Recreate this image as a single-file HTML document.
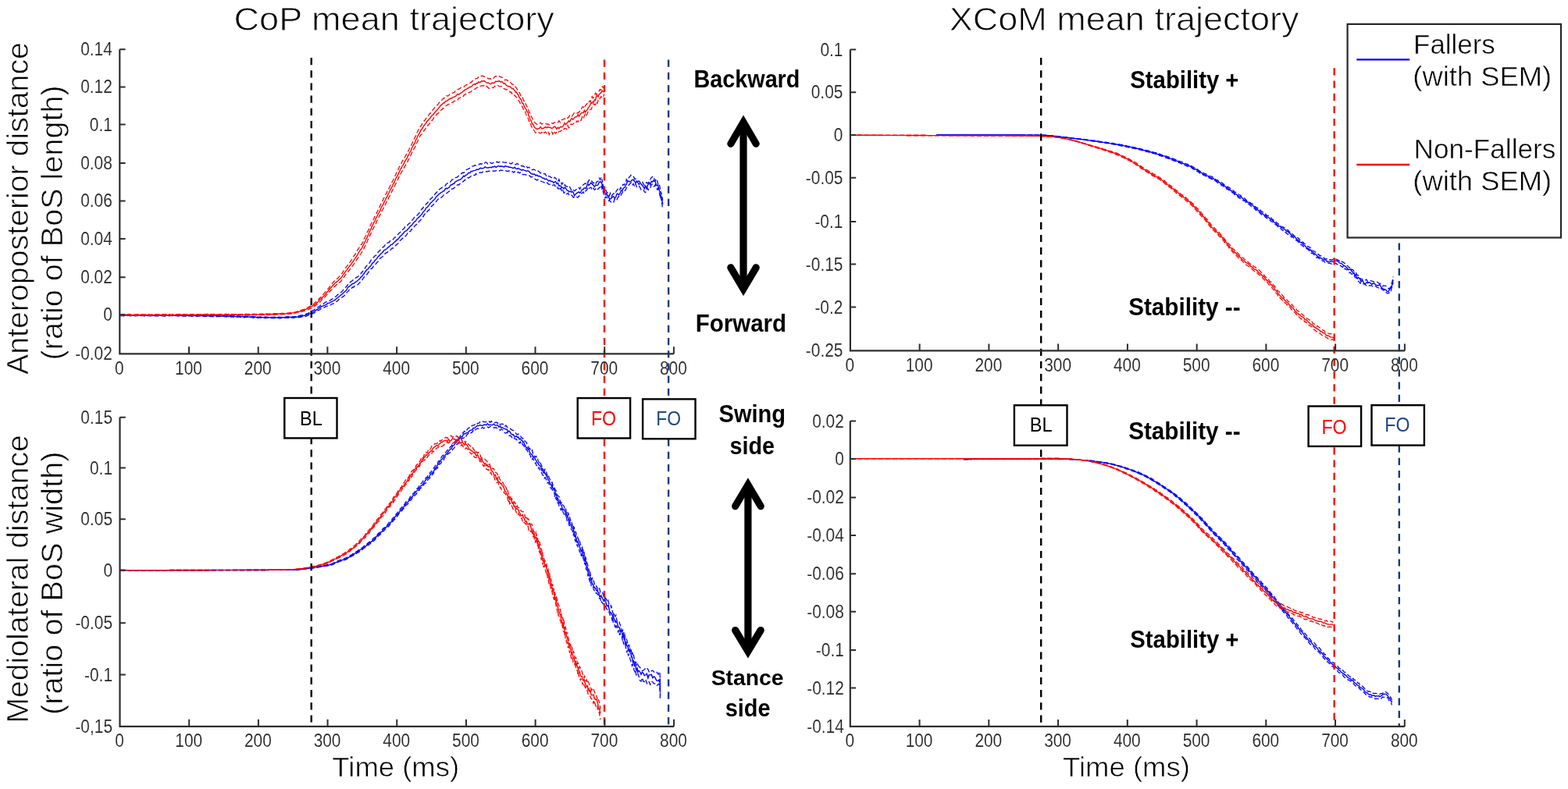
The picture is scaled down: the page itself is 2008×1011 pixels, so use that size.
<!DOCTYPE html>
<html><head><meta charset="utf-8"><title>CoP and XCoM mean trajectory</title>
<style>html,body{margin:0;padding:0;background:#fff;overflow:hidden}svg{display:block}</style>
</head><body>
<svg width="2008" height="1011" viewBox="0 0 2008 1011" font-family="'Liberation Sans', Arial, Helvetica, sans-serif">
<rect width="2008" height="1011" fill="#fff"/>
<path d="M154.0,403.7 L154.8,403.4 L155.6,403.6 L156.5,403.7 L157.4,403.0 L158.4,403.2 L159.5,403.1 L160.6,403.8 L161.7,403.4 L162.9,403.4 L164.1,403.2 L165.4,403.3 L166.7,403.5 L168.1,403.9 L169.5,403.3 L170.9,403.8 L172.3,403.6 L173.8,403.8 L175.3,403.6 L176.9,403.7 L178.5,403.5 L180.1,403.4 L181.7,403.7 L183.3,403.5 L185.0,403.7 L186.7,403.5 L188.4,403.9 L190.1,403.8 L191.8,403.9 L193.6,403.4 L195.3,403.2 L197.1,403.9 L198.9,403.6 L200.7,403.2 L202.4,403.4 L204.2,403.5 L206.0,403.7 L207.8,403.3 L209.6,403.7 L211.4,403.9 L213.2,403.9 L214.9,403.3 L216.7,403.5 L218.4,403.6 L220.2,403.7 L221.9,403.9 L223.6,403.7 L225.3,403.7 L227.0,404.0 L228.6,403.8 L230.3,403.4 L231.9,403.5 L233.5,403.8 L235.0,404.0 L236.6,403.9 L238.1,403.7 L239.5,403.6 L241.0,403.7 L242.4,404.2 L243.8,403.6 L245.1,403.5 L246.4,403.9 L247.6,404.3 L248.8,403.8 L250.0,404.0 L252.2,403.6 L254.3,403.9 L256.3,404.3 L258.3,403.9 L260.3,403.9 L262.2,404.3 L264.0,404.4 L265.8,404.5 L267.5,403.8 L269.2,403.9 L270.8,404.5 L272.4,404.1 L274.0,404.6 L275.5,404.3 L277.0,404.0 L278.4,404.6 L279.8,404.6 L281.2,404.2 L282.6,404.8 L283.9,404.4 L285.2,404.8 L286.5,404.2 L287.8,404.2 L289.1,404.6 L290.3,404.4 L291.5,405.0 L292.7,405.0 L294.0,404.7 L295.2,404.4 L296.4,404.6 L297.6,404.7 L298.8,405.2 L300.0,404.7 L302.0,405.0 L303.9,404.8 L305.7,404.9 L307.4,405.5 L309.1,405.3 L310.8,405.1 L312.4,405.5 L313.9,405.2 L315.4,405.5 L316.9,405.2 L318.3,405.1 L319.7,405.4 L321.0,405.9 L322.4,405.9 L323.7,405.4 L325.0,406.0 L326.2,405.8 L327.5,406.1 L328.7,405.5 L330.0,406.1 L331.8,406.2 L333.5,406.0 L335.0,406.2 L336.4,406.5 L337.8,406.2 L339.1,406.2 L340.4,405.9 L341.8,406.4 L343.2,406.1 L344.7,406.7 L346.3,406.5 L348.0,406.4 L350.0,406.4 L351.3,406.2 L352.6,406.1 L354.0,406.7 L355.5,406.4 L357.1,406.3 L358.7,406.5 L360.3,406.4 L362.0,406.3 L363.7,406.4 L365.4,406.2 L367.1,405.8 L368.8,405.6 L370.5,405.8 L372.1,406.0 L373.8,406.0 L375.4,406.0 L376.9,405.8 L378.4,405.7 L379.8,405.8 L381.2,405.1 L382.4,404.7 L383.6,404.5 L385.9,404.0 L387.9,404.0 L389.7,403.2 L391.2,402.8 L392.6,401.9 L394.0,401.6 L395.2,401.1 L396.5,400.2 L397.8,399.7 L399.2,398.6 L400.7,397.6 L402.1,397.5 L403.5,395.9 L404.8,395.1 L406.2,394.3 L407.6,393.3 L408.9,392.6 L410.3,391.5 L411.6,390.0 L413.0,390.0 L414.4,389.3 L415.8,388.0 L417.2,387.1 L418.6,386.6 L420.0,385.8 L421.4,385.6 L422.8,384.9 L424.2,383.9 L425.6,383.0 L427.0,382.1 L428.3,381.4 L429.6,380.2 L431.0,379.3 L432.3,377.6 L433.7,376.8 L435.0,376.0 L436.3,374.8 L437.5,374.0 L438.7,372.7 L439.8,371.2 L440.8,370.1 L442.1,369.0 L443.2,367.5 L444.0,367.1 L444.8,365.2 L445.6,364.7 L446.6,362.9 L447.8,362.4 L448.9,361.2 L450.2,360.4 L451.5,359.3 L452.9,358.2 L454.3,357.4 L455.8,355.9 L457.2,355.2 L458.5,354.6 L459.7,352.7 L460.8,351.6 L461.9,351.0 L462.9,349.1 L463.8,348.9 L464.8,347.5 L465.7,345.3 L466.6,344.3 L467.6,343.6 L468.6,341.5 L469.6,340.7 L470.6,338.8 L471.7,337.9 L472.7,337.5 L473.8,336.0 L474.8,333.9 L475.9,332.6 L477.1,331.8 L478.3,329.9 L479.2,328.8 L480.2,327.7 L481.2,327.4 L482.2,326.1 L483.2,325.3 L484.3,322.9 L485.4,322.0 L486.4,321.1 L487.5,319.7 L488.6,318.6 L489.7,317.9 L490.8,316.1 L492.0,315.9 L493.2,313.7 L494.5,313.2 L495.7,311.6 L497.0,310.8 L498.2,310.9 L499.5,308.8 L500.8,307.7 L502.1,307.1 L503.3,306.8 L504.6,305.1 L505.7,304.0 L506.7,303.9 L507.8,302.4 L508.9,301.5 L509.9,300.1 L511.0,298.7 L512.1,298.0 L513.2,296.9 L514.2,296.0 L515.3,294.4 L516.4,293.5 L517.4,293.1 L518.5,290.7 L519.6,290.9 L520.6,289.8 L521.7,288.7 L522.8,287.3 L523.8,286.5 L524.9,285.8 L525.9,284.0 L527.0,282.5 L528.0,282.0 L529.1,280.7 L530.2,279.1 L531.2,278.0 L532.3,277.5 L533.3,276.9 L534.3,275.8 L535.3,274.6 L536.3,273.5 L537.3,272.3 L538.3,270.5 L539.2,269.6 L540.2,267.6 L541.2,267.2 L542.2,265.4 L543.2,264.5 L544.2,263.1 L545.2,262.3 L546.2,260.5 L547.3,260.4 L548.3,258.4 L549.4,257.6 L550.5,256.1 L551.5,254.6 L552.6,254.2 L553.6,253.0 L554.7,250.8 L555.7,250.5 L556.8,249.4 L557.9,247.5 L558.9,246.9 L560.0,245.4 L561.3,244.2 L562.5,242.8 L563.8,241.8 L565.1,241.1 L566.3,240.0 L567.6,239.5 L568.8,238.6 L570.1,238.1 L571.4,235.9 L572.6,235.2 L573.9,233.7 L575.2,233.6 L576.4,233.4 L577.7,231.8 L579.0,230.1 L580.3,229.8 L581.5,229.5 L582.8,227.9 L584.0,227.3 L585.3,227.1 L586.5,226.3 L587.7,224.6 L589.2,223.3 L590.6,222.7 L592.1,221.3 L593.5,221.5 L594.9,220.5 L596.3,218.5 L597.6,217.2 L598.8,216.8 L600.0,216.3 L601.8,215.2 L603.3,214.2 L604.7,213.2 L606.2,213.0 L608.0,211.8 L609.3,212.1 L610.7,212.0 L612.2,211.9 L613.7,210.4 L615.3,209.8 L616.8,210.3 L618.4,209.1 L619.9,210.1 L621.4,208.2 L623.0,208.2 L624.6,210.0 L626.1,209.0 L627.7,208.2 L629.2,209.3 L630.6,209.3 L631.9,208.3 L633.7,207.7 L635.2,208.3 L636.5,207.2 L638.0,208.3 L639.8,207.5 L641.1,208.1 L642.5,207.7 L644.0,207.7 L645.5,208.1 L647.1,208.2 L648.7,208.3 L650.3,208.2 L651.8,208.7 L653.3,209.4 L654.8,210.0 L656.3,208.4 L657.8,208.9 L659.2,210.6 L660.7,210.8 L662.2,209.5 L663.7,210.5 L665.2,210.5 L666.7,211.7 L668.2,212.8 L669.7,212.5 L671.2,213.6 L672.7,214.5 L674.2,213.0 L675.7,215.1 L677.2,214.3 L678.7,215.4 L680.2,217.3 L681.7,217.7 L683.1,217.0 L684.6,217.5 L686.1,218.4 L687.6,219.9 L689.1,219.1 L690.6,220.2 L692.1,221.8 L693.6,220.9 L695.1,221.8 L696.6,222.8 L698.1,222.6 L699.6,225.2 L701.1,224.0 L702.7,226.0 L704.3,226.2 L705.9,227.5 L707.4,227.6 L708.9,229.2 L710.3,227.3 L711.6,228.2 L713.2,231.2 L714.5,232.7 L715.8,229.8 L717.0,233.5 L718.2,232.9 L719.5,236.3 L720.8,234.3 L722.2,237.7 L723.5,236.9 L724.8,238.6 L726.2,239.0 L727.5,239.1 L728.9,238.1 L730.3,241.0 L731.7,243.8 L733.1,244.6 L734.4,243.0 L735.5,244.7 L737.2,243.7 L738.5,241.9 L740.0,241.1 L741.2,240.3 L742.5,242.3 L743.9,239.6 L745.4,238.7 L746.9,236.7 L748.0,236.0 L749.2,234.9 L750.4,235.4 L751.6,232.5 L752.8,234.0 L754.0,231.4 L755.2,229.8 L756.8,230.4 L758.4,233.0 L759.9,234.8 L761.4,233.5 L762.9,235.7 L764.4,232.5 L765.9,232.4 L767.3,228.2 L768.7,230.3 L769.8,227.0 L770.4,228.3 L770.9,229.0 L771.2,233.8 L771.6,232.7 L772.0,234.1 L772.5,239.3 L773.2,240.3 L774.0,241.9 L775.0,244.2 L776.0,243.8 L777.1,247.1 L778.2,246.7 L779.4,249.5 L780.5,250.8 L781.6,247.5 L783.0,251.7 L784.4,249.3 L785.8,247.9 L787.2,248.7 L788.6,246.2 L789.9,243.8 L791.1,242.4 L792.4,244.8 L793.5,243.4 L794.7,240.4 L795.7,241.5 L796.8,238.3 L798.0,236.2 L799.2,237.1 L800.3,235.4 L801.3,234.9 L802.3,229.8 L803.4,231.8 L804.4,228.8 L805.3,227.4 L806.5,226.5 L807.9,224.3 L809.4,225.5 L811.1,225.6 L812.7,229.4 L814.0,229.1 L815.4,230.1 L816.8,232.5 L818.2,231.9 L819.6,234.1 L821.0,232.1 L822.5,232.7 L824.0,235.9 L825.3,237.6 L826.6,234.9 L827.9,233.6 L829.1,235.1 L830.2,233.8 L831.4,231.9 L832.7,230.0 L834.2,227.4 L835.6,226.5 L837.0,226.0 L838.1,230.6 L839.3,231.6 L840.4,229.0 L841.5,230.5 L842.5,235.7 L843.2,234.4 L843.8,236.6 L844.4,237.4 L845.0,239.5 L845.5,242.1 L846.0,242.3 L846.4,247.5 L846.8,246.5 L847.2,249.9 L847.6,252.3 L847.9,252.6 L848.2,254.5 L848.5,255.4 L848.7,256.6" fill="none" stroke="#0000ff" stroke-width="1.3" stroke-dasharray="6 3"/>
<path d="M154.0,404.8 L154.8,404.6 L155.6,404.3 L156.5,404.6 L157.4,404.6 L158.4,405.0 L159.5,404.2 L160.6,404.5 L161.7,404.3 L162.9,404.6 L164.1,404.4 L165.4,404.3 L166.7,404.8 L168.1,404.9 L169.5,404.8 L170.9,404.6 L172.3,404.5 L173.8,405.0 L175.3,404.3 L176.9,404.6 L178.5,404.9 L180.1,404.7 L181.7,404.7 L183.3,404.3 L185.0,405.1 L186.7,404.5 L188.4,405.0 L190.1,404.5 L191.8,404.8 L193.6,404.8 L195.3,405.0 L197.1,405.0 L198.9,404.8 L200.7,405.1 L202.4,404.8 L204.2,404.7 L206.0,404.9 L207.8,404.6 L209.6,405.1 L211.4,405.1 L213.2,405.0 L214.9,404.5 L216.7,404.6 L218.4,404.5 L220.2,404.6 L221.9,404.9 L223.6,404.5 L225.3,404.7 L227.0,404.9 L228.6,405.2 L230.3,404.7 L231.9,405.1 L233.5,404.7 L235.0,405.0 L236.6,404.9 L238.1,405.1 L239.5,405.4 L241.0,405.3 L242.4,405.2 L243.8,404.6 L245.1,405.3 L246.4,404.8 L247.6,405.2 L248.8,405.0 L250.0,405.0 L252.2,405.3 L254.3,405.0 L256.3,404.8 L258.3,405.6 L260.3,405.0 L262.2,405.6 L264.0,405.4 L265.8,405.1 L267.5,405.1 L269.2,405.6 L270.8,405.3 L272.4,405.7 L274.0,405.8 L275.5,405.2 L277.0,405.8 L278.4,405.4 L279.8,405.5 L281.2,405.3 L282.6,405.7 L283.9,405.5 L285.2,405.3 L286.5,405.4 L287.8,405.6 L289.1,405.5 L290.3,406.0 L291.5,405.8 L292.7,405.7 L294.0,405.6 L295.2,405.6 L296.4,406.1 L297.6,405.7 L298.8,406.4 L300.0,406.2 L302.0,406.3 L303.9,406.2 L305.7,405.9 L307.4,406.3 L309.1,406.7 L310.8,406.3 L312.4,406.8 L313.9,406.6 L315.4,406.4 L316.9,406.3 L318.3,406.3 L319.7,407.0 L321.0,406.5 L322.4,406.5 L323.7,407.1 L325.0,406.8 L326.2,407.3 L327.5,406.7 L328.7,406.9 L330.0,407.4 L331.8,407.3 L333.5,406.9 L335.0,407.1 L336.4,407.6 L337.8,407.7 L339.1,407.3 L340.4,407.6 L341.8,407.2 L343.2,407.3 L344.7,407.5 L346.3,407.4 L348.0,407.6 L350.0,407.7 L351.3,407.6 L352.6,407.5 L354.0,407.9 L355.5,407.1 L357.1,407.8 L358.7,407.8 L360.3,407.7 L362.0,407.6 L363.7,407.7 L365.4,407.0 L367.1,407.3 L368.8,407.3 L370.5,407.1 L372.1,406.7 L373.8,407.1 L375.4,407.3 L376.9,407.1 L378.4,406.7 L379.8,406.5 L381.2,406.3 L382.4,406.8 L383.6,406.5 L385.9,406.0 L387.9,405.5 L389.7,405.2 L391.2,405.5 L392.6,404.9 L394.0,404.2 L395.2,404.2 L396.5,403.4 L397.8,402.9 L399.2,401.9 L400.7,401.9 L402.1,401.2 L403.5,400.2 L404.8,399.4 L406.2,398.2 L407.6,397.6 L408.9,397.2 L410.3,396.1 L411.6,395.3 L413.0,395.1 L414.4,394.1 L415.8,393.8 L417.2,392.7 L418.6,392.3 L420.0,391.8 L421.4,391.4 L422.8,391.0 L424.2,390.3 L425.6,389.3 L427.0,389.1 L428.3,388.2 L429.6,386.9 L431.0,386.5 L432.3,385.6 L433.7,383.8 L435.0,383.2 L436.3,381.8 L437.5,381.5 L438.7,380.5 L439.8,379.9 L440.8,379.0 L442.1,377.4 L443.2,376.4 L444.0,374.9 L444.8,374.1 L445.6,373.4 L446.6,372.4 L447.8,370.3 L448.9,369.7 L450.2,369.5 L451.5,368.0 L452.9,368.0 L454.3,366.5 L455.8,365.5 L457.2,365.4 L458.5,364.4 L459.7,363.1 L460.8,361.8 L461.9,361.5 L462.9,360.2 L463.8,358.9 L464.8,357.1 L465.7,356.2 L466.6,354.7 L467.6,353.9 L468.6,353.0 L469.6,352.1 L470.6,350.7 L471.7,349.0 L472.7,347.8 L473.8,346.3 L474.8,345.0 L475.9,344.1 L477.1,343.3 L478.3,341.0 L479.2,340.1 L480.2,338.7 L481.2,338.4 L482.2,336.8 L483.2,335.9 L484.3,335.1 L485.4,333.4 L486.4,331.5 L487.5,330.5 L488.6,330.0 L489.7,328.9 L490.8,328.2 L492.0,326.9 L493.2,324.8 L494.5,324.2 L495.7,323.4 L497.0,322.3 L498.2,320.8 L499.5,320.9 L500.8,319.4 L502.1,318.0 L503.3,318.0 L504.6,316.0 L505.7,315.2 L506.7,314.5 L507.8,313.3 L508.9,312.8 L509.9,311.9 L511.0,309.7 L512.1,308.5 L513.2,307.4 L514.2,306.7 L515.3,305.6 L516.4,304.8 L517.4,303.4 L518.5,303.3 L519.6,302.2 L520.6,301.2 L521.7,298.9 L522.8,299.2 L523.8,297.8 L524.9,296.6 L525.9,296.1 L527.0,293.7 L528.0,293.8 L529.1,292.5 L530.2,291.1 L531.2,289.5 L532.3,288.1 L533.3,287.9 L534.3,285.8 L535.3,285.7 L536.3,284.3 L537.3,282.9 L538.3,282.5 L539.2,281.0 L540.2,278.8 L541.2,278.1 L542.2,277.5 L543.2,274.9 L544.2,274.0 L545.2,272.5 L546.2,272.8 L547.3,271.0 L548.3,269.8 L549.4,269.2 L550.5,266.9 L551.5,266.2 L552.6,264.2 L553.6,264.0 L554.7,262.2 L555.7,261.5 L556.8,260.7 L557.9,259.5 L558.9,257.9 L560.0,256.3 L561.3,254.9 L562.5,255.2 L563.8,254.4 L565.1,253.0 L566.3,252.0 L567.6,250.6 L568.8,248.9 L570.1,248.2 L571.4,247.8 L572.6,247.3 L573.9,246.1 L575.2,245.1 L576.4,244.9 L577.7,243.0 L579.0,241.9 L580.3,241.9 L581.5,240.8 L582.8,240.0 L584.0,239.5 L585.3,237.2 L586.5,236.6 L587.7,237.0 L589.2,235.2 L590.6,233.7 L592.1,233.2 L593.5,232.5 L594.9,230.7 L596.3,230.7 L597.6,228.9 L598.8,227.8 L600.0,228.0 L601.8,226.9 L603.3,225.5 L604.7,224.7 L606.2,224.3 L608.0,224.7 L609.3,222.6 L610.7,223.3 L612.2,222.2 L613.7,221.4 L615.3,220.9 L616.8,221.4 L618.4,220.3 L619.9,220.5 L621.4,220.0 L623.0,219.7 L624.6,219.9 L626.1,219.2 L627.7,219.6 L629.2,219.1 L630.6,219.2 L631.9,218.9 L633.7,219.3 L635.2,218.6 L636.5,218.7 L638.0,218.0 L639.8,218.9 L641.1,218.0 L642.5,218.4 L644.0,218.3 L645.5,218.8 L647.1,218.3 L648.7,219.3 L650.3,219.5 L651.8,218.8 L653.3,220.0 L654.8,220.5 L656.3,219.7 L657.8,221.2 L659.2,219.8 L660.7,220.3 L662.2,221.7 L663.7,220.3 L665.2,221.9 L666.7,220.9 L668.2,222.7 L669.7,223.8 L671.2,223.6 L672.7,223.7 L674.2,224.4 L675.7,223.9 L677.2,224.7 L678.7,225.6 L680.2,227.0 L681.7,226.7 L683.1,228.0 L684.6,229.1 L686.1,230.0 L687.6,230.9 L689.1,230.1 L690.6,231.6 L692.1,231.8 L693.6,232.5 L695.1,233.0 L696.6,233.7 L698.1,234.8 L699.6,233.6 L701.1,234.6 L702.7,236.3 L704.3,236.1 L705.9,235.8 L707.4,237.6 L708.9,236.8 L710.3,236.9 L711.6,240.1 L713.2,239.1 L714.5,241.9 L715.8,241.1 L717.0,244.0 L718.2,241.0 L719.5,245.6 L720.8,243.5 L722.2,247.4 L723.5,246.2 L724.8,248.8 L726.2,248.5 L727.5,247.4 L728.9,250.0 L730.3,250.9 L731.7,250.1 L733.1,251.3 L734.4,253.2 L735.5,252.4 L737.2,253.3 L738.5,252.2 L740.0,253.2 L741.2,251.4 L742.5,250.9 L743.9,248.0 L745.4,247.6 L746.9,245.9 L748.0,247.9 L749.2,245.1 L750.4,244.4 L751.6,243.5 L752.8,240.0 L754.0,241.9 L755.2,240.7 L756.8,240.1 L758.4,243.5 L759.9,241.1 L761.4,243.3 L762.9,242.0 L764.4,243.8 L765.9,242.0 L767.3,240.6 L768.7,239.9 L769.8,239.3 L770.4,237.1 L770.9,241.5 L771.2,240.9 L771.6,244.2 L772.0,243.6 L772.5,246.6 L773.2,247.8 L774.0,252.0 L775.0,253.7 L776.0,252.1 L777.1,253.0 L778.2,253.9 L779.4,257.2 L780.5,256.2 L781.6,258.2 L783.0,259.1 L784.4,258.4 L785.8,259.2 L787.2,254.6 L788.6,256.9 L789.9,256.2 L791.1,253.4 L792.4,251.8 L793.5,252.6 L794.7,251.6 L795.7,248.8 L796.8,247.1 L798.0,244.4 L799.2,243.6 L800.3,244.3 L801.3,243.0 L802.3,240.8 L803.4,238.3 L804.4,238.2 L805.3,237.0 L806.5,235.7 L807.9,234.0 L809.4,237.5 L811.1,235.5 L812.7,239.2 L814.0,235.6 L815.4,239.9 L816.8,239.7 L818.2,238.5 L819.6,240.2 L821.0,243.1 L822.5,242.0 L824.0,243.0 L825.3,245.9 L826.6,246.6 L827.9,243.9 L829.1,241.0 L830.2,243.4 L831.4,241.2 L832.7,241.4 L834.2,236.5 L835.6,236.1 L837.0,239.0 L838.1,238.6 L839.3,236.5 L840.4,239.0 L841.5,242.8 L842.5,241.3 L843.2,243.8 L843.8,245.7 L844.4,246.4 L845.0,251.3 L845.5,249.1 L846.0,253.6 L846.4,254.2 L846.8,254.3 L847.2,259.4 L847.6,260.1 L847.9,261.5 L848.2,264.8 L848.5,266.0 L848.7,265.8" fill="none" stroke="#0000ff" stroke-width="1.3" stroke-dasharray="6 3"/>
<path d="M154.0,403.7 L154.8,403.8 L155.6,404.1 L156.5,403.6 L157.4,404.2 L158.4,404.2 L159.5,404.3 L160.6,404.1 L161.7,403.8 L162.9,403.8 L164.1,403.8 L165.4,404.0 L166.7,404.3 L168.1,403.8 L169.5,403.8 L170.9,404.2 L172.3,404.3 L173.8,404.2 L175.3,404.1 L176.9,403.9 L178.5,403.8 L180.1,404.2 L181.7,404.1 L183.3,404.0 L185.0,403.8 L186.7,404.2 L188.4,404.1 L190.1,404.2 L191.8,404.2 L193.6,404.1 L195.3,404.5 L197.1,404.4 L198.9,404.4 L200.7,404.1 L202.4,404.3 L204.2,404.2 L206.0,404.3 L207.8,404.2 L209.6,404.0 L211.4,404.5 L213.2,404.1 L214.9,403.9 L216.7,404.5 L218.4,404.4 L220.2,404.0 L221.9,404.1 L223.6,404.2 L225.3,404.2 L227.0,404.0 L228.6,404.1 L230.3,404.0 L231.9,404.5 L233.5,404.5 L235.0,404.8 L236.6,404.2 L238.1,404.5 L239.5,404.1 L241.0,404.7 L242.4,404.3 L243.8,404.4 L245.1,404.8 L246.4,404.8 L247.6,404.8 L248.8,404.5 L250.0,404.3 L252.2,404.3 L254.3,404.4 L256.3,404.9 L258.3,404.4 L260.3,404.9 L262.2,404.8 L264.0,404.6 L265.8,404.7 L267.5,404.9 L269.2,405.1 L270.8,404.9 L272.4,404.7 L274.0,404.9 L275.5,404.6 L277.0,404.6 L278.4,405.2 L279.8,405.1 L281.2,405.1 L282.6,404.9 L283.9,405.4 L285.2,405.3 L286.5,405.3 L287.8,405.5 L289.1,405.6 L290.3,405.0 L291.5,405.0 L292.7,405.7 L294.0,405.1 L295.2,405.5 L296.4,405.8 L297.6,405.4 L298.8,405.8 L300.0,405.2 L302.0,405.9 L303.9,405.7 L305.7,405.5 L307.4,405.5 L309.1,405.9 L310.8,405.7 L312.4,405.7 L313.9,405.8 L315.4,406.0 L316.9,405.6 L318.3,406.1 L319.7,406.2 L321.0,406.2 L322.4,406.2 L323.7,406.6 L325.0,406.7 L326.2,406.1 L327.5,406.3 L328.7,406.8 L330.0,406.8 L331.8,406.8 L333.5,406.4 L335.0,406.9 L336.4,406.4 L337.8,406.9 L339.1,406.8 L340.4,406.7 L341.8,406.9 L343.2,406.9 L344.7,406.8 L346.3,407.0 L348.0,406.6 L350.0,407.1 L351.3,407.2 L352.6,406.9 L354.0,407.0 L355.5,406.7 L357.1,406.5 L358.7,406.6 L360.3,406.7 L362.0,406.7 L363.7,406.8 L365.4,407.1 L367.1,406.5 L368.8,406.8 L370.5,406.7 L372.1,406.2 L373.8,406.8 L375.4,406.1 L376.9,405.9 L378.4,406.2 L379.8,406.3 L381.2,406.1 L382.4,405.6 L383.6,406.0 L385.9,405.2 L387.9,404.7 L389.7,404.2 L391.2,404.1 L392.6,403.2 L394.0,402.8 L395.2,402.5 L396.5,402.2 L397.8,401.5 L399.2,400.4 L400.7,400.1 L402.1,399.1 L403.5,398.6 L404.8,397.4 L406.2,396.3 L407.6,395.5 L408.9,394.6 L410.3,393.8 L411.6,392.7 L413.0,392.3 L414.4,391.5 L415.8,391.1 L417.2,390.6 L418.6,389.6 L420.0,388.4 L421.4,388.2 L422.8,387.8 L424.2,386.9 L425.6,386.3 L427.0,385.4 L428.3,384.8 L429.6,383.9 L431.0,382.3 L432.3,381.6 L433.7,380.5 L435.0,379.5 L436.3,378.3 L437.5,377.4 L438.7,376.3 L439.8,375.2 L440.8,374.3 L442.1,373.3 L443.2,372.3 L444.0,371.1 L444.8,369.9 L445.6,368.3 L446.6,367.4 L447.8,366.6 L448.9,366.0 L450.2,364.6 L451.5,363.4 L452.9,363.5 L454.3,362.3 L455.8,361.2 L457.2,360.5 L458.5,358.9 L459.7,358.0 L460.8,357.1 L461.9,355.4 L462.9,354.4 L463.8,353.9 L464.8,352.1 L465.7,351.3 L466.6,349.8 L467.6,348.2 L468.6,347.4 L469.6,345.9 L470.6,345.5 L471.7,344.1 L472.7,342.6 L473.8,341.7 L474.8,340.5 L475.9,338.9 L477.1,336.9 L478.3,336.5 L479.2,335.4 L480.2,333.3 L481.2,332.8 L482.2,331.9 L483.2,330.4 L484.3,328.7 L485.4,327.9 L486.4,326.6 L487.5,325.2 L488.6,324.7 L489.7,323.4 L490.8,322.3 L492.0,320.4 L493.2,320.3 L494.5,319.2 L495.7,318.5 L497.0,316.8 L498.2,316.2 L499.5,315.0 L500.8,313.4 L502.1,313.3 L503.3,312.3 L504.6,310.5 L505.7,309.9 L506.7,309.2 L507.8,307.2 L508.9,307.5 L509.9,306.0 L511.0,305.1 L512.1,303.3 L513.2,302.2 L514.2,301.8 L515.3,299.9 L516.4,299.5 L517.4,297.5 L518.5,296.7 L519.6,295.9 L520.6,295.6 L521.7,294.5 L522.8,292.9 L523.8,292.2 L524.9,290.5 L525.9,289.6 L527.0,288.7 L528.0,287.9 L529.1,286.0 L530.2,284.7 L531.2,283.9 L532.3,283.3 L533.3,281.3 L534.3,280.3 L535.3,279.5 L536.3,278.2 L537.3,277.9 L538.3,276.4 L539.2,275.4 L540.2,274.5 L541.2,272.8 L542.2,271.2 L543.2,270.5 L544.2,269.4 L545.2,267.3 L546.2,265.9 L547.3,265.7 L548.3,264.1 L549.4,262.9 L550.5,261.4 L551.5,260.0 L552.6,259.2 L553.6,258.1 L554.7,256.8 L555.7,256.3 L556.8,255.1 L557.9,253.1 L558.9,252.0 L560.0,250.9 L561.3,249.8 L562.5,248.4 L563.8,248.0 L565.1,246.4 L566.3,246.2 L567.6,244.8 L568.8,244.7 L570.1,242.3 L571.4,241.2 L572.6,241.9 L573.9,240.8 L575.2,240.1 L576.4,238.1 L577.7,236.7 L579.0,236.8 L580.3,235.2 L581.5,235.4 L582.8,233.1 L584.0,232.6 L585.3,231.5 L586.5,231.1 L587.7,230.5 L589.2,230.4 L590.6,229.2 L592.1,227.9 L593.5,225.5 L594.9,226.2 L596.3,224.5 L597.6,224.2 L598.8,223.1 L600.0,221.4 L601.8,221.8 L603.3,219.4 L604.7,219.8 L606.2,218.6 L608.0,218.4 L609.3,218.1 L610.7,217.0 L612.2,217.5 L613.7,216.4 L615.3,215.3 L616.8,215.7 L618.4,215.6 L619.9,215.1 L621.4,213.8 L623.0,214.9 L624.6,215.0 L626.1,214.8 L627.7,214.2 L629.2,215.0 L630.6,213.5 L631.9,213.9 L633.7,213.0 L635.2,214.5 L636.5,213.5 L638.0,212.5 L639.8,213.3 L641.1,213.0 L642.5,213.3 L644.0,213.2 L645.5,214.1 L647.1,212.6 L648.7,213.2 L650.3,213.5 L651.8,214.2 L653.3,214.2 L654.8,214.7 L656.3,215.2 L657.8,215.4 L659.2,214.3 L660.7,216.1 L662.2,216.4 L663.7,215.6 L665.2,216.5 L666.7,217.4 L668.2,218.2 L669.7,217.4 L671.2,218.1 L672.7,218.5 L674.2,219.5 L675.7,218.7 L677.2,219.3 L678.7,221.0 L680.2,222.6 L681.7,222.8 L683.1,223.5 L684.6,223.0 L686.1,225.0 L687.6,224.2 L689.1,225.8 L690.6,225.5 L692.1,226.3 L693.6,227.0 L695.1,228.5 L696.6,228.2 L698.1,229.9 L699.6,229.1 L701.1,230.5 L702.7,231.9 L704.3,231.1 L705.9,232.6 L707.4,232.2 L708.9,234.4 L710.3,233.2 L711.6,232.7 L713.2,235.6 L714.5,234.5 L715.8,238.4 L717.0,238.0 L718.2,238.4 L719.5,240.3 L720.8,240.5 L722.2,241.8 L723.5,239.9 L724.8,241.8 L726.2,243.9 L727.5,244.4 L728.9,245.8 L730.3,245.0 L731.7,246.4 L733.1,245.2 L734.4,247.1 L735.5,250.6 L737.2,248.7 L738.5,247.6 L740.0,246.6 L741.2,245.9 L742.5,247.3 L743.9,245.9 L745.4,242.9 L746.9,242.8 L748.0,240.9 L749.2,241.0 L750.4,241.3 L751.6,237.9 L752.8,235.5 L754.0,237.6 L755.2,236.4 L756.8,234.2 L758.4,235.9 L759.9,237.2 L761.4,239.5 L762.9,237.0 L764.4,237.8 L765.9,236.8 L767.3,233.6 L768.7,232.6 L769.8,233.8 L770.4,234.5 L770.9,235.2 L771.2,237.8 L771.6,240.6 L772.0,239.7 L772.5,241.3 L773.2,244.2 L774.0,246.3 L775.0,247.2 L776.0,249.8 L777.1,248.3 L778.2,251.7 L779.4,251.3 L780.5,255.3 L781.6,254.8 L783.0,253.9 L784.4,252.4 L785.8,251.7 L787.2,254.1 L788.6,252.7 L789.9,248.5 L791.1,248.0 L792.4,249.9 L793.5,248.7 L794.7,246.0 L795.7,244.0 L796.8,244.7 L798.0,241.9 L799.2,240.4 L800.3,240.2 L801.3,236.9 L802.3,236.3 L803.4,232.4 L804.4,232.5 L805.3,232.3 L806.5,232.7 L807.9,232.4 L809.4,230.5 L811.1,230.3 L812.7,232.5 L814.0,234.7 L815.4,232.1 L816.8,233.9 L818.2,236.2 L819.6,235.2 L821.0,235.7 L822.5,237.5 L824.0,239.3 L825.3,241.6 L826.6,238.3 L827.9,241.3 L829.1,237.9 L830.2,236.4 L831.4,234.0 L832.7,236.5 L834.2,232.3 L835.6,233.1 L837.0,231.2 L838.1,232.4 L839.3,232.9 L840.4,237.7 L841.5,237.4 L842.5,237.0 L843.2,240.3 L843.8,241.6 L844.4,243.9 L845.0,245.7 L845.5,246.4 L846.0,246.4 L846.4,250.7 L846.8,252.6 L847.2,253.2 L847.6,257.3 L847.9,257.3 L848.2,259.5 L848.5,259.8 L848.7,261.8" fill="none" stroke="#0000ff" stroke-width="1.4"/>
<path d="M154.0,403.2 L154.8,403.1 L155.7,402.8 L156.7,403.0 L157.8,402.8 L159.0,403.2 L160.2,402.8 L161.5,402.9 L162.9,403.2 L164.3,402.8 L165.8,402.7 L167.3,403.0 L168.9,403.1 L170.5,403.1 L172.2,403.2 L173.9,403.1 L175.6,403.0 L177.3,403.0 L179.1,403.2 L180.9,403.0 L182.7,403.0 L184.5,403.1 L186.2,402.9 L188.0,403.3 L189.8,403.0 L191.6,402.9 L193.3,403.3 L195.0,403.2 L196.7,402.8 L198.4,403.1 L200.0,403.2 L201.5,403.2 L202.9,403.2 L204.4,402.7 L205.9,403.1 L207.4,402.7 L208.8,402.8 L210.3,402.8 L211.8,402.7 L213.3,402.7 L214.9,403.1 L216.4,402.7 L217.9,403.1 L219.4,403.2 L220.9,402.8 L222.5,402.7 L224.0,402.7 L225.5,402.9 L227.0,402.8 L228.6,402.6 L230.1,402.6 L231.6,402.6 L233.2,403.2 L234.7,402.7 L236.3,402.9 L237.8,403.0 L239.3,402.9 L240.9,402.8 L242.4,402.7 L243.9,402.7 L245.4,402.8 L247.0,402.6 L248.5,402.9 L250.0,402.8 L251.5,402.8 L253.1,403.0 L254.6,403.0 L256.2,403.1 L257.8,402.9 L259.4,403.0 L261.0,402.7 L262.6,402.6 L264.2,402.6 L265.8,402.5 L267.4,402.8 L269.0,402.9 L270.6,402.5 L272.2,402.8 L273.9,402.5 L275.5,402.9 L277.0,402.7 L278.6,402.8 L280.2,402.9 L281.8,402.6 L283.3,402.6 L284.8,403.0 L286.3,402.5 L287.8,402.5 L289.3,402.5 L290.7,402.8 L292.1,402.6 L293.5,402.7 L294.9,402.7 L296.2,402.5 L297.5,402.6 L298.8,402.8 L300.0,402.9 L302.0,402.7 L303.9,402.9 L305.7,402.7 L307.4,402.9 L309.1,402.9 L310.8,402.7 L312.4,402.5 L313.9,402.7 L315.4,402.3 L316.9,402.8 L318.3,402.3 L319.7,402.6 L321.0,402.3 L322.4,402.3 L323.7,402.3 L325.0,402.5 L326.2,402.5 L327.5,402.7 L328.7,402.4 L330.0,402.6 L331.9,402.3 L333.6,402.1 L335.3,402.1 L336.9,402.2 L338.4,402.5 L339.9,402.1 L341.3,401.9 L342.8,402.1 L344.2,402.1 L345.6,402.1 L347.0,402.2 L348.5,401.8 L350.0,402.0 L351.6,401.6 L353.1,401.8 L354.7,401.8 L356.3,401.7 L357.9,402.0 L359.5,401.6 L361.1,401.3 L362.7,401.5 L364.2,401.7 L365.7,401.6 L367.2,401.1 L368.6,401.1 L370.0,400.8 L371.7,400.7 L373.3,400.8 L374.9,400.4 L376.4,400.2 L377.9,399.9 L379.3,399.5 L380.7,399.0 L382.1,398.5 L383.6,397.9 L385.0,397.3 L386.4,397.4 L387.9,396.5 L389.3,396.3 L390.7,395.6 L392.1,395.3 L393.4,394.2 L394.8,393.5 L396.2,392.8 L397.6,392.1 L399.0,391.0 L400.2,390.6 L401.3,389.8 L402.5,388.7 L403.7,387.5 L404.8,386.4 L406.0,385.6 L407.2,384.7 L408.3,383.2 L409.5,381.8 L410.7,381.2 L411.8,379.3 L413.0,378.0 L414.0,377.1 L415.0,375.8 L416.1,374.6 L417.1,373.6 L418.2,372.4 L419.3,371.4 L420.3,369.9 L421.4,368.4 L422.4,366.8 L423.4,365.7 L424.3,365.0 L425.3,363.6 L426.2,362.2 L427.0,361.3 L428.4,360.0 L429.7,359.1 L430.8,357.7 L431.9,357.1 L433.0,356.0 L434.0,354.9 L435.0,354.0 L435.9,353.1 L437.1,351.1 L438.1,350.3 L439.1,348.3 L440.0,347.1 L440.9,346.1 L441.9,344.0 L442.9,343.1 L443.9,341.6 L444.9,340.5 L445.8,338.6 L446.8,338.0 L447.8,336.3 L448.8,335.3 L449.8,333.6 L450.7,332.0 L451.7,330.3 L452.7,328.7 L453.7,327.3 L454.6,326.5 L455.4,324.9 L456.3,323.2 L457.1,321.7 L458.0,320.2 L458.8,318.8 L459.7,317.6 L460.5,315.9 L461.2,315.0 L461.9,313.9 L462.7,313.4 L463.5,312.3 L464.5,310.7 L465.6,308.3 L466.1,307.2 L466.7,305.6 L467.2,304.3 L467.8,303.3 L468.5,302.0 L469.1,300.3 L469.8,298.7 L470.5,297.1 L471.2,296.1 L471.9,294.5 L472.6,293.1 L473.3,290.9 L474.0,289.5 L474.7,288.4 L475.4,286.4 L476.0,285.6 L476.7,283.9 L477.3,283.2 L478.1,281.6 L478.8,279.9 L479.5,278.3 L480.3,276.7 L481.0,275.1 L481.7,274.0 L482.4,272.9 L483.1,271.2 L483.7,270.1 L484.4,268.5 L485.1,267.2 L485.8,265.2 L486.5,264.7 L487.2,262.4 L487.9,261.2 L488.6,259.9 L489.4,258.7 L490.1,257.1 L490.8,255.2 L491.5,254.0 L492.3,252.8 L493.0,251.8 L493.7,249.5 L494.4,248.3 L495.1,247.6 L495.8,245.4 L496.5,244.3 L497.1,243.4 L497.9,241.6 L498.7,240.3 L499.4,238.5 L500.1,237.2 L500.8,235.5 L501.5,234.2 L502.2,233.1 L502.9,231.8 L503.6,230.5 L504.3,228.7 L505.0,227.7 L505.7,226.0 L506.4,224.6 L507.1,223.0 L507.8,221.4 L508.5,219.9 L509.2,218.5 L509.9,217.7 L510.6,215.6 L511.3,213.8 L512.1,212.9 L512.9,211.7 L513.6,210.1 L514.3,208.5 L515.1,206.7 L515.9,205.3 L516.7,204.9 L517.5,203.2 L518.2,201.8 L519.0,200.6 L519.8,198.8 L520.6,197.5 L521.4,196.7 L522.1,195.1 L522.8,193.5 L523.6,192.0 L524.4,190.3 L525.1,188.6 L525.8,188.1 L526.5,186.5 L527.2,185.0 L527.9,183.7 L528.6,181.8 L529.3,181.0 L530.0,179.0 L530.7,177.2 L531.4,176.2 L532.0,174.4 L532.7,173.8 L533.4,171.7 L534.0,170.2 L534.7,169.3 L535.4,167.1 L536.1,165.9 L536.8,165.2 L537.5,164.1 L538.2,161.7 L539.0,161.4 L539.9,160.3 L540.7,158.1 L541.7,156.6 L542.6,155.0 L543.5,154.9 L544.5,153.5 L545.4,151.9 L546.4,150.9 L547.3,150.0 L548.3,148.9 L549.2,147.3 L550.2,145.4 L551.2,145.1 L552.2,142.9 L553.2,142.1 L554.2,140.8 L555.2,139.6 L556.1,138.9 L557.1,137.3 L558.1,136.0 L559.1,135.9 L560.2,134.4 L561.3,133.1 L562.4,131.4 L563.5,130.5 L564.6,129.0 L565.7,128.4 L566.8,127.4 L567.9,125.8 L569.0,125.9 L570.4,123.8 L571.8,122.7 L573.2,123.1 L574.7,122.3 L576.1,120.5 L577.5,119.9 L578.9,120.0 L580.3,118.6 L581.7,118.6 L583.1,116.7 L584.6,116.3 L586.0,114.5 L587.4,114.4 L588.8,113.6 L590.2,112.2 L591.6,112.3 L593.0,111.8 L594.5,110.8 L595.9,109.8 L597.3,108.8 L598.7,108.1 L600.1,107.4 L601.5,106.7 L602.9,105.6 L604.4,104.6 L605.8,102.9 L607.2,102.6 L608.6,101.0 L610.0,100.7 L611.4,100.5 L612.8,98.7 L614.3,98.7 L615.7,97.5 L617.1,97.4 L618.5,97.1 L620.1,98.2 L621.8,98.4 L623.5,99.4 L625.1,100.9 L626.8,100.7 L628.4,101.2 L630.1,99.9 L631.7,100.7 L633.4,98.4 L635.0,97.6 L636.7,98.6 L638.3,98.0 L639.7,97.5 L641.1,98.9 L642.5,98.8 L643.9,99.5 L645.3,100.3 L646.6,102.6 L647.9,102.1 L649.3,102.7 L650.7,103.6 L652.1,104.2 L653.4,104.8 L654.6,106.7 L655.8,108.1 L657.1,107.9 L658.2,109.5 L659.3,111.2 L660.4,111.3 L661.4,112.8 L662.2,114.1 L663.0,115.3 L663.8,115.8 L664.5,117.6 L665.3,118.8 L666.1,120.5 L666.9,122.7 L667.7,122.8 L668.5,125.1 L669.3,125.1 L670.1,127.6 L670.9,129.7 L671.6,129.5 L672.5,132.4 L673.3,133.4 L674.1,135.4 L674.8,136.0 L675.6,138.5 L676.3,138.8 L676.9,141.1 L677.6,143.4 L678.2,144.0 L678.9,145.5 L679.6,146.8 L680.3,149.8 L681.1,150.2 L681.9,152.0 L682.7,154.6 L683.5,155.5 L684.3,156.1 L685.8,158.1 L687.4,159.2 L689.1,159.7 L690.5,158.5 L692.1,157.1 L693.7,159.0 L695.4,158.3 L696.9,158.6 L698.4,158.4 L700.1,159.0 L701.7,159.0 L703.3,160.0 L704.9,159.8 L706.5,157.9 L708.0,158.6 L709.6,157.2 L711.2,156.8 L712.8,156.2 L714.4,157.1 L715.9,154.6 L717.5,156.8 L719.1,153.7 L720.4,153.4 L721.7,152.5 L723.0,151.9 L724.4,152.9 L725.7,151.1 L727.0,151.3 L728.3,150.3 L729.6,147.2 L731.0,148.8 L732.3,148.8 L733.6,147.7 L734.9,145.2 L736.2,144.2 L737.5,145.4 L738.8,145.0 L740.2,144.4 L741.5,143.9 L742.8,141.7 L744.1,141.4 L745.5,137.1 L746.9,137.0 L748.3,138.9 L749.6,135.4 L750.8,134.0 L752.0,132.6 L753.1,133.5 L754.1,131.0 L755.1,129.3 L756.1,130.4 L757.1,126.5 L758.2,123.8 L759.4,125.8 L760.4,124.4 L761.5,121.9 L762.6,119.3 L763.7,120.9 L764.8,119.7 L766.0,118.4 L767.1,116.9 L768.2,114.6 L769.7,115.4 L771.3,111.0 L772.7,112.4 L773.7,110.8" fill="none" stroke="#ff0000" stroke-width="1.3" stroke-dasharray="6 3"/>
<path d="M154.0,403.8 L154.8,404.2 L155.7,404.2 L156.7,403.9 L157.8,404.2 L159.0,404.1 L160.2,403.8 L161.5,404.0 L162.9,404.1 L164.3,403.8 L165.8,404.1 L167.3,404.0 L168.9,404.3 L170.5,404.3 L172.2,404.4 L173.9,404.3 L175.6,404.2 L177.3,404.4 L179.1,404.4 L180.9,404.4 L182.7,404.0 L184.5,404.0 L186.2,404.4 L188.0,404.3 L189.8,404.3 L191.6,404.0 L193.3,404.3 L195.0,404.3 L196.7,404.3 L198.4,404.1 L200.0,404.0 L201.5,404.0 L202.9,404.1 L204.4,404.1 L205.9,403.9 L207.4,404.3 L208.8,404.4 L210.3,404.3 L211.8,404.5 L213.3,404.1 L214.9,403.9 L216.4,404.1 L217.9,404.4 L219.4,404.3 L220.9,404.2 L222.5,404.1 L224.0,404.2 L225.5,403.9 L227.0,404.2 L228.6,404.1 L230.1,403.8 L231.6,404.2 L233.2,404.3 L234.7,404.0 L236.3,404.1 L237.8,403.9 L239.3,403.7 L240.9,403.8 L242.4,403.8 L243.9,403.9 L245.4,403.9 L247.0,404.3 L248.5,404.0 L250.0,403.7 L251.5,403.8 L253.1,403.9 L254.6,404.1 L256.2,403.9 L257.8,403.7 L259.4,404.1 L261.0,403.9 L262.6,404.0 L264.2,403.9 L265.8,404.1 L267.4,403.9 L269.0,403.9 L270.6,403.7 L272.2,404.2 L273.9,404.1 L275.5,404.0 L277.0,404.1 L278.6,403.9 L280.2,404.2 L281.8,403.8 L283.3,403.9 L284.8,404.0 L286.3,403.9 L287.8,403.9 L289.3,404.2 L290.7,403.7 L292.1,404.0 L293.5,403.9 L294.9,404.2 L296.2,403.9 L297.5,404.1 L298.8,403.8 L300.0,403.9 L302.0,403.6 L303.9,403.7 L305.7,403.8 L307.4,404.0 L309.1,403.7 L310.8,404.0 L312.4,403.9 L313.9,404.1 L315.4,403.8 L316.9,403.9 L318.3,404.0 L319.7,404.0 L321.0,403.9 L322.4,403.9 L323.7,403.9 L325.0,403.6 L326.2,403.6 L327.5,403.4 L328.7,403.8 L330.0,403.6 L331.9,403.4 L333.6,403.3 L335.3,403.7 L336.9,403.6 L338.4,403.2 L339.9,403.4 L341.3,403.4 L342.8,403.4 L344.2,403.5 L345.6,403.2 L347.0,402.9 L348.5,403.2 L350.0,403.0 L351.6,403.1 L353.1,403.2 L354.7,402.8 L356.3,402.8 L357.9,402.7 L359.5,402.8 L361.1,402.8 L362.7,402.6 L364.2,402.6 L365.7,402.5 L367.2,402.3 L368.6,402.3 L370.0,402.4 L371.7,402.2 L373.3,402.0 L374.9,401.8 L376.4,401.5 L377.9,401.2 L379.3,400.7 L380.7,400.1 L382.1,400.0 L383.6,400.0 L385.0,399.3 L386.4,399.3 L387.9,398.8 L389.3,398.3 L390.7,397.8 L392.1,397.4 L393.4,397.0 L394.8,396.6 L396.2,396.2 L397.6,395.7 L399.0,395.0 L400.2,393.8 L401.3,393.2 L402.5,392.4 L403.7,391.6 L404.8,391.0 L406.0,389.8 L407.2,389.1 L408.3,387.9 L409.5,387.2 L410.7,385.9 L411.8,384.5 L413.0,383.3 L414.0,382.3 L415.0,381.9 L416.1,380.8 L417.1,379.4 L418.2,377.8 L419.3,377.2 L420.3,376.1 L421.4,374.3 L422.4,373.2 L423.4,372.2 L424.3,371.6 L425.3,370.6 L426.2,369.6 L427.0,368.3 L428.4,367.1 L429.7,366.3 L430.8,364.9 L431.9,364.0 L433.0,363.6 L434.0,362.4 L435.0,361.9 L435.9,361.1 L437.1,359.8 L438.1,358.3 L439.1,356.6 L440.0,355.3 L440.9,354.6 L441.9,352.7 L442.9,351.5 L443.9,350.5 L444.9,349.3 L445.8,348.4 L446.8,346.7 L447.8,345.6 L448.8,344.2 L449.8,343.4 L450.7,341.7 L451.7,340.2 L452.7,339.1 L453.7,337.4 L454.6,336.2 L455.4,335.5 L456.3,333.6 L457.1,332.1 L458.0,331.0 L458.8,330.1 L459.7,328.5 L460.5,327.5 L461.2,326.5 L461.9,325.5 L462.7,324.3 L463.5,322.6 L464.5,321.7 L465.6,319.5 L466.1,318.2 L466.7,316.6 L467.2,315.9 L467.8,315.0 L468.5,313.0 L469.1,311.8 L469.8,310.7 L470.5,309.0 L471.2,306.8 L471.9,306.0 L472.6,304.4 L473.3,302.6 L474.0,300.9 L474.7,299.7 L475.4,298.2 L476.0,296.6 L476.7,295.5 L477.3,293.9 L478.1,292.6 L478.8,290.8 L479.5,289.8 L480.3,288.5 L481.0,287.0 L481.7,285.7 L482.4,283.4 L483.1,282.4 L483.7,280.8 L484.4,280.3 L485.1,278.2 L485.8,276.8 L486.5,275.6 L487.2,274.4 L487.9,272.6 L488.6,271.5 L489.4,269.6 L490.1,268.5 L490.8,267.1 L491.5,266.2 L492.3,264.2 L493.0,263.2 L493.7,261.5 L494.4,259.5 L495.1,258.8 L495.8,257.2 L496.5,255.7 L497.1,255.2 L497.9,252.6 L498.7,252.1 L499.4,250.3 L500.1,248.5 L500.8,247.4 L501.5,245.8 L502.2,244.4 L502.9,243.4 L503.6,241.2 L504.3,240.2 L505.0,238.7 L505.7,237.7 L506.4,235.9 L507.1,234.8 L507.8,233.8 L508.5,232.3 L509.2,230.6 L509.9,229.2 L510.6,227.0 L511.3,226.7 L512.1,224.9 L512.9,222.9 L513.6,221.7 L514.3,220.0 L515.1,219.1 L515.9,217.6 L516.7,217.0 L517.5,215.1 L518.2,213.2 L519.0,212.3 L519.8,210.5 L520.6,209.1 L521.4,207.6 L522.1,207.0 L522.8,205.1 L523.6,203.9 L524.4,202.4 L525.1,200.6 L525.8,200.0 L526.5,197.7 L527.2,196.1 L527.9,194.9 L528.6,194.3 L529.3,192.2 L530.0,190.6 L530.7,190.0 L531.4,188.8 L532.0,186.8 L532.7,185.5 L533.4,183.4 L534.0,182.5 L534.7,181.1 L535.4,179.5 L536.1,178.0 L536.8,177.4 L537.5,175.2 L538.2,173.8 L539.0,173.0 L539.9,172.2 L540.7,170.9 L541.7,169.1 L542.6,167.9 L543.5,166.8 L544.5,165.8 L545.4,163.7 L546.4,163.4 L547.3,162.1 L548.3,159.9 L549.2,159.7 L550.2,158.5 L551.2,156.3 L552.2,155.0 L553.2,154.4 L554.2,153.6 L555.2,151.4 L556.1,150.0 L557.1,149.4 L558.1,148.1 L559.1,146.7 L560.2,145.6 L561.3,145.2 L562.4,143.7 L563.5,142.4 L564.6,141.2 L565.7,140.7 L566.8,139.1 L567.9,139.0 L569.0,136.9 L570.4,136.1 L571.8,135.3 L573.2,134.1 L574.7,133.6 L576.1,132.7 L577.5,131.9 L578.9,131.2 L580.3,131.2 L581.7,129.3 L583.1,129.1 L584.6,127.9 L586.0,128.0 L587.4,125.8 L588.8,125.6 L590.2,124.3 L591.6,124.7 L593.0,123.7 L594.5,121.6 L595.9,120.7 L597.3,120.7 L598.7,118.9 L600.1,118.8 L601.5,118.2 L602.9,117.7 L604.4,116.1 L605.8,114.9 L607.2,114.3 L608.6,114.2 L610.0,112.6 L611.4,112.2 L612.8,111.2 L614.3,111.1 L615.7,110.0 L617.1,109.7 L618.5,110.0 L620.1,109.3 L621.8,111.1 L623.5,110.5 L625.1,112.4 L626.8,113.5 L628.4,113.2 L630.1,112.2 L631.7,112.6 L633.4,110.4 L635.0,110.6 L636.7,109.1 L638.3,110.0 L639.7,110.7 L641.1,110.6 L642.5,110.7 L643.9,112.3 L645.3,113.6 L646.6,113.9 L647.9,114.9 L649.3,114.6 L650.7,115.3 L652.1,116.3 L653.4,118.2 L654.6,118.0 L655.8,120.1 L657.1,119.4 L658.2,121.4 L659.3,122.5 L660.4,123.7 L661.4,125.0 L662.2,125.2 L663.0,127.1 L663.8,128.2 L664.5,129.2 L665.3,130.5 L666.1,132.3 L666.9,133.0 L667.7,135.8 L668.5,136.1 L669.3,137.3 L670.1,139.6 L670.9,141.3 L671.6,142.9 L672.5,142.9 L673.3,145.4 L674.1,147.5 L674.8,148.9 L675.6,149.2 L676.3,151.9 L676.9,153.4 L677.6,155.7 L678.2,155.5 L678.9,158.5 L679.6,158.9 L680.3,161.8 L681.1,162.9 L681.9,164.5 L682.7,165.7 L683.5,166.7 L684.3,168.0 L685.8,170.2 L687.4,170.1 L689.1,169.2 L690.5,170.1 L692.1,170.7 L693.7,170.2 L695.4,167.7 L696.9,170.2 L698.4,169.1 L700.1,170.8 L701.7,168.4 L703.3,172.4 L704.9,169.2 L706.5,168.7 L708.0,171.9 L709.6,167.9 L711.2,171.2 L712.8,169.4 L714.4,171.1 L715.9,168.3 L717.5,168.3 L719.1,167.3 L720.4,165.4 L721.7,166.3 L723.0,164.5 L724.4,164.9 L725.7,165.6 L727.0,160.8 L728.3,163.9 L729.6,162.5 L731.0,159.0 L732.3,159.5 L733.6,159.2 L734.9,158.1 L736.2,158.6 L737.5,157.3 L738.8,155.0 L740.2,156.0 L741.5,153.7 L742.8,154.8 L744.1,154.3 L745.5,149.8 L746.9,152.2 L748.3,148.5 L749.6,146.3 L750.8,148.8 L752.0,145.6 L753.1,143.3 L754.1,143.3 L755.1,141.1 L756.1,140.3 L757.1,140.2 L758.2,137.2 L759.4,135.3 L760.4,132.9 L761.5,134.4 L762.6,134.0 L763.7,130.4 L764.8,132.4 L766.0,128.7 L767.1,129.5 L768.2,126.1 L769.7,123.6 L771.3,125.7 L772.7,124.1 L773.7,120.3" fill="none" stroke="#ff0000" stroke-width="1.3" stroke-dasharray="6 3"/>
<path d="M154.0,403.8 L154.8,403.3 L155.7,403.6 L156.7,403.6 L157.8,403.5 L159.0,403.8 L160.2,403.5 L161.5,403.2 L162.9,403.5 L164.3,403.6 L165.8,403.4 L167.3,403.8 L168.9,403.8 L170.5,403.8 L172.2,403.5 L173.9,403.4 L175.6,403.5 L177.3,403.8 L179.1,403.5 L180.9,403.6 L182.7,403.7 L184.5,403.5 L186.2,403.8 L188.0,403.5 L189.8,403.6 L191.6,403.7 L193.3,403.6 L195.0,403.3 L196.7,403.8 L198.4,403.3 L200.0,403.4 L201.5,403.6 L202.9,403.4 L204.4,403.7 L205.9,403.4 L207.4,403.9 L208.8,403.3 L210.3,403.4 L211.8,403.5 L213.3,403.4 L214.9,403.6 L216.4,403.5 L217.9,403.7 L219.4,403.7 L220.9,403.5 L222.5,403.4 L224.0,403.7 L225.5,403.4 L227.0,403.8 L228.6,403.4 L230.1,403.3 L231.6,403.3 L233.2,403.5 L234.7,403.8 L236.3,403.3 L237.8,403.6 L239.3,403.4 L240.9,403.2 L242.4,403.6 L243.9,403.2 L245.4,403.4 L247.0,403.5 L248.5,403.7 L250.0,403.4 L251.5,403.3 L253.1,403.1 L254.6,403.4 L256.2,403.3 L257.8,403.1 L259.4,403.3 L261.0,403.1 L262.6,403.4 L264.2,403.1 L265.8,403.6 L267.4,403.2 L269.0,403.3 L270.6,403.1 L272.2,403.6 L273.9,403.5 L275.5,403.5 L277.0,403.3 L278.6,403.2 L280.2,403.6 L281.8,403.6 L283.3,403.3 L284.8,403.5 L286.3,403.5 L287.8,403.6 L289.3,403.1 L290.7,403.6 L292.1,403.2 L293.5,403.4 L294.9,403.1 L296.2,403.5 L297.5,403.4 L298.8,403.3 L300.0,403.6 L302.0,403.1 L303.9,403.3 L305.7,403.3 L307.4,403.4 L309.1,403.2 L310.8,403.4 L312.4,403.4 L313.9,403.1 L315.4,403.3 L316.9,403.3 L318.3,403.3 L319.7,403.3 L321.0,403.4 L322.4,403.3 L323.7,403.1 L325.0,402.9 L326.2,402.9 L327.5,402.9 L328.7,402.7 L330.0,403.1 L331.9,403.1 L333.6,402.9 L335.3,403.1 L336.9,403.0 L338.4,403.0 L339.9,402.6 L341.3,402.6 L342.8,403.0 L344.2,402.6 L345.6,402.5 L347.0,402.6 L348.5,402.7 L350.0,402.7 L351.6,402.7 L353.1,402.3 L354.7,402.5 L356.3,402.2 L357.9,402.1 L359.5,402.4 L361.1,402.1 L362.7,401.9 L364.2,402.3 L365.7,402.0 L367.2,401.6 L368.6,401.8 L370.0,401.8 L371.7,401.5 L373.3,401.1 L374.9,400.9 L376.4,400.8 L377.9,400.6 L379.3,399.9 L380.7,399.6 L382.1,399.6 L383.6,399.2 L385.0,398.3 L386.4,398.0 L387.9,397.8 L389.3,397.1 L390.7,396.6 L392.1,396.2 L393.4,395.5 L394.8,395.2 L396.2,394.4 L397.6,393.7 L399.0,392.7 L400.2,392.2 L401.3,391.4 L402.5,390.7 L403.7,390.0 L404.8,388.7 L406.0,387.7 L407.2,387.0 L408.3,385.5 L409.5,384.1 L410.7,383.0 L411.8,382.5 L413.0,381.2 L414.0,379.8 L415.0,379.0 L416.1,377.8 L417.1,376.3 L418.2,375.0 L419.3,373.8 L420.3,372.8 L421.4,371.2 L422.4,370.0 L423.4,368.8 L424.3,368.1 L425.3,367.1 L426.2,365.6 L427.0,365.1 L428.4,363.4 L429.7,362.3 L430.8,361.4 L431.9,360.7 L433.0,359.8 L434.0,358.4 L435.0,357.6 L435.9,357.0 L437.1,355.5 L438.1,354.4 L439.1,352.3 L440.0,351.4 L440.9,350.3 L441.9,348.6 L442.9,347.6 L443.9,346.4 L444.9,344.7 L445.8,343.7 L446.8,342.1 L447.8,340.8 L448.8,339.7 L449.8,338.6 L450.7,336.9 L451.7,335.5 L452.7,334.1 L453.7,332.7 L454.6,331.4 L455.4,330.1 L456.3,328.8 L457.1,327.6 L458.0,326.2 L458.8,324.3 L459.7,322.9 L460.5,322.2 L461.2,320.5 L461.9,319.7 L462.7,319.2 L463.5,317.8 L464.5,315.6 L465.6,313.3 L466.1,312.7 L466.7,311.2 L467.2,310.4 L467.8,308.8 L468.5,307.5 L469.1,305.9 L469.8,305.0 L470.5,303.4 L471.2,301.5 L471.9,300.1 L472.6,298.6 L473.3,296.7 L474.0,295.1 L474.7,294.0 L475.4,292.9 L476.0,290.6 L476.7,289.3 L477.3,288.4 L478.1,286.7 L478.8,284.9 L479.5,284.3 L480.3,282.8 L481.0,280.4 L481.7,279.0 L482.4,278.4 L483.1,276.8 L483.7,275.4 L484.4,273.6 L485.1,273.1 L485.8,271.8 L486.5,270.3 L487.2,269.1 L487.9,266.7 L488.6,265.2 L489.4,264.1 L490.1,262.9 L490.8,261.9 L491.5,259.9 L492.3,258.6 L493.0,257.0 L493.7,255.8 L494.4,253.8 L495.1,253.1 L495.8,251.6 L496.5,250.1 L497.1,248.6 L497.9,247.7 L498.7,245.5 L499.4,244.3 L500.1,242.5 L500.8,241.8 L501.5,240.1 L502.2,239.1 L502.9,237.2 L503.6,236.0 L504.3,234.5 L505.0,233.5 L505.7,231.7 L506.4,230.0 L507.1,228.3 L507.8,227.2 L508.5,226.3 L509.2,224.6 L509.9,223.4 L510.6,221.9 L511.3,220.1 L512.1,218.5 L512.9,216.8 L513.6,215.4 L514.3,215.1 L515.1,212.6 L515.9,212.1 L516.7,210.4 L517.5,209.5 L518.2,207.3 L519.0,205.9 L519.8,205.1 L520.6,203.4 L521.4,202.5 L522.1,200.4 L522.8,199.1 L523.6,198.4 L524.4,196.0 L525.1,194.8 L525.8,193.8 L526.5,192.3 L527.2,190.3 L527.9,188.8 L528.6,187.5 L529.3,185.9 L530.0,185.2 L530.7,184.2 L531.4,182.7 L532.0,180.3 L532.7,178.9 L533.4,178.4 L534.0,177.1 L534.7,174.7 L535.4,173.4 L536.1,172.7 L536.8,171.1 L537.5,169.8 L538.2,168.9 L539.0,166.5 L539.9,166.2 L540.7,164.4 L541.7,163.3 L542.6,161.0 L543.5,160.7 L544.5,158.7 L545.4,158.2 L546.4,156.2 L547.3,155.0 L548.3,154.2 L549.2,152.9 L550.2,152.0 L551.2,150.8 L552.2,149.2 L553.2,148.1 L554.2,147.5 L555.2,146.0 L556.1,145.3 L557.1,143.8 L558.1,142.8 L559.1,141.4 L560.2,140.6 L561.3,139.1 L562.4,137.8 L563.5,136.2 L564.6,134.8 L565.7,134.2 L566.8,132.9 L567.9,131.9 L569.0,132.0 L570.4,129.8 L571.8,129.3 L573.2,128.9 L574.7,127.1 L576.1,126.8 L577.5,126.0 L578.9,125.5 L580.3,124.5 L581.7,124.2 L583.1,123.4 L584.6,122.2 L586.0,120.6 L587.4,121.1 L588.8,120.1 L590.2,119.0 L591.6,118.4 L593.0,116.9 L594.5,116.2 L595.9,114.6 L597.3,114.5 L598.7,113.1 L600.1,112.8 L601.5,111.5 L602.9,111.4 L604.4,110.2 L605.8,108.8 L607.2,107.7 L608.6,108.4 L610.0,106.5 L611.4,107.0 L612.8,104.9 L614.3,105.6 L615.7,104.9 L617.1,103.7 L618.5,104.0 L620.1,103.6 L621.8,105.0 L623.5,106.1 L625.1,105.9 L626.8,107.2 L628.4,107.7 L630.1,106.0 L631.7,106.5 L633.4,105.9 L635.0,104.0 L636.7,104.6 L638.3,104.0 L639.7,103.8 L641.1,105.2 L642.5,104.3 L643.9,105.6 L645.3,107.2 L646.6,106.8 L647.9,108.8 L649.3,110.0 L650.7,110.6 L652.1,110.8 L653.4,111.2 L654.6,112.5 L655.8,113.7 L657.1,113.3 L658.2,115.2 L659.3,116.0 L660.4,118.4 L661.4,117.9 L662.2,119.3 L663.0,121.0 L663.8,121.7 L664.5,124.1 L665.3,124.8 L666.1,126.8 L666.9,126.9 L667.7,128.5 L668.5,131.5 L669.3,132.7 L670.1,132.7 L670.9,135.1 L671.6,136.6 L672.5,138.6 L673.3,139.8 L674.1,140.4 L674.8,143.0 L675.6,143.3 L676.3,144.6 L676.9,148.1 L677.6,148.9 L678.2,151.0 L678.9,152.7 L679.6,154.2 L680.3,154.9 L681.1,157.7 L681.9,159.1 L682.7,159.2 L683.5,161.1 L684.3,163.0 L685.8,164.2 L687.4,165.4 L689.1,165.0 L690.5,164.9 L692.1,162.5 L693.7,164.7 L695.4,164.5 L696.9,163.9 L698.4,162.6 L700.1,163.7 L701.7,162.8 L703.3,163.3 L704.9,163.5 L706.5,164.5 L708.0,164.0 L709.6,162.3 L711.2,162.5 L712.8,165.4 L714.4,163.2 L715.9,164.7 L717.5,162.3 L719.1,162.9 L720.4,162.3 L721.7,160.6 L723.0,157.6 L724.4,159.6 L725.7,158.1 L727.0,157.1 L728.3,154.8 L729.6,156.0 L731.0,153.1 L732.3,151.6 L733.6,153.2 L734.9,151.6 L736.2,150.1 L737.5,149.8 L738.8,149.5 L740.2,146.7 L741.5,149.1 L742.8,146.9 L744.1,145.3 L745.5,144.2 L746.9,144.9 L748.3,141.4 L749.6,143.9 L750.8,141.7 L752.0,141.1 L753.1,138.6 L754.1,137.2 L755.1,135.8 L756.1,133.8 L757.1,131.3 L758.2,132.4 L759.4,130.1 L760.4,130.9 L761.5,127.8 L762.6,128.3 L763.7,123.3 L764.8,122.2 L766.0,123.9 L767.1,121.0 L768.2,120.1 L769.7,118.7 L771.3,116.3 L772.7,117.5 L773.7,118.1" fill="none" stroke="#ff0000" stroke-width="1.4"/>
<path d="M1199.0,172.6 L1199.8,172.6 L1200.6,172.6 L1201.5,172.6 L1202.5,172.6 L1203.5,172.6 L1204.5,172.6 L1205.6,172.6 L1206.8,172.6 L1208.0,172.6 L1209.2,172.6 L1210.5,172.6 L1211.8,172.6 L1213.2,172.6 L1214.6,172.6 L1216.0,172.6 L1217.5,172.6 L1219.0,172.6 L1220.6,172.6 L1222.1,172.6 L1223.7,172.6 L1225.4,172.6 L1227.0,172.6 L1228.7,172.6 L1230.4,172.6 L1232.1,172.6 L1233.8,172.6 L1235.6,172.7 L1237.3,172.7 L1239.1,172.7 L1240.9,172.7 L1242.7,172.7 L1244.5,172.7 L1246.3,172.7 L1248.1,172.7 L1249.9,172.7 L1251.7,172.7 L1253.6,172.7 L1255.4,172.7 L1257.2,172.7 L1259.0,172.7 L1260.8,172.7 L1262.6,172.7 L1264.4,172.7 L1266.2,172.7 L1267.9,172.7 L1269.7,172.7 L1271.4,172.7 L1273.1,172.7 L1274.8,172.7 L1276.5,172.7 L1278.1,172.7 L1279.7,172.7 L1281.3,172.7 L1282.9,172.7 L1284.4,172.7 L1286.0,172.7 L1287.4,172.8 L1288.9,172.8 L1290.3,172.8 L1291.6,172.8 L1293.0,172.8 L1294.2,172.8 L1295.5,172.8 L1296.7,172.8 L1297.8,172.8 L1298.9,172.8 L1300.0,172.8 L1302.8,172.8 L1305.4,172.8 L1307.8,172.8 L1310.1,172.9 L1312.2,172.9 L1314.2,172.9 L1316.0,172.9 L1317.7,172.9 L1319.3,172.9 L1320.8,172.9 L1322.3,172.9 L1323.6,173.0 L1324.9,173.0 L1326.1,173.0 L1327.2,173.0 L1328.3,173.0 L1329.4,173.1 L1330.5,173.1 L1331.5,173.1 L1332.6,173.1 L1333.7,173.2 L1334.7,173.2 L1335.8,173.3 L1337.0,173.3 L1339.2,173.4 L1341.3,173.5 L1343.1,173.6 L1344.8,173.7 L1346.4,173.9 L1347.8,174.0 L1349.3,174.1 L1350.6,174.3 L1352.0,174.4 L1353.4,174.6 L1354.9,174.7 L1356.4,174.8 L1358.0,175.1 L1359.6,175.3 L1361.1,175.3 L1362.7,175.6 L1364.3,175.8 L1365.8,175.9 L1367.4,176.1 L1369.0,176.3 L1370.5,176.5 L1372.1,176.6 L1373.6,176.9 L1375.2,177.1 L1376.8,177.2 L1378.3,177.5 L1379.9,177.7 L1381.5,177.8 L1383.0,177.9 L1384.6,178.1 L1386.2,178.5 L1387.7,178.5 L1389.3,178.7 L1390.9,178.9 L1392.4,179.1 L1394.0,179.2 L1395.6,179.6 L1397.1,179.8 L1398.7,180.0 L1400.3,180.2 L1401.8,180.2 L1403.4,180.6 L1405.0,180.6 L1406.5,180.8 L1408.1,181.3 L1409.7,181.3 L1411.2,181.4 L1412.8,181.7 L1414.4,182.1 L1415.9,182.2 L1417.5,182.5 L1419.1,182.7 L1420.6,183.0 L1422.2,183.3 L1423.8,183.3 L1425.3,183.5 L1426.9,184.0 L1428.5,184.3 L1430.0,184.2 L1431.6,184.8 L1433.2,184.8 L1434.7,185.1 L1436.3,185.3 L1437.9,185.7 L1439.4,186.1 L1441.0,186.3 L1442.6,186.8 L1444.1,187.2 L1445.7,187.3 L1447.3,187.7 L1448.8,187.9 L1450.4,188.4 L1452.0,188.9 L1453.5,188.8 L1455.1,189.5 L1456.7,189.6 L1458.2,190.2 L1459.8,190.3 L1461.4,190.8 L1462.9,191.3 L1464.5,191.8 L1466.1,191.9 L1467.6,192.6 L1469.2,192.9 L1470.6,193.2 L1472.1,193.6 L1473.5,193.8 L1475.0,193.9 L1476.4,194.6 L1477.9,195.3 L1479.3,195.6 L1480.8,195.7 L1482.2,196.6 L1483.7,196.9 L1485.1,197.3 L1486.6,197.9 L1488.0,198.5 L1489.4,198.9 L1490.9,198.8 L1492.3,199.4 L1493.8,200.2 L1495.2,200.6 L1496.7,201.2 L1498.1,202.0 L1499.6,202.5 L1501.0,202.6 L1502.5,203.3 L1503.9,203.9 L1505.4,204.4 L1506.8,205.0 L1508.3,205.4 L1509.7,206.5 L1511.2,206.8 L1512.7,207.2 L1514.2,207.7 L1515.7,208.2 L1517.2,208.9 L1518.7,210.1 L1520.1,210.1 L1521.6,210.7 L1523.0,211.9 L1524.3,211.6 L1525.6,212.2 L1527.1,213.7 L1528.5,214.1 L1529.9,215.3 L1531.2,215.8 L1532.6,216.2 L1533.8,217.1 L1535.1,218.4 L1536.3,219.0 L1537.6,219.9 L1538.8,220.0 L1540.0,220.7 L1541.5,221.8 L1542.9,222.4 L1544.3,222.6 L1545.7,223.9 L1547.0,224.7 L1548.3,225.4 L1549.7,225.9 L1551.0,225.9 L1552.4,226.6 L1553.8,227.3 L1555.1,228.1 L1556.5,229.4 L1557.9,230.6 L1559.2,230.9 L1560.6,232.1 L1562.0,232.3 L1563.3,233.0 L1564.7,234.0 L1565.9,235.1 L1567.2,236.1 L1568.4,237.2 L1569.7,237.6 L1570.9,238.6 L1572.1,239.4 L1573.4,239.8 L1574.6,240.6 L1575.9,241.9 L1577.1,242.5 L1578.3,243.5 L1579.6,244.2 L1580.8,245.7 L1582.1,246.4 L1583.3,247.1 L1584.5,248.6 L1585.8,248.8 L1587.0,249.5 L1588.3,250.1 L1589.5,251.5 L1590.7,252.6 L1592.0,253.0 L1593.2,253.7 L1594.5,254.7 L1595.7,256.0 L1596.9,257.2 L1598.2,257.0 L1599.4,258.3 L1600.7,259.6 L1601.9,260.6 L1603.1,260.7 L1604.4,261.5 L1605.6,262.5 L1606.8,264.3 L1608.1,265.3 L1609.3,265.5 L1610.5,266.7 L1611.7,267.4 L1613.0,269.3 L1614.2,269.2 L1615.4,270.9 L1616.7,271.2 L1617.9,272.8 L1619.2,273.3 L1620.4,273.4 L1621.6,275.5 L1622.9,276.4 L1624.1,276.5 L1625.4,277.1 L1626.6,278.5 L1627.8,279.3 L1629.1,281.0 L1630.3,281.3 L1631.6,282.8 L1632.8,282.6 L1634.0,284.3 L1635.3,285.9 L1636.5,286.1 L1637.8,288.0 L1639.0,288.9 L1640.2,289.6 L1641.5,290.7 L1642.7,290.7 L1643.9,291.3 L1645.1,292.1 L1646.4,293.4 L1647.6,294.4 L1648.8,294.7 L1650.1,295.6 L1651.3,296.9 L1652.5,298.5 L1653.8,298.2 L1655.0,299.9 L1656.3,301.1 L1657.5,302.2 L1658.7,303.4 L1660.0,303.0 L1661.2,304.3 L1662.5,305.1 L1663.7,306.0 L1664.9,308.4 L1666.2,308.4 L1667.4,309.9 L1668.7,310.3 L1669.9,311.7 L1671.1,312.5 L1672.4,313.0 L1673.6,315.1 L1674.9,316.1 L1676.1,316.0 L1677.3,317.3 L1678.6,317.7 L1679.8,320.3 L1681.0,321.0 L1682.2,321.5 L1683.5,322.3 L1684.7,323.2 L1685.9,325.3 L1687.2,325.9 L1688.4,325.8 L1689.8,327.5 L1691.1,327.5 L1692.5,328.7 L1693.9,330.3 L1695.2,330.4 L1696.6,331.4 L1698.0,332.0 L1699.4,331.6 L1700.8,333.0 L1702.4,333.0 L1704.1,332.7 L1705.8,333.0 L1707.5,331.9 L1709.2,332.8 L1710.8,332.1 L1712.3,332.7 L1713.7,333.4 L1715.3,334.4 L1716.7,333.3 L1718.0,335.1 L1719.1,335.4 L1720.3,336.1 L1721.6,336.9 L1722.9,338.4 L1724.3,339.7 L1725.6,340.5 L1726.9,342.1 L1728.3,343.2 L1729.6,342.1 L1730.7,345.7 L1731.9,345.4 L1733.0,345.9 L1734.1,348.3 L1735.2,349.2 L1736.4,349.4 L1737.5,351.5 L1738.6,352.9 L1739.7,352.9 L1740.8,354.8 L1741.9,356.7 L1743.0,357.6 L1744.2,357.5 L1745.4,359.6 L1746.9,360.4 L1748.4,359.1 L1750.0,358.2 L1751.6,361.0 L1753.3,359.8 L1754.9,359.5 L1756.6,360.1 L1758.4,360.6 L1760.2,361.7 L1761.9,361.6 L1763.6,361.3 L1765.2,362.5 L1766.7,363.6 L1768.1,363.7 L1769.5,364.9 L1770.7,366.8 L1772.0,366.0 L1773.1,366.2 L1774.7,366.4 L1776.1,368.4 L1777.4,368.9 L1778.6,370.1 L1779.6,369.1 L1780.5,368.2 L1781.3,366.8 L1782.0,362.8 L1782.5,362.7 L1783.0,360.3 L1783.5,358.4 L1783.8,356.8 L1784.1,354.5" fill="none" stroke="#0000ff" stroke-width="1.3" stroke-dasharray="6 3"/>
<path d="M1199.0,172.6 L1199.8,172.6 L1200.6,172.6 L1201.5,172.6 L1202.5,172.6 L1203.5,172.6 L1204.5,172.6 L1205.6,172.6 L1206.8,172.6 L1208.0,172.6 L1209.2,172.6 L1210.5,172.6 L1211.8,172.6 L1213.2,172.6 L1214.6,172.6 L1216.0,172.6 L1217.5,172.6 L1219.0,172.6 L1220.6,172.6 L1222.1,172.6 L1223.7,172.6 L1225.4,172.6 L1227.0,172.6 L1228.7,172.6 L1230.4,172.6 L1232.1,172.6 L1233.8,172.6 L1235.6,172.7 L1237.3,172.7 L1239.1,172.7 L1240.9,172.7 L1242.7,172.7 L1244.5,172.7 L1246.3,172.7 L1248.1,172.7 L1249.9,172.7 L1251.7,172.7 L1253.6,172.7 L1255.4,172.7 L1257.2,172.7 L1259.0,172.7 L1260.8,172.7 L1262.6,172.7 L1264.4,172.7 L1266.2,172.7 L1267.9,172.7 L1269.7,172.7 L1271.4,172.7 L1273.1,172.7 L1274.8,172.7 L1276.5,172.7 L1278.1,172.7 L1279.7,172.7 L1281.3,172.7 L1282.9,172.7 L1284.4,172.7 L1286.0,172.7 L1287.4,172.8 L1288.9,172.8 L1290.3,172.8 L1291.6,172.8 L1293.0,172.8 L1294.2,172.8 L1295.5,172.8 L1296.7,172.8 L1297.8,172.8 L1298.9,172.8 L1300.0,172.8 L1302.8,172.8 L1305.4,172.8 L1307.8,172.8 L1310.1,172.9 L1312.2,172.9 L1314.2,172.9 L1316.0,172.9 L1317.7,172.9 L1319.3,172.9 L1320.8,172.9 L1322.3,172.9 L1323.6,173.0 L1324.9,173.0 L1326.1,173.0 L1327.2,173.0 L1328.3,173.0 L1329.4,173.1 L1330.5,173.1 L1331.5,173.1 L1332.6,173.1 L1333.7,173.2 L1334.7,173.2 L1335.8,173.3 L1337.0,173.3 L1339.2,173.4 L1341.3,173.5 L1343.1,173.6 L1344.8,173.8 L1346.4,173.9 L1347.8,174.1 L1349.3,174.3 L1350.6,174.4 L1352.0,174.6 L1353.4,174.7 L1354.9,175.0 L1356.4,175.1 L1358.0,175.3 L1359.6,175.5 L1361.1,175.7 L1362.7,175.8 L1364.3,176.0 L1365.8,176.3 L1367.4,176.5 L1369.0,176.7 L1370.5,176.9 L1372.1,177.1 L1373.6,177.4 L1375.2,177.6 L1376.8,177.7 L1378.3,177.9 L1379.9,178.2 L1381.5,178.4 L1383.0,178.5 L1384.6,178.7 L1386.2,179.0 L1387.7,179.3 L1389.3,179.4 L1390.9,179.6 L1392.4,179.8 L1394.0,180.2 L1395.6,180.3 L1397.1,180.5 L1398.7,180.8 L1400.3,181.1 L1401.8,181.1 L1403.4,181.5 L1405.0,181.5 L1406.5,181.9 L1408.1,182.0 L1409.7,182.3 L1411.2,182.4 L1412.8,182.8 L1414.4,182.9 L1415.9,183.3 L1417.5,183.7 L1419.1,183.6 L1420.6,183.9 L1422.2,184.1 L1423.8,184.7 L1425.3,184.9 L1426.9,185.0 L1428.5,185.4 L1430.0,185.6 L1431.6,186.0 L1433.2,186.3 L1434.7,186.7 L1436.3,187.1 L1437.9,187.3 L1439.4,187.6 L1441.0,187.6 L1442.6,188.3 L1444.1,188.4 L1445.7,189.0 L1447.3,189.0 L1448.8,189.4 L1450.4,190.0 L1452.0,190.0 L1453.5,190.4 L1455.1,190.8 L1456.7,191.5 L1458.2,191.7 L1459.8,191.9 L1461.4,192.3 L1462.9,192.6 L1464.5,193.5 L1466.1,193.7 L1467.6,194.2 L1469.2,194.5 L1470.6,194.6 L1472.1,195.3 L1473.5,195.5 L1475.0,196.1 L1476.4,196.6 L1477.9,196.7 L1479.3,197.1 L1480.8,197.6 L1482.2,198.2 L1483.7,198.5 L1485.1,199.6 L1486.6,199.6 L1488.0,200.5 L1489.4,200.7 L1490.9,200.9 L1492.3,201.8 L1493.8,202.3 L1495.2,202.9 L1496.7,203.2 L1498.1,204.0 L1499.6,204.7 L1501.0,205.0 L1502.5,205.8 L1503.9,206.1 L1505.4,206.6 L1506.8,207.6 L1508.3,208.1 L1509.7,208.3 L1511.2,208.9 L1512.7,209.5 L1514.2,210.5 L1515.7,210.6 L1517.2,211.8 L1518.7,212.0 L1520.1,213.1 L1521.6,213.0 L1523.0,214.0 L1524.3,214.2 L1525.6,214.8 L1527.1,215.7 L1528.5,217.0 L1529.9,217.1 L1531.2,218.7 L1532.6,219.5 L1533.8,219.8 L1535.1,220.4 L1536.3,221.8 L1537.6,222.1 L1538.8,223.3 L1540.0,223.4 L1541.5,224.7 L1542.9,224.9 L1544.3,225.9 L1545.7,226.2 L1547.0,227.4 L1548.3,227.8 L1549.7,228.4 L1551.0,229.1 L1552.4,230.0 L1553.8,230.9 L1555.1,231.2 L1556.5,231.8 L1557.9,232.8 L1559.2,234.3 L1560.6,234.9 L1562.0,235.2 L1563.3,236.0 L1564.7,237.9 L1565.9,238.0 L1567.2,239.3 L1568.4,239.8 L1569.7,240.4 L1570.9,242.1 L1572.1,242.6 L1573.4,243.3 L1574.6,244.4 L1575.9,245.4 L1577.1,246.0 L1578.3,246.9 L1579.6,247.5 L1580.8,249.2 L1582.1,250.2 L1583.3,251.1 L1584.5,251.4 L1585.8,252.9 L1587.0,253.7 L1588.3,254.3 L1589.5,255.1 L1590.7,255.5 L1592.0,257.0 L1593.2,257.0 L1594.5,257.9 L1595.7,259.5 L1596.9,260.6 L1598.2,260.8 L1599.4,261.9 L1600.7,262.5 L1601.9,264.1 L1603.1,265.1 L1604.4,265.7 L1605.6,266.0 L1606.8,267.6 L1608.1,269.3 L1609.3,269.0 L1610.5,270.1 L1611.7,271.4 L1613.0,272.5 L1614.2,273.5 L1615.4,275.1 L1616.7,274.9 L1617.9,276.3 L1619.2,276.8 L1620.4,278.2 L1621.6,278.8 L1622.9,280.1 L1624.1,280.6 L1625.4,281.7 L1626.6,282.3 L1627.8,283.8 L1629.1,283.8 L1630.3,285.2 L1631.6,287.0 L1632.8,287.5 L1634.0,288.1 L1635.3,288.8 L1636.5,290.5 L1637.8,291.6 L1639.0,291.9 L1640.2,293.0 L1641.5,294.9 L1642.7,294.7 L1643.9,296.6 L1645.1,296.3 L1646.4,298.0 L1647.6,299.0 L1648.8,300.1 L1650.1,300.2 L1651.3,300.5 L1652.5,301.6 L1653.8,303.9 L1655.0,303.5 L1656.3,304.6 L1657.5,306.7 L1658.7,307.2 L1660.0,307.9 L1661.2,308.5 L1662.5,309.9 L1663.7,310.6 L1664.9,312.9 L1666.2,313.9 L1667.4,313.8 L1668.7,315.6 L1669.9,316.1 L1671.1,317.2 L1672.4,318.3 L1673.6,318.6 L1674.9,319.6 L1676.1,320.4 L1677.3,322.8 L1678.6,323.8 L1679.8,324.5 L1681.0,324.6 L1682.2,325.7 L1683.5,327.3 L1684.7,328.1 L1685.9,330.0 L1687.2,329.8 L1688.4,330.4 L1689.8,331.6 L1691.1,333.6 L1692.5,333.6 L1693.9,334.4 L1695.2,334.3 L1696.6,336.2 L1698.0,336.1 L1699.4,336.4 L1700.8,337.2 L1702.4,337.4 L1704.1,337.6 L1705.8,338.6 L1707.5,337.2 L1709.2,337.0 L1710.8,337.3 L1712.3,338.8 L1713.7,338.9 L1715.3,338.7 L1716.7,340.6 L1718.0,341.6 L1719.1,342.5 L1720.3,341.5 L1721.6,344.5 L1722.9,344.3 L1724.3,345.8 L1725.6,345.2 L1726.9,346.1 L1728.3,349.6 L1729.6,349.2 L1730.7,351.2 L1731.9,351.6 L1733.0,352.2 L1734.1,352.3 L1735.2,355.2 L1736.4,356.0 L1737.5,356.6 L1738.6,358.5 L1739.7,360.8 L1740.8,361.1 L1741.9,363.2 L1743.0,361.9 L1744.2,363.2 L1745.4,363.7 L1746.9,364.0 L1748.4,364.7 L1750.0,366.0 L1751.6,367.2 L1753.3,366.0 L1754.9,365.9 L1756.6,365.8 L1758.4,367.5 L1760.2,366.6 L1761.9,366.8 L1763.6,368.3 L1765.2,368.5 L1766.7,370.5 L1768.1,369.5 L1769.5,370.2 L1770.7,371.5 L1772.0,371.8 L1773.1,374.3 L1774.7,374.6 L1776.1,375.5 L1777.4,376.0 L1778.6,375.0 L1779.6,375.4 L1780.5,375.1 L1781.3,373.3 L1782.0,368.9 L1782.5,368.5 L1783.0,366.3 L1783.5,364.9 L1783.8,363.1 L1784.1,362.2" fill="none" stroke="#0000ff" stroke-width="1.3" stroke-dasharray="6 3"/>
<path d="M1199.0,172.6 L1199.8,172.6 L1200.6,172.6 L1201.5,172.6 L1202.5,172.6 L1203.5,172.6 L1204.5,172.6 L1205.6,172.6 L1206.8,172.6 L1208.0,172.6 L1209.2,172.6 L1210.5,172.6 L1211.8,172.6 L1213.2,172.6 L1214.6,172.6 L1216.0,172.6 L1217.5,172.6 L1219.0,172.6 L1220.6,172.6 L1222.1,172.6 L1223.7,172.6 L1225.4,172.6 L1227.0,172.6 L1228.7,172.6 L1230.4,172.6 L1232.1,172.6 L1233.8,172.6 L1235.6,172.7 L1237.3,172.7 L1239.1,172.7 L1240.9,172.7 L1242.7,172.7 L1244.5,172.7 L1246.3,172.7 L1248.1,172.7 L1249.9,172.7 L1251.7,172.7 L1253.6,172.7 L1255.4,172.7 L1257.2,172.7 L1259.0,172.7 L1260.8,172.7 L1262.6,172.7 L1264.4,172.7 L1266.2,172.7 L1267.9,172.7 L1269.7,172.7 L1271.4,172.7 L1273.1,172.7 L1274.8,172.7 L1276.5,172.7 L1278.1,172.7 L1279.7,172.7 L1281.3,172.7 L1282.9,172.7 L1284.4,172.7 L1286.0,172.7 L1287.4,172.8 L1288.9,172.8 L1290.3,172.8 L1291.6,172.8 L1293.0,172.8 L1294.2,172.8 L1295.5,172.8 L1296.7,172.8 L1297.8,172.8 L1298.9,172.8 L1300.0,172.8 L1302.8,172.8 L1305.4,172.8 L1307.8,172.8 L1310.1,172.9 L1312.2,172.9 L1314.2,172.9 L1316.0,172.9 L1317.7,172.9 L1319.3,172.9 L1320.8,172.9 L1322.3,172.9 L1323.6,173.0 L1324.9,173.0 L1326.1,173.0 L1327.2,173.0 L1328.3,173.0 L1329.4,173.1 L1330.5,173.1 L1331.5,173.1 L1332.6,173.1 L1333.7,173.2 L1334.7,173.2 L1335.8,173.3 L1337.0,173.3 L1339.2,173.4 L1341.3,173.5 L1343.1,173.6 L1344.8,173.8 L1346.4,173.9 L1347.8,174.0 L1349.3,174.2 L1350.6,174.4 L1352.0,174.5 L1353.4,174.6 L1354.9,174.8 L1356.4,175.0 L1358.0,175.1 L1359.6,175.4 L1361.1,175.6 L1362.7,175.7 L1364.3,175.9 L1365.8,176.1 L1367.4,176.3 L1369.0,176.5 L1370.5,176.7 L1372.1,176.9 L1373.6,177.2 L1375.2,177.2 L1376.8,177.5 L1378.3,177.7 L1379.9,177.8 L1381.5,178.1 L1383.0,178.2 L1384.6,178.5 L1386.2,178.7 L1387.7,178.9 L1389.3,179.1 L1390.9,179.2 L1392.4,179.4 L1394.0,179.8 L1395.6,179.9 L1397.1,180.2 L1398.7,180.3 L1400.3,180.5 L1401.8,180.7 L1403.4,181.0 L1405.0,181.3 L1406.5,181.3 L1408.1,181.7 L1409.7,182.0 L1411.2,182.2 L1412.8,182.4 L1414.4,182.6 L1415.9,182.7 L1417.5,182.9 L1419.1,183.2 L1420.6,183.4 L1422.2,183.9 L1423.8,184.2 L1425.3,184.3 L1426.9,184.6 L1428.5,184.9 L1430.0,185.0 L1431.6,185.2 L1433.2,185.6 L1434.7,185.9 L1436.3,186.3 L1437.9,186.3 L1439.4,186.8 L1441.0,187.1 L1442.6,187.2 L1444.1,187.8 L1445.7,188.0 L1447.3,188.2 L1448.8,188.9 L1450.4,189.0 L1452.0,189.4 L1453.5,189.7 L1455.1,190.3 L1456.7,190.3 L1458.2,191.1 L1459.8,191.0 L1461.4,191.6 L1462.9,191.8 L1464.5,192.6 L1466.1,192.7 L1467.6,193.3 L1469.2,193.5 L1470.6,194.1 L1472.1,194.6 L1473.5,194.8 L1475.0,195.2 L1476.4,195.7 L1477.9,196.3 L1479.3,196.6 L1480.8,196.8 L1482.2,197.4 L1483.7,198.0 L1485.1,198.5 L1486.6,198.9 L1488.0,199.4 L1489.4,199.7 L1490.9,199.9 L1492.3,200.5 L1493.8,201.4 L1495.2,202.0 L1496.7,202.6 L1498.1,203.3 L1499.6,203.4 L1501.0,203.9 L1502.5,204.9 L1503.9,205.0 L1505.4,205.8 L1506.8,206.1 L1508.3,206.6 L1509.7,207.5 L1511.2,208.0 L1512.7,209.1 L1514.2,209.2 L1515.7,209.7 L1517.2,210.6 L1518.7,210.9 L1520.1,211.3 L1521.6,212.2 L1523.0,212.9 L1524.3,212.8 L1525.6,213.6 L1527.1,214.8 L1528.5,215.8 L1529.9,216.6 L1531.2,216.8 L1532.6,217.4 L1533.8,218.2 L1535.1,219.5 L1536.3,220.4 L1537.6,220.9 L1538.8,221.5 L1540.0,222.3 L1541.5,223.3 L1542.9,223.7 L1544.3,224.7 L1545.7,225.4 L1547.0,225.5 L1548.3,226.8 L1549.7,227.5 L1551.0,227.6 L1552.4,229.0 L1553.8,228.8 L1555.1,229.8 L1556.5,231.0 L1557.9,231.3 L1559.2,232.5 L1560.6,233.4 L1562.0,233.8 L1563.3,235.4 L1564.7,236.4 L1565.9,236.2 L1567.2,237.9 L1568.4,238.7 L1569.7,239.4 L1570.9,240.5 L1572.1,240.7 L1573.4,242.1 L1574.6,242.7 L1575.9,243.9 L1577.1,244.6 L1578.3,246.0 L1579.6,245.7 L1580.8,247.6 L1582.1,248.6 L1583.3,248.9 L1584.5,250.2 L1585.8,250.9 L1587.0,252.0 L1588.3,251.9 L1589.5,252.9 L1590.7,253.5 L1592.0,254.8 L1593.2,256.1 L1594.5,256.4 L1595.7,257.0 L1596.9,259.0 L1598.2,259.0 L1599.4,260.0 L1600.7,260.8 L1601.9,261.9 L1603.1,262.6 L1604.4,263.2 L1605.6,264.8 L1606.8,265.4 L1608.1,267.4 L1609.3,267.2 L1610.5,268.7 L1611.7,269.9 L1613.0,270.4 L1614.2,271.4 L1615.4,272.8 L1616.7,273.9 L1617.9,274.7 L1619.2,275.7 L1620.4,275.6 L1621.6,277.4 L1622.9,278.0 L1624.1,278.7 L1625.4,279.0 L1626.6,281.1 L1627.8,281.1 L1629.1,282.3 L1630.3,283.1 L1631.6,284.8 L1632.8,285.5 L1634.0,286.4 L1635.3,287.7 L1636.5,288.6 L1637.8,289.9 L1639.0,289.8 L1640.2,291.0 L1641.5,291.8 L1642.7,292.7 L1643.9,293.2 L1645.1,294.0 L1646.4,294.8 L1647.6,296.9 L1648.8,296.4 L1650.1,297.4 L1651.3,298.6 L1652.5,299.5 L1653.8,301.5 L1655.0,302.2 L1656.3,302.2 L1657.5,303.4 L1658.7,304.2 L1660.0,305.7 L1661.2,307.7 L1662.5,307.3 L1663.7,309.6 L1664.9,310.6 L1666.2,310.5 L1667.4,311.8 L1668.7,312.1 L1669.9,314.3 L1671.1,314.9 L1672.4,316.4 L1673.6,317.5 L1674.9,318.6 L1676.1,318.4 L1677.3,320.6 L1678.6,320.2 L1679.8,322.4 L1681.0,322.9 L1682.2,324.0 L1683.5,325.1 L1684.7,325.7 L1685.9,327.0 L1687.2,328.4 L1688.4,329.4 L1689.8,329.5 L1691.1,330.6 L1692.5,331.1 L1693.9,332.6 L1695.2,332.5 L1696.6,333.1 L1698.0,333.1 L1699.4,335.2 L1700.8,334.9 L1702.4,335.8 L1704.1,334.9 L1705.8,335.0 L1707.5,335.4 L1709.2,334.9 L1710.8,334.2 L1712.3,334.2 L1713.7,335.6 L1715.3,336.9 L1716.7,337.4 L1718.0,337.6 L1719.1,338.4 L1720.3,340.2 L1721.6,340.5 L1722.9,341.0 L1724.3,342.7 L1725.6,343.9 L1726.9,345.7 L1728.3,345.2 L1729.6,345.2 L1730.7,347.2 L1731.9,348.0 L1733.0,350.8 L1734.1,349.6 L1735.2,353.3 L1736.4,351.9 L1737.5,355.4 L1738.6,356.9 L1739.7,355.6 L1740.8,356.5 L1741.9,358.4 L1743.0,361.0 L1744.2,359.3 L1745.4,360.5 L1746.9,363.2 L1748.4,363.9 L1750.0,361.8 L1751.6,362.7 L1753.3,361.8 L1754.9,362.5 L1756.6,364.4 L1758.4,363.1 L1760.2,363.5 L1761.9,365.1 L1763.6,365.7 L1765.2,365.7 L1766.7,364.6 L1768.1,366.8 L1769.5,369.0 L1770.7,369.6 L1772.0,371.0 L1773.1,370.8 L1774.7,371.3 L1776.1,373.1 L1777.4,373.7 L1778.6,372.8 L1779.6,370.4 L1780.5,369.8 L1781.3,368.9 L1782.0,367.8 L1782.5,366.0 L1783.0,363.5 L1783.5,362.4 L1783.8,358.9 L1784.1,359.7" fill="none" stroke="#0000ff" stroke-width="1.4"/>
<path d="M1089.0,173.2 L1089.8,173.2 L1090.6,173.2 L1091.4,173.2 L1092.3,173.2 L1093.3,173.2 L1094.2,173.2 L1095.2,173.2 L1096.3,173.2 L1097.4,173.2 L1098.5,173.2 L1099.6,173.2 L1100.8,173.2 L1102.0,173.2 L1103.3,173.3 L1104.5,173.3 L1105.8,173.3 L1107.2,173.3 L1108.5,173.3 L1109.9,173.3 L1111.3,173.3 L1112.7,173.3 L1114.2,173.3 L1115.7,173.3 L1117.2,173.3 L1118.7,173.3 L1120.2,173.3 L1121.8,173.3 L1123.4,173.3 L1125.0,173.3 L1126.6,173.3 L1128.2,173.3 L1129.9,173.3 L1131.5,173.4 L1133.2,173.4 L1134.9,173.4 L1136.5,173.4 L1138.2,173.4 L1140.0,173.4 L1141.7,173.4 L1143.4,173.4 L1145.1,173.4 L1146.9,173.4 L1148.6,173.4 L1150.4,173.4 L1152.1,173.4 L1153.9,173.4 L1155.6,173.4 L1157.4,173.4 L1159.1,173.4 L1160.9,173.5 L1162.6,173.5 L1164.4,173.5 L1166.1,173.5 L1167.8,173.5 L1169.6,173.5 L1171.3,173.5 L1173.0,173.5 L1174.7,173.5 L1176.4,173.5 L1178.1,173.5 L1179.7,173.5 L1181.4,173.5 L1183.0,173.5 L1184.7,173.5 L1186.3,173.5 L1187.9,173.6 L1189.5,173.6 L1191.0,173.6 L1192.6,173.6 L1194.1,173.6 L1195.6,173.6 L1197.1,173.6 L1198.6,173.6 L1200.0,173.6 L1201.6,173.6 L1203.2,173.6 L1204.8,173.6 L1206.5,173.6 L1208.1,173.6 L1209.7,173.6 L1211.4,173.6 L1213.0,173.6 L1214.7,173.7 L1216.4,173.7 L1218.0,173.7 L1219.7,173.7 L1221.4,173.7 L1223.0,173.7 L1224.7,173.7 L1226.4,173.7 L1228.1,173.7 L1229.8,173.7 L1231.4,173.7 L1233.1,173.7 L1234.8,173.7 L1236.5,173.7 L1238.1,173.7 L1239.8,173.7 L1241.5,173.7 L1243.1,173.7 L1244.8,173.8 L1246.4,173.8 L1248.1,173.8 L1249.7,173.8 L1251.3,173.8 L1253.0,173.8 L1254.6,173.8 L1256.2,173.8 L1257.8,173.8 L1259.4,173.8 L1261.0,173.8 L1262.5,173.8 L1264.1,173.8 L1265.6,173.8 L1267.2,173.8 L1268.7,173.8 L1270.2,173.8 L1271.7,173.9 L1273.2,173.9 L1274.6,173.9 L1276.1,173.9 L1277.5,173.9 L1278.9,173.9 L1280.3,173.9 L1281.7,173.9 L1283.1,173.9 L1284.4,173.9 L1285.8,173.9 L1287.1,173.9 L1288.4,173.9 L1289.6,173.9 L1290.9,173.9 L1292.1,173.9 L1293.3,174.0 L1294.5,174.0 L1295.6,174.0 L1296.8,174.0 L1297.9,174.0 L1298.9,174.0 L1300.0,174.0 L1302.7,174.0 L1305.2,174.0 L1307.5,174.1 L1309.7,174.1 L1311.8,174.1 L1313.8,174.1 L1315.6,174.1 L1317.3,174.1 L1318.9,174.2 L1320.4,174.2 L1321.9,174.2 L1323.2,174.2 L1324.5,174.2 L1325.7,174.2 L1326.9,174.3 L1328.0,174.3 L1329.1,174.3 L1330.2,174.3 L1331.2,174.4 L1332.3,174.4 L1333.3,174.4 L1334.4,174.5 L1335.4,174.5 L1336.5,174.6 L1337.6,174.6 L1339.8,174.7 L1341.8,174.8 L1343.6,174.9 L1345.3,174.9 L1346.8,175.1 L1348.2,175.2 L1349.5,175.3 L1350.8,175.4 L1352.1,175.6 L1353.5,175.7 L1354.9,175.9 L1356.4,176.1 L1358.0,176.4 L1359.5,176.6 L1361.1,176.9 L1362.7,177.1 L1364.2,177.4 L1365.8,177.7 L1367.4,178.0 L1368.9,178.4 L1370.5,178.7 L1372.1,179.1 L1373.6,179.5 L1375.2,179.7 L1376.6,180.2 L1378.1,180.5 L1379.5,180.8 L1381.0,181.3 L1382.4,181.6 L1383.9,182.1 L1385.3,182.6 L1386.8,183.1 L1388.2,183.5 L1389.7,183.9 L1391.1,184.4 L1392.6,184.7 L1394.0,185.1 L1395.4,185.6 L1396.9,186.1 L1398.3,186.4 L1399.8,186.8 L1401.2,187.2 L1402.7,187.7 L1404.1,188.2 L1405.6,188.6 L1407.0,189.1 L1408.5,189.4 L1409.9,189.8 L1411.4,190.2 L1412.8,190.9 L1414.2,191.1 L1415.7,191.7 L1417.1,192.0 L1418.6,192.6 L1420.0,193.1 L1421.5,193.6 L1422.9,193.7 L1424.4,194.3 L1425.8,194.9 L1427.3,195.3 L1428.7,195.7 L1430.2,196.2 L1431.6,196.9 L1432.9,197.4 L1434.3,198.4 L1435.6,198.8 L1437.0,199.3 L1438.3,200.0 L1439.7,200.4 L1441.0,201.3 L1442.3,201.8 L1443.7,202.7 L1445.0,203.2 L1446.4,203.9 L1447.7,204.7 L1449.1,205.6 L1450.4,206.4 L1451.7,206.8 L1453.1,207.5 L1454.4,208.3 L1455.8,209.3 L1457.1,210.3 L1458.5,211.4 L1459.8,212.3 L1461.1,212.7 L1462.5,214.0 L1463.8,214.7 L1465.2,215.4 L1466.5,216.6 L1467.9,217.4 L1469.2,218.0 L1470.5,218.7 L1471.9,219.8 L1473.2,220.9 L1474.6,221.6 L1475.9,221.9 L1477.3,223.2 L1478.6,223.6 L1479.9,224.4 L1481.3,225.0 L1482.6,226.2 L1484.0,226.6 L1485.3,227.9 L1486.7,228.4 L1488.0,229.6 L1489.2,230.4 L1490.3,230.9 L1491.5,231.7 L1492.7,232.9 L1493.9,234.0 L1495.0,234.9 L1496.2,235.8 L1497.4,236.8 L1498.6,237.7 L1499.8,238.3 L1500.9,239.8 L1502.1,240.7 L1503.3,241.7 L1504.5,242.2 L1505.6,243.3 L1506.8,244.0 L1508.0,245.3 L1509.1,245.8 L1510.3,246.6 L1511.5,247.9 L1512.7,249.1 L1513.8,249.3 L1515.0,250.8 L1516.2,251.7 L1517.4,252.0 L1518.5,252.7 L1519.7,254.4 L1520.9,255.3 L1522.1,256.3 L1523.2,256.6 L1524.4,258.3 L1525.6,259.0 L1526.7,260.2 L1527.7,261.1 L1528.9,262.1 L1530.0,263.2 L1531.1,265.1 L1532.3,266.0 L1533.4,266.9 L1534.5,268.0 L1535.7,269.6 L1536.8,270.7 L1537.9,271.8 L1538.9,273.1 L1540.0,274.4 L1540.9,275.7 L1541.9,277.0 L1542.8,278.2 L1543.6,278.6 L1544.4,279.8 L1545.9,281.0 L1547.1,282.8 L1548.0,283.8 L1548.8,285.3 L1549.6,285.8 L1550.4,287.3 L1551.3,288.2 L1552.4,289.0 L1553.4,290.6 L1554.4,291.5 L1555.4,292.2 L1556.6,293.5 L1557.7,294.9 L1558.9,295.8 L1560.0,297.2 L1561.2,297.8 L1562.4,299.3 L1563.6,300.8 L1564.7,302.0 L1565.7,302.7 L1566.8,303.9 L1567.8,305.9 L1568.8,307.0 L1569.9,308.2 L1570.9,308.7 L1571.9,310.7 L1573.0,312.0 L1574.0,312.7 L1575.0,313.6 L1576.1,315.9 L1577.1,316.1 L1578.2,318.1 L1579.4,319.3 L1580.5,319.8 L1581.6,321.7 L1582.7,322.1 L1583.9,322.9 L1585.0,324.2 L1586.1,325.1 L1587.2,327.1 L1588.4,328.0 L1589.5,329.1 L1590.7,329.8 L1592.0,330.5 L1593.2,331.8 L1594.5,333.0 L1595.7,334.0 L1596.9,334.7 L1598.2,335.4 L1599.4,337.0 L1600.7,337.6 L1601.9,339.0 L1603.1,339.6 L1604.4,340.2 L1605.6,341.7 L1606.8,341.9 L1608.1,342.7 L1609.3,343.8 L1610.5,345.0 L1611.7,345.5 L1613.0,346.7 L1614.2,348.0 L1615.3,349.2 L1616.4,350.3 L1617.6,351.2 L1618.7,352.5 L1619.8,354.0 L1621.0,355.2 L1622.1,355.7 L1623.2,356.3 L1624.3,357.7 L1625.5,359.5 L1626.6,361.1 L1627.6,361.0 L1628.7,362.8 L1629.7,363.6 L1630.7,365.7 L1631.8,366.1 L1632.8,367.2 L1633.8,368.6 L1634.9,370.6 L1635.9,372.2 L1636.9,373.0 L1638.0,373.4 L1639.0,375.4 L1640.1,376.2 L1641.2,376.9 L1642.4,378.8 L1643.5,379.7 L1644.6,381.5 L1645.7,382.1 L1646.8,382.9 L1647.9,384.0 L1649.1,386.0 L1650.2,386.2 L1651.3,387.1 L1652.4,388.5 L1653.5,390.1 L1654.7,390.2 L1655.8,392.2 L1656.9,393.3 L1658.1,393.8 L1659.2,395.1 L1660.3,396.7 L1661.4,398.4 L1662.6,398.7 L1663.7,399.6 L1664.9,400.7 L1666.2,401.8 L1667.4,402.6 L1668.7,403.8 L1669.9,404.8 L1671.1,405.7 L1672.4,407.3 L1673.6,407.8 L1674.9,408.8 L1676.1,409.4 L1677.3,410.2 L1678.6,412.4 L1679.8,412.0 L1681.0,414.0 L1682.2,415.2 L1683.5,415.1 L1684.7,416.2 L1685.9,418.1 L1687.2,417.8 L1688.4,418.7 L1689.8,419.8 L1691.2,420.7 L1692.7,421.7 L1694.2,423.2 L1695.6,423.4 L1697.0,425.5 L1698.4,425.8 L1699.6,425.9 L1700.8,427.0 L1702.7,428.0 L1704.5,427.4 L1706.0,428.2 L1707.3,428.3 L1708.2,428.6" fill="none" stroke="#ff0000" stroke-width="1.3" stroke-dasharray="6 3"/>
<path d="M1089.0,173.2 L1089.8,173.2 L1090.6,173.2 L1091.4,173.2 L1092.3,173.2 L1093.3,173.2 L1094.2,173.2 L1095.2,173.2 L1096.3,173.2 L1097.4,173.2 L1098.5,173.2 L1099.6,173.2 L1100.8,173.2 L1102.0,173.2 L1103.3,173.3 L1104.5,173.3 L1105.8,173.3 L1107.2,173.3 L1108.5,173.3 L1109.9,173.3 L1111.3,173.3 L1112.7,173.3 L1114.2,173.3 L1115.7,173.3 L1117.2,173.3 L1118.7,173.3 L1120.2,173.3 L1121.8,173.3 L1123.4,173.3 L1125.0,173.3 L1126.6,173.3 L1128.2,173.3 L1129.9,173.3 L1131.5,173.4 L1133.2,173.4 L1134.9,173.4 L1136.5,173.4 L1138.2,173.4 L1140.0,173.4 L1141.7,173.4 L1143.4,173.4 L1145.1,173.4 L1146.9,173.4 L1148.6,173.4 L1150.4,173.4 L1152.1,173.4 L1153.9,173.4 L1155.6,173.4 L1157.4,173.4 L1159.1,173.4 L1160.9,173.5 L1162.6,173.5 L1164.4,173.5 L1166.1,173.5 L1167.8,173.5 L1169.6,173.5 L1171.3,173.5 L1173.0,173.5 L1174.7,173.5 L1176.4,173.5 L1178.1,173.5 L1179.7,173.5 L1181.4,173.5 L1183.0,173.5 L1184.7,173.5 L1186.3,173.5 L1187.9,173.6 L1189.5,173.6 L1191.0,173.6 L1192.6,173.6 L1194.1,173.6 L1195.6,173.6 L1197.1,173.6 L1198.6,173.6 L1200.0,173.6 L1201.6,173.6 L1203.2,173.6 L1204.8,173.6 L1206.5,173.6 L1208.1,173.6 L1209.7,173.6 L1211.4,173.6 L1213.0,173.6 L1214.7,173.7 L1216.4,173.7 L1218.0,173.7 L1219.7,173.7 L1221.4,173.7 L1223.0,173.7 L1224.7,173.7 L1226.4,173.7 L1228.1,173.7 L1229.8,173.7 L1231.4,173.7 L1233.1,173.7 L1234.8,173.7 L1236.5,173.7 L1238.1,173.7 L1239.8,173.7 L1241.5,173.7 L1243.1,173.7 L1244.8,173.8 L1246.4,173.8 L1248.1,173.8 L1249.7,173.8 L1251.3,173.8 L1253.0,173.8 L1254.6,173.8 L1256.2,173.8 L1257.8,173.8 L1259.4,173.8 L1261.0,173.8 L1262.5,173.8 L1264.1,173.8 L1265.6,173.8 L1267.2,173.8 L1268.7,173.8 L1270.2,173.8 L1271.7,173.9 L1273.2,173.9 L1274.6,173.9 L1276.1,173.9 L1277.5,173.9 L1278.9,173.9 L1280.3,173.9 L1281.7,173.9 L1283.1,173.9 L1284.4,173.9 L1285.8,173.9 L1287.1,173.9 L1288.4,173.9 L1289.6,173.9 L1290.9,173.9 L1292.1,173.9 L1293.3,174.0 L1294.5,174.0 L1295.6,174.0 L1296.8,174.0 L1297.9,174.0 L1298.9,174.0 L1300.0,174.0 L1302.7,174.0 L1305.2,174.0 L1307.5,174.1 L1309.7,174.1 L1311.8,174.1 L1313.8,174.1 L1315.6,174.1 L1317.3,174.1 L1318.9,174.2 L1320.4,174.2 L1321.9,174.2 L1323.2,174.2 L1324.5,174.2 L1325.7,174.2 L1326.9,174.3 L1328.0,174.3 L1329.1,174.3 L1330.2,174.3 L1331.2,174.4 L1332.3,174.4 L1333.3,174.4 L1334.4,174.5 L1335.4,174.5 L1336.5,174.6 L1337.6,174.6 L1339.8,174.7 L1341.8,174.8 L1343.6,174.9 L1345.3,175.1 L1346.8,175.2 L1348.2,175.3 L1349.5,175.5 L1350.8,175.7 L1352.1,175.8 L1353.5,176.0 L1354.9,176.3 L1356.4,176.5 L1358.0,176.8 L1359.5,177.0 L1361.1,177.2 L1362.7,177.6 L1364.2,177.9 L1365.8,178.2 L1367.4,178.5 L1368.9,178.9 L1370.5,179.2 L1372.1,179.6 L1373.6,180.0 L1375.2,180.5 L1376.6,180.8 L1378.1,181.3 L1379.5,181.6 L1381.0,182.1 L1382.4,182.6 L1383.9,182.9 L1385.3,183.5 L1386.8,183.9 L1388.2,184.4 L1389.7,184.7 L1391.1,185.2 L1392.6,185.7 L1394.0,186.3 L1395.4,186.7 L1396.9,187.2 L1398.3,187.6 L1399.8,188.1 L1401.2,188.3 L1402.7,189.0 L1404.1,189.4 L1405.6,189.9 L1407.0,190.3 L1408.5,190.6 L1409.9,191.3 L1411.4,191.6 L1412.8,192.2 L1414.2,192.4 L1415.7,193.2 L1417.1,193.4 L1418.6,193.9 L1420.0,194.6 L1421.5,195.1 L1422.9,195.3 L1424.4,195.9 L1425.8,196.6 L1427.3,197.1 L1428.7,197.6 L1430.2,198.3 L1431.6,198.7 L1432.9,199.4 L1434.3,199.8 L1435.6,200.6 L1437.0,201.4 L1438.3,201.8 L1439.7,202.5 L1441.0,203.3 L1442.3,204.2 L1443.7,204.9 L1445.0,205.2 L1446.4,206.0 L1447.7,206.7 L1449.1,207.5 L1450.4,208.3 L1451.7,208.9 L1453.1,209.7 L1454.4,210.9 L1455.8,211.6 L1457.1,212.5 L1458.5,213.4 L1459.8,214.2 L1461.1,215.7 L1462.5,216.3 L1463.8,217.1 L1465.2,218.0 L1466.5,219.0 L1467.9,220.0 L1469.2,220.7 L1470.5,221.5 L1471.9,222.6 L1473.2,223.1 L1474.6,223.9 L1475.9,225.1 L1477.3,225.8 L1478.6,226.5 L1479.9,227.2 L1481.3,227.8 L1482.6,228.8 L1484.0,229.3 L1485.3,230.3 L1486.7,231.6 L1488.0,231.9 L1489.2,233.1 L1490.3,233.7 L1491.5,235.0 L1492.7,236.2 L1493.9,237.1 L1495.0,237.6 L1496.2,238.9 L1497.4,239.8 L1498.6,240.4 L1499.8,241.2 L1500.9,242.5 L1502.1,243.8 L1503.3,244.9 L1504.5,245.2 L1505.6,246.7 L1506.8,247.8 L1508.0,248.2 L1509.1,249.6 L1510.3,250.3 L1511.5,251.3 L1512.7,251.9 L1513.8,252.8 L1515.0,253.7 L1516.2,254.7 L1517.4,255.7 L1518.5,256.9 L1519.7,257.9 L1520.9,258.7 L1522.1,259.9 L1523.2,260.2 L1524.4,261.6 L1525.6,262.8 L1526.7,263.5 L1527.7,264.9 L1528.9,266.4 L1530.0,267.4 L1531.1,268.6 L1532.3,269.8 L1533.4,271.3 L1534.5,272.0 L1535.7,273.1 L1536.8,275.1 L1537.9,276.3 L1538.9,277.6 L1540.0,278.5 L1540.9,280.0 L1541.9,280.4 L1542.8,281.4 L1543.6,282.2 L1544.4,283.6 L1545.9,285.0 L1547.1,287.1 L1548.0,288.4 L1548.8,289.4 L1549.6,289.7 L1550.4,291.6 L1551.3,292.3 L1552.4,293.4 L1553.4,294.7 L1554.4,295.3 L1555.4,296.5 L1556.6,297.5 L1557.7,298.7 L1558.9,300.3 L1560.0,300.8 L1561.2,302.8 L1562.4,303.4 L1563.6,304.4 L1564.7,306.0 L1565.7,307.1 L1566.8,308.1 L1567.8,310.0 L1568.8,310.9 L1569.9,311.8 L1570.9,313.7 L1571.9,314.4 L1573.0,315.7 L1574.0,317.8 L1575.0,318.6 L1576.1,320.4 L1577.1,321.0 L1578.2,322.4 L1579.4,324.0 L1580.5,325.0 L1581.6,325.5 L1582.7,326.8 L1583.9,328.3 L1585.0,328.8 L1586.1,330.8 L1587.2,331.0 L1588.4,332.5 L1589.5,333.1 L1590.7,334.4 L1592.0,335.9 L1593.2,336.9 L1594.5,337.4 L1595.7,339.2 L1596.9,340.0 L1598.2,340.8 L1599.4,341.4 L1600.7,342.7 L1601.9,343.4 L1603.1,344.5 L1604.4,346.0 L1605.6,346.8 L1606.8,348.0 L1608.1,348.4 L1609.3,349.5 L1610.5,350.2 L1611.7,351.4 L1613.0,352.3 L1614.2,353.6 L1615.3,354.5 L1616.4,355.1 L1617.6,357.2 L1618.7,357.6 L1619.8,359.2 L1621.0,359.7 L1622.1,361.4 L1623.2,361.9 L1624.3,364.0 L1625.5,365.4 L1626.6,366.6 L1627.6,367.3 L1628.7,368.8 L1629.7,369.2 L1630.7,371.4 L1631.8,371.7 L1632.8,373.7 L1633.8,375.1 L1634.9,376.1 L1635.9,377.4 L1636.9,379.3 L1638.0,379.1 L1639.0,381.4 L1640.1,382.5 L1641.2,383.5 L1642.4,385.0 L1643.5,385.7 L1644.6,386.8 L1645.7,388.2 L1646.8,388.7 L1647.9,390.5 L1649.1,390.8 L1650.2,393.0 L1651.3,393.1 L1652.4,394.2 L1653.5,396.1 L1654.7,397.0 L1655.8,397.8 L1656.9,398.8 L1658.1,400.2 L1659.2,401.4 L1660.3,403.3 L1661.4,403.3 L1662.6,404.7 L1663.7,406.7 L1664.9,407.4 L1666.2,408.9 L1667.4,408.7 L1668.7,410.6 L1669.9,411.1 L1671.1,412.7 L1672.4,412.3 L1673.6,414.2 L1674.9,414.8 L1676.1,416.2 L1677.3,417.5 L1678.6,417.4 L1679.8,418.6 L1681.0,419.6 L1682.2,422.0 L1683.5,422.6 L1684.7,423.8 L1685.9,424.9 L1687.2,425.7 L1688.4,426.7 L1689.8,426.9 L1691.2,427.7 L1692.7,429.4 L1694.2,430.6 L1695.6,431.0 L1697.0,431.1 L1698.4,432.6 L1699.6,432.7 L1700.8,434.2 L1702.7,434.8 L1704.5,435.7 L1706.0,434.8 L1707.3,435.6 L1708.2,435.6" fill="none" stroke="#ff0000" stroke-width="1.3" stroke-dasharray="6 3"/>
<path d="M1089.0,173.2 L1089.8,173.2 L1090.6,173.2 L1091.4,173.2 L1092.3,173.2 L1093.3,173.2 L1094.2,173.2 L1095.2,173.2 L1096.3,173.2 L1097.4,173.2 L1098.5,173.2 L1099.6,173.2 L1100.8,173.2 L1102.0,173.2 L1103.3,173.3 L1104.5,173.3 L1105.8,173.3 L1107.2,173.3 L1108.5,173.3 L1109.9,173.3 L1111.3,173.3 L1112.7,173.3 L1114.2,173.3 L1115.7,173.3 L1117.2,173.3 L1118.7,173.3 L1120.2,173.3 L1121.8,173.3 L1123.4,173.3 L1125.0,173.3 L1126.6,173.3 L1128.2,173.3 L1129.9,173.3 L1131.5,173.4 L1133.2,173.4 L1134.9,173.4 L1136.5,173.4 L1138.2,173.4 L1140.0,173.4 L1141.7,173.4 L1143.4,173.4 L1145.1,173.4 L1146.9,173.4 L1148.6,173.4 L1150.4,173.4 L1152.1,173.4 L1153.9,173.4 L1155.6,173.4 L1157.4,173.4 L1159.1,173.4 L1160.9,173.5 L1162.6,173.5 L1164.4,173.5 L1166.1,173.5 L1167.8,173.5 L1169.6,173.5 L1171.3,173.5 L1173.0,173.5 L1174.7,173.5 L1176.4,173.5 L1178.1,173.5 L1179.7,173.5 L1181.4,173.5 L1183.0,173.5 L1184.7,173.5 L1186.3,173.5 L1187.9,173.6 L1189.5,173.6 L1191.0,173.6 L1192.6,173.6 L1194.1,173.6 L1195.6,173.6 L1197.1,173.6 L1198.6,173.6 L1200.0,173.6 L1201.6,173.6 L1203.2,173.6 L1204.8,173.6 L1206.5,173.6 L1208.1,173.6 L1209.7,173.6 L1211.4,173.6 L1213.0,173.6 L1214.7,173.7 L1216.4,173.7 L1218.0,173.7 L1219.7,173.7 L1221.4,173.7 L1223.0,173.7 L1224.7,173.7 L1226.4,173.7 L1228.1,173.7 L1229.8,173.7 L1231.4,173.7 L1233.1,173.7 L1234.8,173.7 L1236.5,173.7 L1238.1,173.7 L1239.8,173.7 L1241.5,173.7 L1243.1,173.7 L1244.8,173.8 L1246.4,173.8 L1248.1,173.8 L1249.7,173.8 L1251.3,173.8 L1253.0,173.8 L1254.6,173.8 L1256.2,173.8 L1257.8,173.8 L1259.4,173.8 L1261.0,173.8 L1262.5,173.8 L1264.1,173.8 L1265.6,173.8 L1267.2,173.8 L1268.7,173.8 L1270.2,173.8 L1271.7,173.9 L1273.2,173.9 L1274.6,173.9 L1276.1,173.9 L1277.5,173.9 L1278.9,173.9 L1280.3,173.9 L1281.7,173.9 L1283.1,173.9 L1284.4,173.9 L1285.8,173.9 L1287.1,173.9 L1288.4,173.9 L1289.6,173.9 L1290.9,173.9 L1292.1,173.9 L1293.3,174.0 L1294.5,174.0 L1295.6,174.0 L1296.8,174.0 L1297.9,174.0 L1298.9,174.0 L1300.0,174.0 L1302.7,174.0 L1305.2,174.0 L1307.5,174.1 L1309.7,174.1 L1311.8,174.1 L1313.8,174.1 L1315.6,174.1 L1317.3,174.1 L1318.9,174.2 L1320.4,174.2 L1321.9,174.2 L1323.2,174.2 L1324.5,174.2 L1325.7,174.2 L1326.9,174.3 L1328.0,174.3 L1329.1,174.3 L1330.2,174.3 L1331.2,174.4 L1332.3,174.4 L1333.3,174.4 L1334.4,174.5 L1335.4,174.5 L1336.5,174.6 L1337.6,174.6 L1339.8,174.7 L1341.8,174.8 L1343.6,174.9 L1345.3,175.0 L1346.8,175.1 L1348.2,175.3 L1349.5,175.4 L1350.8,175.5 L1352.1,175.7 L1353.5,175.9 L1354.9,176.1 L1356.4,176.3 L1358.0,176.6 L1359.5,176.7 L1361.1,177.1 L1362.7,177.3 L1364.2,177.6 L1365.8,178.0 L1367.4,178.2 L1368.9,178.6 L1370.5,179.0 L1372.1,179.4 L1373.6,179.7 L1375.2,180.0 L1376.6,180.5 L1378.1,180.8 L1379.5,181.2 L1381.0,181.7 L1382.4,182.0 L1383.9,182.6 L1385.3,183.0 L1386.8,183.5 L1388.2,183.8 L1389.7,184.4 L1391.1,184.8 L1392.6,185.1 L1394.0,185.7 L1395.4,186.0 L1396.9,186.6 L1398.3,186.9 L1399.8,187.4 L1401.2,187.8 L1402.7,188.4 L1404.1,188.6 L1405.6,189.0 L1407.0,189.4 L1408.5,190.1 L1409.9,190.3 L1411.4,190.8 L1412.8,191.5 L1414.2,191.8 L1415.7,192.3 L1417.1,192.6 L1418.6,193.2 L1420.0,193.8 L1421.5,194.1 L1422.9,194.9 L1424.4,195.1 L1425.8,195.5 L1427.3,196.2 L1428.7,196.8 L1430.2,197.1 L1431.6,197.8 L1432.9,198.5 L1434.3,198.9 L1435.6,199.8 L1437.0,200.2 L1438.3,200.9 L1439.7,201.6 L1441.0,202.3 L1442.3,203.0 L1443.7,203.7 L1445.0,204.3 L1446.4,205.0 L1447.7,205.6 L1449.1,206.5 L1450.4,207.5 L1451.7,208.3 L1453.1,209.2 L1454.4,210.0 L1455.8,210.6 L1457.1,211.8 L1458.5,212.3 L1459.8,213.0 L1461.1,213.9 L1462.5,215.1 L1463.8,216.3 L1465.2,217.0 L1466.5,217.9 L1467.9,218.9 L1469.2,219.4 L1470.5,220.1 L1471.9,220.9 L1473.2,222.1 L1474.6,222.8 L1475.9,223.7 L1477.3,224.5 L1478.6,225.1 L1479.9,226.0 L1481.3,226.8 L1482.6,227.0 L1484.0,228.3 L1485.3,229.0 L1486.7,229.8 L1488.0,230.5 L1489.2,231.8 L1490.3,232.7 L1491.5,233.3 L1492.7,234.4 L1493.9,235.5 L1495.0,236.5 L1496.2,237.2 L1497.4,238.4 L1498.6,238.9 L1499.8,240.2 L1500.9,241.4 L1502.1,241.7 L1503.3,242.7 L1504.5,244.1 L1505.6,244.6 L1506.8,246.0 L1508.0,246.5 L1509.1,247.3 L1510.3,248.4 L1511.5,249.4 L1512.7,250.6 L1513.8,251.4 L1515.0,251.8 L1516.2,253.2 L1517.4,253.7 L1518.5,254.8 L1519.7,255.9 L1520.9,257.0 L1522.1,257.7 L1523.2,258.4 L1524.4,259.8 L1525.6,261.2 L1526.7,261.7 L1527.7,262.5 L1528.9,264.5 L1530.0,265.6 L1531.1,267.0 L1532.3,267.7 L1533.4,269.1 L1534.5,270.3 L1535.7,271.2 L1536.8,272.9 L1537.9,274.3 L1538.9,275.4 L1540.0,276.0 L1540.9,277.3 L1541.9,278.6 L1542.8,280.2 L1543.6,281.0 L1544.4,281.3 L1545.9,283.4 L1547.1,284.6 L1548.0,285.9 L1548.8,287.3 L1549.6,288.1 L1550.4,289.3 L1551.3,290.7 L1552.4,292.0 L1553.4,292.6 L1554.4,293.2 L1555.4,294.5 L1556.6,295.9 L1557.7,296.8 L1558.9,297.7 L1560.0,298.6 L1561.2,300.7 L1562.4,300.9 L1563.6,303.0 L1564.7,303.4 L1565.7,304.9 L1566.8,306.4 L1567.8,307.5 L1568.8,309.0 L1569.9,309.9 L1570.9,311.7 L1571.9,312.7 L1573.0,314.1 L1574.0,315.4 L1575.0,317.0 L1576.1,317.6 L1577.1,318.2 L1578.2,320.4 L1579.4,321.7 L1580.5,322.6 L1581.6,323.8 L1582.7,324.1 L1583.9,325.7 L1585.0,326.8 L1586.1,328.1 L1587.2,328.8 L1588.4,329.9 L1589.5,331.0 L1590.7,332.6 L1592.0,333.0 L1593.2,334.2 L1594.5,335.7 L1595.7,336.4 L1596.9,337.0 L1598.2,337.9 L1599.4,338.9 L1600.7,339.7 L1601.9,341.6 L1603.1,341.9 L1604.4,343.1 L1605.6,344.4 L1606.8,345.4 L1608.1,345.4 L1609.3,346.3 L1610.5,347.3 L1611.7,349.4 L1613.0,349.8 L1614.2,350.7 L1615.3,352.0 L1616.4,353.1 L1617.6,354.3 L1618.7,354.6 L1619.8,356.4 L1621.0,357.5 L1622.1,359.2 L1623.2,359.2 L1624.3,360.9 L1625.5,361.6 L1626.6,363.6 L1627.6,365.0 L1628.7,365.4 L1629.7,367.2 L1630.7,367.5 L1631.8,368.8 L1632.8,371.4 L1633.8,372.5 L1634.9,373.0 L1635.9,374.0 L1636.9,376.5 L1638.0,377.2 L1639.0,378.8 L1640.1,379.8 L1641.2,380.7 L1642.4,382.3 L1643.5,382.1 L1644.6,384.0 L1645.7,385.1 L1646.8,386.2 L1647.9,387.7 L1649.1,387.9 L1650.2,389.3 L1651.3,390.9 L1652.4,392.0 L1653.5,392.2 L1654.7,394.4 L1655.8,394.6 L1656.9,395.8 L1658.1,397.9 L1659.2,399.0 L1660.3,400.2 L1661.4,401.4 L1662.6,401.7 L1663.7,403.5 L1664.9,403.3 L1666.2,405.5 L1667.4,405.7 L1668.7,406.5 L1669.9,407.5 L1671.1,409.8 L1672.4,409.5 L1673.6,410.3 L1674.9,411.9 L1676.1,413.1 L1677.3,414.2 L1678.6,415.4 L1679.8,415.7 L1681.0,416.8 L1682.2,418.4 L1683.5,419.4 L1684.7,420.0 L1685.9,420.6 L1687.2,421.6 L1688.4,422.1 L1689.8,423.2 L1691.2,425.0 L1692.7,424.8 L1694.2,426.7 L1695.6,426.4 L1697.0,427.8 L1698.4,429.7 L1699.6,430.3 L1700.8,430.0 L1702.7,431.2 L1704.5,432.1 L1706.0,432.1 L1707.3,432.5 L1708.2,432.7" fill="none" stroke="#ff0000" stroke-width="1.4"/>
<path d="M154.0,730.8 L154.8,730.8 L155.6,730.8 L156.5,730.8 L157.4,730.8 L158.4,730.8 L159.4,730.8 L160.4,730.8 L161.5,730.8 L162.7,730.8 L163.8,730.8 L165.0,730.8 L166.3,730.8 L167.6,730.8 L168.9,730.8 L170.2,730.8 L171.6,730.8 L173.0,730.8 L174.5,730.8 L176.0,730.8 L177.4,730.8 L179.0,730.8 L180.5,730.8 L182.1,730.8 L183.7,730.8 L185.3,730.8 L186.9,730.8 L188.6,730.8 L190.2,730.8 L191.9,730.8 L193.6,730.8 L195.3,730.8 L197.0,730.8 L198.7,730.8 L200.5,730.8 L202.2,730.8 L203.9,730.8 L205.7,730.8 L207.4,730.8 L209.2,730.8 L211.0,730.7 L212.7,730.7 L214.5,730.7 L216.2,730.7 L218.0,730.7 L219.7,730.7 L221.4,730.7 L223.2,730.7 L224.9,730.7 L226.6,730.7 L228.3,730.7 L230.0,730.7 L231.6,730.7 L233.3,730.7 L234.9,730.7 L236.5,730.7 L238.1,730.7 L239.7,730.7 L241.2,730.7 L242.8,730.7 L244.3,730.7 L245.7,730.7 L247.2,730.7 L248.6,730.7 L250.0,730.7 L251.7,730.7 L253.3,730.7 L255.0,730.7 L256.7,730.7 L258.3,730.7 L260.0,730.7 L261.7,730.7 L263.4,730.7 L265.1,730.7 L266.7,730.7 L268.4,730.7 L270.1,730.7 L271.8,730.7 L273.4,730.7 L275.1,730.7 L276.8,730.6 L278.4,730.6 L280.1,730.6 L281.7,730.6 L283.4,730.6 L285.0,730.6 L286.6,730.6 L288.2,730.6 L289.8,730.6 L291.4,730.6 L293.0,730.6 L294.6,730.6 L296.2,730.6 L297.7,730.6 L299.3,730.6 L300.8,730.6 L302.3,730.6 L303.8,730.6 L305.3,730.6 L306.8,730.6 L308.2,730.6 L309.7,730.6 L311.1,730.6 L312.5,730.6 L313.9,730.6 L315.3,730.5 L316.6,730.5 L317.9,730.5 L319.2,730.5 L320.5,730.5 L321.8,730.5 L323.0,730.5 L324.3,730.5 L325.5,730.5 L326.6,730.5 L327.8,730.5 L328.9,730.5 L330.0,730.5 L332.4,730.5 L334.7,730.5 L336.9,730.5 L339.0,730.5 L341.0,730.5 L342.8,730.5 L344.6,730.4 L346.3,730.4 L347.9,730.4 L349.4,730.4 L350.9,730.4 L352.2,730.4 L353.6,730.4 L354.9,730.4 L356.1,730.4 L357.3,730.4 L358.4,730.4 L359.6,730.4 L360.7,730.3 L361.8,730.3 L362.8,730.3 L363.9,730.3 L365.0,730.3 L367.3,730.3 L369.2,730.3 L370.9,730.3 L372.3,730.3 L373.5,730.3 L374.7,730.3 L375.9,730.2 L377.1,730.2 L378.4,730.1 L380.0,730.0 L381.4,729.9 L382.9,729.7 L384.5,729.5 L386.1,729.3 L387.7,729.1 L389.3,728.9 L390.9,728.6 L392.5,728.4 L394.1,728.1 L395.6,728.0 L397.1,727.7 L398.5,727.5 L400.3,727.3 L402.0,726.9 L403.6,726.6 L405.2,726.3 L406.8,726.2 L408.3,725.8 L409.8,725.7 L411.2,725.2 L412.6,725.0 L414.3,724.6 L415.9,724.3 L417.5,724.2 L419.0,723.7 L420.5,723.6 L422.0,722.9 L423.5,722.7 L425.1,722.3 L426.6,721.6 L428.2,720.8 L429.7,720.4 L431.3,719.4 L432.8,718.7 L434.4,718.1 L436.0,717.3 L437.5,716.9 L439.1,716.3 L440.6,716.0 L442.2,715.2 L443.7,714.5 L445.3,713.8 L446.7,712.9 L448.0,711.9 L449.4,711.2 L450.8,710.6 L452.1,709.4 L453.5,709.1 L454.8,707.8 L456.2,706.6 L457.6,706.3 L458.9,704.9 L460.3,704.6 L461.6,703.1 L462.9,702.2 L464.3,701.6 L465.6,700.3 L467.0,699.1 L468.2,697.9 L469.4,697.7 L470.6,696.2 L471.8,695.3 L473.1,694.4 L474.3,693.8 L475.5,692.4 L476.7,691.4 L477.9,689.9 L479.0,689.0 L480.1,688.5 L481.2,687.5 L482.3,686.1 L483.3,684.8 L484.4,683.6 L485.5,682.9 L486.6,681.9 L487.7,680.6 L488.8,679.1 L489.9,678.2 L491.0,676.6 L492.1,676.3 L493.2,675.4 L494.3,673.4 L495.3,673.3 L496.4,672.1 L497.5,670.2 L498.6,669.1 L499.7,668.1 L500.7,666.7 L501.7,666.4 L502.6,664.3 L503.6,663.8 L504.6,662.0 L505.6,661.3 L506.6,660.1 L507.6,658.1 L508.5,658.0 L509.5,656.1 L510.5,654.8 L511.5,654.5 L512.5,652.1 L513.5,651.0 L514.5,650.4 L515.4,648.4 L516.4,648.4 L517.4,646.8 L518.4,645.6 L519.4,643.6 L520.4,642.4 L521.4,641.2 L522.4,641.0 L523.4,640.0 L524.4,638.8 L525.4,636.3 L526.4,635.7 L527.3,633.9 L528.3,633.2 L529.3,632.0 L530.3,631.7 L531.3,630.2 L532.3,628.0 L533.3,627.8 L534.3,625.8 L535.3,625.4 L536.3,623.5 L537.3,621.8 L538.3,621.6 L539.2,619.5 L540.2,619.0 L541.2,617.0 L542.2,615.7 L543.2,614.5 L544.2,613.9 L545.2,612.5 L546.1,611.7 L547.1,611.4 L548.1,608.7 L549.1,608.2 L550.1,607.3 L551.1,605.0 L552.0,605.3 L553.0,603.2 L554.0,602.8 L554.9,600.8 L555.8,599.1 L556.7,598.3 L557.6,596.4 L558.5,594.9 L559.4,595.1 L560.4,593.7 L561.3,591.0 L562.2,591.2 L563.1,589.0 L564.0,587.6 L564.9,586.7 L565.9,584.6 L566.9,583.9 L567.9,583.0 L568.9,581.8 L569.9,580.9 L570.8,579.7 L571.8,577.9 L572.8,577.5 L573.8,574.9 L574.8,573.7 L575.8,573.8 L576.9,572.3 L578.0,571.9 L579.1,569.0 L580.2,568.3 L581.4,566.9 L582.5,566.0 L583.6,564.4 L584.6,562.9 L585.7,561.5 L586.7,562.3 L587.9,560.7 L588.9,559.6 L589.9,558.0 L590.9,557.5 L592.0,554.9 L593.1,555.1 L594.4,552.5 L595.8,553.2 L596.9,550.7 L598.0,551.0 L599.3,548.9 L600.6,548.0 L601.9,548.4 L603.3,546.1 L604.7,545.4 L606.1,544.9 L607.5,544.7 L608.9,543.1 L610.3,544.3 L611.6,542.3 L613.2,542.4 L614.8,540.7 L616.4,541.0 L618.0,539.9 L619.6,540.6 L621.1,540.7 L622.7,540.9 L624.3,539.4 L625.9,539.4 L627.5,541.2 L629.1,539.7 L630.7,541.2 L632.3,541.8 L634.0,541.5 L635.6,540.9 L637.2,542.3 L638.8,541.1 L640.3,544.0 L641.8,543.4 L643.3,543.2 L644.8,544.0 L646.3,546.6 L647.8,545.1 L649.2,547.1 L650.5,548.0 L651.9,549.0 L653.2,549.0 L654.6,550.4 L656.0,551.2 L657.3,551.5 L658.6,553.3 L659.9,554.5 L661.2,555.9 L662.5,556.9 L663.8,556.1 L665.1,556.7 L666.3,557.9 L667.5,560.4 L668.6,561.7 L669.7,561.4 L670.7,564.1 L671.7,564.0 L672.6,565.8 L673.5,566.3 L674.4,567.1 L675.3,571.3 L676.2,571.9 L677.2,573.8 L678.1,574.2 L679.0,575.5 L679.8,576.2 L680.7,578.4 L681.6,576.9 L682.4,581.2 L683.3,581.2 L684.1,584.3 L685.0,585.0 L685.9,585.7 L686.7,584.7 L687.6,588.6 L688.5,588.3 L689.3,590.7 L690.2,592.3 L691.1,594.1 L691.9,592.3 L692.8,595.2 L693.6,596.6 L694.5,599.1 L695.4,600.6 L696.2,602.0 L697.1,603.4 L697.9,601.5 L698.7,603.9 L699.5,603.8 L700.3,607.8 L701.1,610.0 L701.9,608.4 L702.7,610.4 L703.5,613.1 L704.3,614.2 L705.1,616.5 L705.8,616.9 L706.6,618.5 L707.2,618.2 L707.9,621.3 L708.5,622.9 L709.0,623.3 L709.6,623.3 L710.2,625.3 L710.8,627.2 L711.4,627.7 L712.0,628.3 L712.6,631.7 L713.3,634.0 L713.9,634.7 L714.6,635.4 L715.4,636.1 L716.1,636.7 L716.7,640.5 L717.5,642.1 L718.2,644.0 L719.0,644.6 L719.8,643.4 L720.5,647.2 L721.4,647.8 L722.2,648.4 L723.0,651.6 L723.8,650.4 L724.6,652.7 L725.4,657.0 L726.1,655.2 L726.9,656.1 L727.6,660.2 L728.3,658.8 L728.9,661.1 L729.6,662.9 L730.2,665.3 L730.8,666.9 L731.3,666.1 L731.9,668.3 L732.5,671.0 L733.1,673.1 L733.6,674.7 L734.2,673.0 L734.7,677.1 L735.3,676.2 L735.8,679.3 L736.4,681.2 L736.9,682.0 L737.5,681.7 L738.0,686.3 L738.6,685.9 L739.2,686.1 L739.8,689.1 L740.3,690.3 L740.9,690.9 L741.5,694.1 L742.1,692.7 L742.7,695.1 L743.3,697.8 L743.9,698.3 L744.5,699.0 L745.1,702.1 L745.7,701.3 L746.2,706.4 L746.8,704.0 L747.3,710.2 L747.9,707.0 L748.4,711.8 L748.9,713.5 L749.4,712.4 L749.9,716.2 L750.4,715.7 L750.8,719.4 L751.3,720.1 L751.7,720.3 L752.1,722.8 L752.5,723.2 L753.0,726.0 L753.4,728.1 L753.8,728.2 L754.2,732.2 L754.7,729.6 L755.1,731.0 L755.6,733.4 L756.1,735.2 L756.6,739.8 L757.3,740.3 L758.0,742.8 L758.8,740.1 L759.6,744.1 L760.4,744.5 L761.2,748.5 L762.0,748.6 L762.8,748.1 L763.6,751.4 L764.5,752.2 L765.3,755.4 L766.1,753.1 L766.9,753.6 L767.8,754.4 L768.8,758.7 L769.7,757.9 L770.6,758.8 L771.6,759.2 L772.5,762.0 L773.5,765.8 L774.4,764.3 L775.3,766.5 L776.3,767.4 L777.2,769.4 L777.9,767.7 L778.6,768.0 L779.3,771.7 L779.9,774.6 L780.6,774.1 L781.3,774.7 L782.0,774.7 L782.7,778.8 L783.4,777.9 L784.1,782.6 L784.8,784.9 L785.4,786.8 L786.1,784.7 L786.8,788.1 L787.5,789.8 L788.2,789.8 L788.9,788.4 L789.5,792.5 L790.2,796.4 L790.9,797.0 L791.6,796.9 L792.3,796.7 L792.9,796.0 L793.6,799.2 L794.3,800.8 L795.0,803.9 L795.7,804.7 L796.3,807.8 L797.0,809.1 L797.7,807.8 L798.3,812.7 L798.8,810.0 L799.4,814.5 L800.0,813.1 L800.6,818.4 L801.1,817.6 L801.7,818.2 L802.3,818.9 L802.8,820.4 L803.4,822.6 L804.0,827.7 L804.6,827.1 L805.1,826.6 L805.7,826.5 L806.3,831.4 L806.9,830.4 L807.4,835.2 L808.0,831.6 L808.7,834.4 L809.4,839.8 L810.0,836.0 L810.7,841.0 L811.3,839.1 L812.0,843.1 L812.7,844.8 L813.3,849.2 L814.0,850.2 L814.7,847.9 L815.4,853.0 L816.1,850.0 L816.8,853.7 L817.5,852.5 L818.3,854.5 L819.6,855.0 L821.0,858.1 L822.4,859.5 L823.9,859.0 L825.3,857.7 L826.8,856.1 L828.3,855.3 L829.8,857.6 L831.2,860.8 L832.7,861.9 L834.3,859.6 L835.9,859.2 L837.5,861.1 L839.1,861.9 L840.6,860.8 L841.9,862.6 L843.1,863.9 L844.0,861.3 L844.6,863.6 L845.0,863.1 L845.3,867.5 L845.4,871.0 L845.5,869.5 L845.4,872.1 L845.4,876.5 L845.3,875.4 L845.3,876.9 L845.3,882.1" fill="none" stroke="#0000ff" stroke-width="1.3" stroke-dasharray="6 3"/>
<path d="M154.0,730.8 L154.8,730.8 L155.6,730.8 L156.5,730.8 L157.4,730.8 L158.4,730.8 L159.4,730.8 L160.4,730.8 L161.5,730.8 L162.7,730.8 L163.8,730.8 L165.0,730.8 L166.3,730.8 L167.6,730.8 L168.9,730.8 L170.2,730.8 L171.6,730.8 L173.0,730.8 L174.5,730.8 L176.0,730.8 L177.4,730.8 L179.0,730.8 L180.5,730.8 L182.1,730.8 L183.7,730.8 L185.3,730.8 L186.9,730.8 L188.6,730.8 L190.2,730.8 L191.9,730.8 L193.6,730.8 L195.3,730.8 L197.0,730.8 L198.7,730.8 L200.5,730.8 L202.2,730.8 L203.9,730.8 L205.7,730.8 L207.4,730.8 L209.2,730.8 L211.0,730.7 L212.7,730.7 L214.5,730.7 L216.2,730.7 L218.0,730.7 L219.7,730.7 L221.4,730.7 L223.2,730.7 L224.9,730.7 L226.6,730.7 L228.3,730.7 L230.0,730.7 L231.6,730.7 L233.3,730.7 L234.9,730.7 L236.5,730.7 L238.1,730.7 L239.7,730.7 L241.2,730.7 L242.8,730.7 L244.3,730.7 L245.7,730.7 L247.2,730.7 L248.6,730.7 L250.0,730.7 L251.7,730.7 L253.3,730.7 L255.0,730.7 L256.7,730.7 L258.3,730.7 L260.0,730.7 L261.7,730.7 L263.4,730.7 L265.1,730.7 L266.7,730.7 L268.4,730.7 L270.1,730.7 L271.8,730.7 L273.4,730.7 L275.1,730.7 L276.8,730.6 L278.4,730.6 L280.1,730.6 L281.7,730.6 L283.4,730.6 L285.0,730.6 L286.6,730.6 L288.2,730.6 L289.8,730.6 L291.4,730.6 L293.0,730.6 L294.6,730.6 L296.2,730.6 L297.7,730.6 L299.3,730.6 L300.8,730.6 L302.3,730.6 L303.8,730.6 L305.3,730.6 L306.8,730.6 L308.2,730.6 L309.7,730.6 L311.1,730.6 L312.5,730.6 L313.9,730.6 L315.3,730.5 L316.6,730.5 L317.9,730.5 L319.2,730.5 L320.5,730.5 L321.8,730.5 L323.0,730.5 L324.3,730.5 L325.5,730.5 L326.6,730.5 L327.8,730.5 L328.9,730.5 L330.0,730.5 L332.4,730.5 L334.7,730.5 L336.9,730.5 L339.0,730.5 L341.0,730.5 L342.8,730.5 L344.6,730.4 L346.3,730.4 L347.9,730.4 L349.4,730.4 L350.9,730.4 L352.2,730.4 L353.6,730.4 L354.9,730.4 L356.1,730.4 L357.3,730.4 L358.4,730.4 L359.6,730.4 L360.7,730.3 L361.8,730.3 L362.8,730.3 L363.9,730.3 L365.0,730.3 L367.3,730.3 L369.2,730.3 L370.9,730.3 L372.3,730.3 L373.5,730.3 L374.7,730.3 L375.9,730.2 L377.1,730.2 L378.4,730.1 L380.0,730.0 L381.4,729.9 L382.9,729.8 L384.5,729.7 L386.1,729.5 L387.7,729.4 L389.3,729.1 L390.9,729.0 L392.5,728.8 L394.1,728.6 L395.6,728.4 L397.1,728.2 L398.5,728.0 L400.3,728.0 L402.0,727.8 L403.6,727.5 L405.2,727.2 L406.8,727.0 L408.3,726.9 L409.8,726.4 L411.2,726.3 L412.6,726.1 L414.3,725.7 L415.9,725.6 L417.5,725.2 L419.0,725.1 L420.5,725.0 L422.0,724.5 L423.5,724.0 L425.1,723.8 L426.6,723.2 L428.2,722.4 L429.7,722.0 L431.3,721.0 L432.8,720.5 L434.4,719.7 L436.0,719.2 L437.5,718.6 L439.1,718.4 L440.6,717.8 L442.2,717.1 L443.7,716.8 L445.3,715.6 L446.7,714.8 L448.0,714.2 L449.4,713.3 L450.8,712.4 L452.1,711.9 L453.5,711.2 L454.8,710.2 L456.2,709.5 L457.6,708.2 L458.9,707.8 L460.3,707.0 L461.6,706.2 L462.9,704.8 L464.3,704.0 L465.6,702.6 L467.0,701.6 L468.2,701.2 L469.4,700.1 L470.6,699.0 L471.8,698.6 L473.1,697.2 L474.3,696.8 L475.5,695.2 L476.7,694.0 L477.9,693.7 L479.0,692.8 L480.1,691.8 L481.2,690.3 L482.3,689.4 L483.3,688.0 L484.4,687.0 L485.5,685.9 L486.6,685.4 L487.7,683.9 L488.8,682.8 L489.9,681.4 L491.0,680.5 L492.1,679.8 L493.2,678.3 L494.3,677.8 L495.3,676.9 L496.4,675.7 L497.5,674.3 L498.6,673.7 L499.7,671.4 L500.7,671.1 L501.7,669.9 L502.6,668.9 L503.6,667.3 L504.6,666.1 L505.6,665.6 L506.6,664.3 L507.6,662.8 L508.5,661.8 L509.5,660.4 L510.5,658.9 L511.5,657.6 L512.5,656.9 L513.5,655.2 L514.5,654.7 L515.4,653.3 L516.4,651.9 L517.4,651.6 L518.4,650.3 L519.4,648.2 L520.4,646.9 L521.4,646.6 L522.4,645.5 L523.4,644.6 L524.4,642.2 L525.4,641.1 L526.4,640.7 L527.3,639.1 L528.3,637.5 L529.3,637.2 L530.3,636.5 L531.3,634.9 L532.3,633.4 L533.3,632.9 L534.3,631.1 L535.3,630.0 L536.3,629.3 L537.3,627.4 L538.3,625.7 L539.2,625.2 L540.2,623.8 L541.2,622.6 L542.2,622.1 L543.2,620.1 L544.2,619.4 L545.2,619.0 L546.1,616.3 L547.1,616.2 L548.1,614.6 L549.1,613.8 L550.1,612.7 L551.1,611.8 L552.0,610.7 L553.0,609.8 L554.0,607.0 L554.9,607.3 L555.8,605.1 L556.7,603.6 L557.6,602.1 L558.5,601.2 L559.4,599.5 L560.4,599.7 L561.3,597.0 L562.2,595.3 L563.1,594.5 L564.0,594.3 L564.9,593.5 L565.9,590.5 L566.9,589.8 L567.9,589.8 L568.9,587.2 L569.9,585.8 L570.8,584.4 L571.8,584.2 L572.8,582.2 L573.8,581.7 L574.8,580.4 L575.8,580.6 L576.9,578.9 L578.0,578.2 L579.1,576.9 L580.2,575.3 L581.4,574.4 L582.5,573.0 L583.6,571.2 L584.6,569.9 L585.7,568.6 L586.7,567.4 L587.9,567.2 L588.9,565.8 L589.9,563.9 L590.9,563.3 L592.0,561.6 L593.1,561.5 L594.4,561.0 L595.8,558.2 L596.9,559.0 L598.0,557.0 L599.3,555.8 L600.6,554.9 L601.9,556.0 L603.3,554.5 L604.7,553.9 L606.1,551.4 L607.5,552.7 L608.9,550.4 L610.3,549.8 L611.6,548.9 L613.2,549.7 L614.8,548.9 L616.4,548.7 L618.0,547.6 L619.6,548.9 L621.1,547.5 L622.7,547.1 L624.3,547.2 L625.9,547.9 L627.5,546.6 L629.1,546.7 L630.7,548.2 L632.3,548.0 L634.0,548.0 L635.6,548.0 L637.2,549.3 L638.8,549.6 L640.3,551.4 L641.8,550.2 L643.3,550.6 L644.8,551.5 L646.3,554.6 L647.8,555.0 L649.2,553.9 L650.5,555.8 L651.9,558.3 L653.2,558.0 L654.6,559.3 L656.0,560.8 L657.3,559.5 L658.6,561.5 L659.9,562.6 L661.2,562.7 L662.5,564.7 L663.8,566.0 L665.1,567.9 L666.3,566.1 L667.5,569.6 L668.6,568.3 L669.7,570.2 L670.7,570.6 L671.7,573.4 L672.6,575.6 L673.5,575.1 L674.4,576.7 L675.3,577.0 L676.2,580.4 L677.2,580.3 L678.1,582.1 L679.0,583.0 L679.8,585.6 L680.7,584.9 L681.6,588.4 L682.4,587.1 L683.3,588.7 L684.1,592.6 L685.0,593.2 L685.9,593.0 L686.7,595.9 L687.6,596.7 L688.5,598.8 L689.3,600.2 L690.2,598.9 L691.1,600.5 L691.9,604.1 L692.8,604.2 L693.6,605.8 L694.5,608.0 L695.4,608.8 L696.2,610.1 L697.1,612.9 L697.9,611.7 L698.7,612.0 L699.5,614.5 L700.3,615.6 L701.1,618.9 L701.9,618.3 L702.7,618.1 L703.5,622.1 L704.3,623.7 L705.1,625.2 L705.8,626.1 L706.6,626.7 L707.2,627.2 L707.9,628.3 L708.5,630.3 L709.0,631.6 L709.6,631.5 L710.2,633.3 L710.8,638.2 L711.4,639.5 L712.0,637.1 L712.6,641.7 L713.3,642.0 L713.9,643.8 L714.6,644.9 L715.4,645.9 L716.1,648.2 L716.7,649.7 L717.5,650.3 L718.2,653.2 L719.0,651.8 L719.8,655.4 L720.5,654.2 L721.4,657.3 L722.2,658.8 L723.0,659.3 L723.8,661.0 L724.6,661.5 L725.4,662.9 L726.1,667.0 L726.9,669.3 L727.6,668.9 L728.3,669.3 L728.9,673.4 L729.6,673.4 L730.2,674.5 L730.8,675.7 L731.3,677.3 L731.9,678.4 L732.5,679.0 L733.1,679.8 L733.6,685.2 L734.2,685.4 L734.7,684.1 L735.3,686.9 L735.8,690.8 L736.4,692.2 L736.9,691.2 L737.5,695.3 L738.0,697.1 L738.6,698.1 L739.2,699.0 L739.8,698.2 L740.3,702.8 L740.9,702.7 L741.5,703.4 L742.1,706.6 L742.7,706.5 L743.3,709.9 L743.9,708.6 L744.5,712.9 L745.1,711.1 L745.7,712.3 L746.2,713.8 L746.8,714.7 L747.3,717.1 L747.9,717.5 L748.4,723.0 L748.9,721.1 L749.4,721.7 L749.9,725.4 L750.4,728.8 L750.8,729.8 L751.3,729.6 L751.7,729.4 L752.1,731.4 L752.5,734.3 L753.0,738.3 L753.4,737.2 L753.8,740.3 L754.2,740.1 L754.7,743.1 L755.1,743.0 L755.6,746.3 L756.1,748.1 L756.6,746.2 L757.3,751.1 L758.0,752.1 L758.8,751.3 L759.6,752.3 L760.4,755.8 L761.2,756.3 L762.0,759.6 L762.8,759.9 L763.6,759.4 L764.5,761.0 L765.3,761.3 L766.1,762.6 L766.9,765.8 L767.8,766.9 L768.8,766.3 L769.7,772.3 L770.6,771.0 L771.6,773.1 L772.5,773.5 L773.5,775.0 L774.4,776.4 L775.3,775.9 L776.3,778.9 L777.2,780.6 L777.9,781.2 L778.6,783.3 L779.3,783.2 L779.9,784.2 L780.6,786.1 L781.3,788.4 L782.0,790.2 L782.7,791.7 L783.4,791.4 L784.1,795.7 L784.8,791.8 L785.4,798.5 L786.1,798.9 L786.8,799.5 L787.5,802.9 L788.2,802.4 L788.9,805.6 L789.5,801.4 L790.2,804.1 L790.9,805.2 L791.6,810.6 L792.3,808.0 L792.9,808.5 L793.6,813.9 L794.3,812.0 L795.0,814.8 L795.7,814.9 L796.3,815.3 L797.0,819.6 L797.7,823.7 L798.3,821.7 L798.8,826.7 L799.4,826.9 L800.0,826.1 L800.6,825.6 L801.1,828.1 L801.7,831.0 L802.3,835.2 L802.8,835.7 L803.4,832.9 L804.0,837.7 L804.6,839.5 L805.1,837.7 L805.7,840.8 L806.3,841.8 L806.9,844.2 L807.4,845.5 L808.0,849.5 L808.7,849.9 L809.4,852.9 L810.0,851.3 L810.7,851.5 L811.3,855.1 L812.0,859.0 L812.7,859.8 L813.3,861.8 L814.0,859.6 L814.7,865.0 L815.4,865.1 L816.1,865.9 L816.8,863.1 L817.5,865.0 L818.3,867.2 L819.6,872.2 L821.0,873.1 L822.4,868.5 L823.9,873.3 L825.3,873.5 L826.8,870.6 L828.3,875.7 L829.8,872.7 L831.2,873.7 L832.7,877.1 L834.3,873.1 L835.9,874.0 L837.5,875.8 L839.1,876.1 L840.6,878.7 L841.9,878.1 L843.1,876.4 L844.0,876.4 L844.6,879.1 L845.0,883.3 L845.3,885.0 L845.4,883.9 L845.5,888.1 L845.4,891.9 L845.4,888.8 L845.3,893.5 L845.3,892.5 L845.3,896.0" fill="none" stroke="#0000ff" stroke-width="1.3" stroke-dasharray="6 3"/>
<path d="M154.0,730.8 L154.8,730.8 L155.6,730.8 L156.5,730.8 L157.4,730.8 L158.4,730.8 L159.4,730.8 L160.4,730.8 L161.5,730.8 L162.7,730.8 L163.8,730.8 L165.0,730.8 L166.3,730.8 L167.6,730.8 L168.9,730.8 L170.2,730.8 L171.6,730.8 L173.0,730.8 L174.5,730.8 L176.0,730.8 L177.4,730.8 L179.0,730.8 L180.5,730.8 L182.1,730.8 L183.7,730.8 L185.3,730.8 L186.9,730.8 L188.6,730.8 L190.2,730.8 L191.9,730.8 L193.6,730.8 L195.3,730.8 L197.0,730.8 L198.7,730.8 L200.5,730.8 L202.2,730.8 L203.9,730.8 L205.7,730.8 L207.4,730.8 L209.2,730.8 L211.0,730.7 L212.7,730.7 L214.5,730.7 L216.2,730.7 L218.0,730.7 L219.7,730.7 L221.4,730.7 L223.2,730.7 L224.9,730.7 L226.6,730.7 L228.3,730.7 L230.0,730.7 L231.6,730.7 L233.3,730.7 L234.9,730.7 L236.5,730.7 L238.1,730.7 L239.7,730.7 L241.2,730.7 L242.8,730.7 L244.3,730.7 L245.7,730.7 L247.2,730.7 L248.6,730.7 L250.0,730.7 L251.7,730.7 L253.3,730.7 L255.0,730.7 L256.7,730.7 L258.3,730.7 L260.0,730.7 L261.7,730.7 L263.4,730.7 L265.1,730.7 L266.7,730.7 L268.4,730.7 L270.1,730.7 L271.8,730.7 L273.4,730.7 L275.1,730.7 L276.8,730.6 L278.4,730.6 L280.1,730.6 L281.7,730.6 L283.4,730.6 L285.0,730.6 L286.6,730.6 L288.2,730.6 L289.8,730.6 L291.4,730.6 L293.0,730.6 L294.6,730.6 L296.2,730.6 L297.7,730.6 L299.3,730.6 L300.8,730.6 L302.3,730.6 L303.8,730.6 L305.3,730.6 L306.8,730.6 L308.2,730.6 L309.7,730.6 L311.1,730.6 L312.5,730.6 L313.9,730.6 L315.3,730.5 L316.6,730.5 L317.9,730.5 L319.2,730.5 L320.5,730.5 L321.8,730.5 L323.0,730.5 L324.3,730.5 L325.5,730.5 L326.6,730.5 L327.8,730.5 L328.9,730.5 L330.0,730.5 L332.4,730.5 L334.7,730.5 L336.9,730.5 L339.0,730.5 L341.0,730.5 L342.8,730.5 L344.6,730.4 L346.3,730.4 L347.9,730.4 L349.4,730.4 L350.9,730.4 L352.2,730.4 L353.6,730.4 L354.9,730.4 L356.1,730.4 L357.3,730.4 L358.4,730.4 L359.6,730.4 L360.7,730.3 L361.8,730.3 L362.8,730.3 L363.9,730.3 L365.0,730.3 L367.3,730.3 L369.2,730.3 L370.9,730.3 L372.3,730.3 L373.5,730.3 L374.7,730.3 L375.9,730.2 L377.1,730.2 L378.4,730.1 L380.0,730.0 L381.4,729.9 L382.9,729.7 L384.5,729.6 L386.1,729.4 L387.7,729.3 L389.3,729.0 L390.9,728.8 L392.5,728.6 L394.1,728.3 L395.6,728.2 L397.1,728.0 L398.5,727.8 L400.3,727.5 L402.0,727.3 L403.6,726.9 L405.2,726.8 L406.8,726.7 L408.3,726.2 L409.8,726.1 L411.2,725.8 L412.6,725.5 L414.3,725.2 L415.9,725.2 L417.5,724.7 L419.0,724.4 L420.5,724.4 L422.0,723.7 L423.5,723.4 L425.1,723.0 L426.6,722.2 L428.2,721.6 L429.7,720.8 L431.3,720.3 L432.8,719.6 L434.4,719.1 L436.0,718.6 L437.5,717.8 L439.1,717.3 L440.6,716.8 L442.2,716.3 L443.7,715.6 L445.3,714.9 L446.7,714.2 L448.0,712.9 L449.4,712.6 L450.8,711.8 L452.1,710.5 L453.5,710.2 L454.8,708.9 L456.2,708.1 L457.6,707.6 L458.9,706.4 L460.3,705.4 L461.6,704.2 L462.9,703.5 L464.3,702.8 L465.6,702.0 L467.0,700.9 L468.2,700.1 L469.4,698.8 L470.6,697.6 L471.8,697.0 L473.1,695.7 L474.3,695.5 L475.5,694.1 L476.7,693.3 L477.9,691.6 L479.0,691.3 L480.1,689.7 L481.2,688.9 L482.3,687.2 L483.3,686.2 L484.4,685.0 L485.5,684.3 L486.6,683.7 L487.7,682.3 L488.8,681.3 L489.9,680.1 L491.0,678.4 L492.1,677.9 L493.2,676.5 L494.3,675.9 L495.3,674.8 L496.4,673.8 L497.5,672.5 L498.6,671.8 L499.7,670.2 L500.7,668.9 L501.7,668.4 L502.6,666.6 L503.6,665.6 L504.6,664.8 L505.6,662.8 L506.6,661.5 L507.6,660.3 L508.5,659.9 L509.5,658.2 L510.5,657.6 L511.5,656.1 L512.5,654.1 L513.5,653.7 L514.5,652.5 L515.4,651.5 L516.4,650.4 L517.4,649.3 L518.4,647.2 L519.4,646.3 L520.4,644.7 L521.4,644.2 L522.4,643.2 L523.4,641.9 L524.4,640.6 L525.4,638.7 L526.4,637.9 L527.3,637.3 L528.3,635.8 L529.3,634.7 L530.3,633.4 L531.3,631.5 L532.3,630.7 L533.3,629.6 L534.3,628.4 L535.3,627.7 L536.3,625.9 L537.3,625.1 L538.3,623.4 L539.2,622.3 L540.2,622.3 L541.2,621.0 L542.2,619.6 L543.2,617.7 L544.2,616.7 L545.2,614.8 L546.1,614.3 L547.1,612.9 L548.1,612.1 L549.1,611.4 L550.1,610.5 L551.1,607.8 L552.0,607.2 L553.0,606.9 L554.0,605.4 L554.9,604.2 L555.8,603.4 L556.7,600.8 L557.6,600.2 L558.5,598.5 L559.4,598.0 L560.4,595.0 L561.3,594.8 L562.2,594.1 L563.1,591.4 L564.0,591.3 L564.9,588.9 L565.9,588.7 L566.9,587.4 L567.9,585.8 L568.9,584.2 L569.9,583.6 L570.8,582.3 L571.8,581.7 L572.8,580.2 L573.8,578.9 L574.8,577.4 L575.8,576.5 L576.9,575.1 L578.0,575.0 L579.1,572.4 L580.2,570.7 L581.4,570.4 L582.5,568.7 L583.6,567.2 L584.6,566.9 L585.7,564.7 L586.7,563.8 L587.9,562.9 L588.9,561.7 L589.9,560.9 L590.9,559.5 L592.0,559.9 L593.1,557.0 L594.4,555.8 L595.8,555.8 L596.9,555.2 L598.0,554.4 L599.3,554.3 L600.6,552.8 L601.9,551.4 L603.3,551.2 L604.7,550.6 L606.1,548.4 L607.5,548.8 L608.9,547.4 L610.3,546.3 L611.6,545.3 L613.2,545.6 L614.8,544.5 L616.4,545.3 L618.0,545.5 L619.6,544.2 L621.1,544.1 L622.7,544.6 L624.3,542.8 L625.9,544.7 L627.5,544.2 L629.1,544.6 L630.7,544.5 L632.3,543.2 L634.0,545.1 L635.6,545.0 L637.2,544.5 L638.8,547.2 L640.3,545.9 L641.8,548.4 L643.3,547.7 L644.8,548.8 L646.3,549.4 L647.8,550.1 L649.2,550.0 L650.5,553.3 L651.9,552.3 L653.2,553.7 L654.6,556.0 L656.0,557.0 L657.3,556.8 L658.6,558.9 L659.9,559.7 L661.2,558.7 L662.5,560.2 L663.8,560.1 L665.1,562.9 L666.3,562.0 L667.5,564.0 L668.6,564.2 L669.7,566.7 L670.7,566.2 L671.7,569.7 L672.6,570.5 L673.5,572.8 L674.4,573.9 L675.3,573.7 L676.2,575.8 L677.2,575.0 L678.1,579.2 L679.0,580.4 L679.8,581.3 L680.7,582.2 L681.6,583.0 L682.4,585.3 L683.3,585.8 L684.1,585.9 L685.0,587.3 L685.9,589.2 L686.7,590.1 L687.6,592.5 L688.5,593.3 L689.3,594.3 L690.2,595.8 L691.1,596.4 L691.9,597.0 L692.8,598.4 L693.6,602.3 L694.5,600.7 L695.4,604.3 L696.2,606.0 L697.1,604.7 L697.9,606.6 L698.7,607.4 L699.5,609.2 L700.3,610.7 L701.1,611.5 L701.9,614.8 L702.7,615.2 L703.5,616.5 L704.3,619.5 L705.1,620.9 L705.8,620.5 L706.6,623.9 L707.2,622.3 L707.9,625.6 L708.5,626.3 L709.0,625.9 L709.6,627.4 L710.2,628.8 L710.8,629.6 L711.4,634.5 L712.0,632.8 L712.6,634.1 L713.3,637.3 L713.9,640.7 L714.6,639.1 L715.4,643.4 L716.1,644.6 L716.7,643.4 L717.5,644.2 L718.2,646.5 L719.0,647.8 L719.8,650.1 L720.5,653.2 L721.4,652.8 L722.2,652.6 L723.0,653.7 L723.8,656.1 L724.6,660.4 L725.4,659.2 L726.1,660.6 L726.9,662.6 L727.6,663.5 L728.3,667.4 L728.9,666.1 L729.6,668.5 L730.2,671.5 L730.8,672.0 L731.3,672.4 L731.9,675.9 L732.5,676.0 L733.1,676.7 L733.6,676.6 L734.2,677.8 L734.7,680.3 L735.3,682.5 L735.8,685.1 L736.4,687.3 L736.9,685.6 L737.5,689.1 L738.0,689.4 L738.6,693.5 L739.2,695.2 L739.8,695.4 L740.3,694.1 L740.9,696.7 L741.5,698.3 L742.1,699.0 L742.7,702.2 L743.3,703.3 L743.9,705.7 L744.5,706.3 L745.1,704.9 L745.7,708.7 L746.2,712.5 L746.8,711.3 L747.3,711.4 L747.9,713.1 L748.4,718.3 L748.9,718.9 L749.4,717.1 L749.9,718.6 L750.4,719.4 L750.8,725.2 L751.3,727.1 L751.7,727.0 L752.1,726.9 L752.5,727.6 L753.0,733.7 L753.4,734.1 L753.8,733.8 L754.2,737.7 L754.7,735.6 L755.1,737.4 L755.6,738.8 L756.1,742.0 L756.6,741.4 L757.3,745.0 L758.0,746.1 L758.8,748.7 L759.6,749.0 L760.4,751.9 L761.2,752.1 L762.0,753.7 L762.8,753.7 L763.6,756.5 L764.5,757.0 L765.3,756.3 L766.1,759.7 L766.9,759.6 L767.8,764.5 L768.8,764.5 L769.7,763.1 L770.6,765.3 L771.6,766.6 L772.5,769.0 L773.5,770.3 L774.4,767.3 L775.3,770.1 L776.3,773.0 L777.2,776.3 L777.9,776.1 L778.6,776.9 L779.3,775.8 L779.9,780.0 L780.6,782.7 L781.3,784.3 L782.0,785.6 L782.7,785.2 L783.4,787.9 L784.1,787.9 L784.8,790.4 L785.4,789.6 L786.1,793.0 L786.8,793.1 L787.5,796.5 L788.2,795.6 L788.9,797.4 L789.5,797.2 L790.2,797.8 L790.9,799.7 L791.6,803.3 L792.3,803.5 L792.9,804.1 L793.6,804.1 L794.3,810.4 L795.0,807.7 L795.7,808.0 L796.3,809.7 L797.0,813.0 L797.7,817.3 L798.3,813.3 L798.8,814.4 L799.4,820.3 L800.0,817.2 L800.6,824.4 L801.1,826.4 L801.7,822.1 L802.3,826.0 L802.8,827.6 L803.4,827.6 L804.0,829.1 L804.6,832.4 L805.1,833.8 L805.7,832.1 L806.3,833.4 L806.9,836.2 L807.4,837.4 L808.0,837.8 L808.7,842.7 L809.4,840.8 L810.0,846.3 L810.7,849.0 L811.3,846.7 L812.0,847.9 L812.7,854.0 L813.3,850.6 L814.0,854.2 L814.7,858.7 L815.4,859.1 L816.1,855.4 L816.8,861.9 L817.5,859.3 L818.3,859.4 L819.6,861.0 L821.0,864.0 L822.4,861.1 L823.9,862.6 L825.3,865.7 L826.8,864.8 L828.3,863.1 L829.8,868.8 L831.2,865.0 L832.7,864.8 L834.3,864.4 L835.9,868.6 L837.5,866.8 L839.1,868.4 L840.6,871.9 L841.9,872.4 L843.1,872.3 L844.0,871.0 L844.6,873.9 L845.0,871.1 L845.3,875.0 L845.4,880.3 L845.5,882.7 L845.4,882.3 L845.4,883.9 L845.3,886.9 L845.3,887.5 L845.3,885.9" fill="none" stroke="#0000ff" stroke-width="1.4"/>
<path d="M154.0,730.6 L154.8,730.6 L155.6,730.6 L156.5,730.6 L157.4,730.6 L158.4,730.6 L159.4,730.6 L160.4,730.6 L161.5,730.6 L162.7,730.6 L163.8,730.6 L165.0,730.6 L166.3,730.6 L167.6,730.6 L168.9,730.6 L170.2,730.6 L171.6,730.6 L173.0,730.6 L174.5,730.6 L176.0,730.6 L177.4,730.6 L179.0,730.6 L180.5,730.6 L182.1,730.6 L183.7,730.6 L185.3,730.6 L186.9,730.6 L188.6,730.6 L190.2,730.6 L191.9,730.6 L193.6,730.6 L195.3,730.6 L197.0,730.6 L198.7,730.6 L200.5,730.6 L202.2,730.6 L203.9,730.6 L205.7,730.6 L207.4,730.6 L209.2,730.6 L211.0,730.6 L212.7,730.6 L214.5,730.6 L216.2,730.6 L218.0,730.5 L219.7,730.5 L221.4,730.5 L223.2,730.5 L224.9,730.5 L226.6,730.5 L228.3,730.5 L230.0,730.5 L231.6,730.5 L233.3,730.5 L234.9,730.5 L236.5,730.5 L238.1,730.5 L239.7,730.5 L241.2,730.5 L242.8,730.5 L244.3,730.5 L245.7,730.5 L247.2,730.5 L248.6,730.5 L250.0,730.5 L251.7,730.5 L253.3,730.5 L255.0,730.5 L256.7,730.5 L258.3,730.5 L260.0,730.5 L261.7,730.5 L263.4,730.5 L265.1,730.5 L266.7,730.5 L268.4,730.5 L270.1,730.4 L271.8,730.4 L273.4,730.4 L275.1,730.4 L276.8,730.4 L278.4,730.4 L280.1,730.4 L281.7,730.4 L283.4,730.4 L285.0,730.4 L286.6,730.4 L288.2,730.4 L289.8,730.4 L291.4,730.4 L293.0,730.4 L294.6,730.4 L296.2,730.4 L297.7,730.4 L299.3,730.3 L300.8,730.3 L302.3,730.3 L303.8,730.3 L305.3,730.3 L306.8,730.3 L308.2,730.3 L309.7,730.3 L311.1,730.3 L312.5,730.3 L313.9,730.3 L315.3,730.3 L316.6,730.3 L317.9,730.3 L319.2,730.3 L320.5,730.3 L321.8,730.2 L323.0,730.2 L324.3,730.2 L325.5,730.2 L326.6,730.2 L327.8,730.2 L328.9,730.2 L330.0,730.2 L332.4,730.2 L334.7,730.2 L336.9,730.2 L339.0,730.1 L341.0,730.1 L342.8,730.1 L344.6,730.1 L346.3,730.1 L347.9,730.1 L349.4,730.0 L350.9,730.0 L352.2,730.0 L353.6,730.0 L354.9,730.0 L356.1,730.0 L357.3,729.9 L358.4,729.9 L359.6,729.9 L360.7,729.9 L361.8,729.9 L362.8,729.8 L363.9,729.8 L365.0,729.8 L367.3,729.8 L369.2,729.7 L370.9,729.7 L372.3,729.7 L373.5,729.7 L374.7,729.7 L375.9,729.6 L377.1,729.5 L378.4,729.4 L380.0,729.3 L381.4,729.1 L382.9,728.9 L384.5,728.7 L386.1,728.5 L387.7,728.3 L389.3,728.1 L390.9,727.7 L392.5,727.4 L394.1,727.2 L395.6,726.9 L397.1,726.6 L398.5,726.3 L400.3,725.9 L402.0,725.5 L403.6,725.4 L405.2,724.7 L406.8,724.4 L408.3,723.9 L409.8,723.7 L411.2,723.0 L412.6,722.7 L414.3,722.3 L415.9,721.6 L417.5,720.8 L419.0,720.3 L420.5,719.8 L422.0,719.2 L423.5,718.0 L424.9,717.6 L426.2,716.7 L427.6,715.9 L428.9,715.5 L430.3,714.8 L431.7,713.8 L433.0,713.5 L434.4,712.4 L435.8,711.9 L437.1,711.4 L438.5,710.1 L439.8,709.5 L441.2,708.6 L442.6,707.6 L443.9,706.6 L445.3,705.9 L446.5,704.9 L447.7,703.7 L448.9,703.1 L450.1,702.7 L451.4,701.3 L452.6,700.3 L453.8,699.1 L455.0,698.5 L456.2,697.0 L457.3,696.1 L458.4,695.3 L459.4,694.2 L460.5,692.6 L461.6,691.5 L462.7,690.3 L463.8,688.7 L464.8,688.4 L465.9,687.6 L467.0,686.5 L468.0,684.3 L469.0,683.3 L470.0,682.8 L471.0,680.7 L471.9,680.0 L472.9,678.8 L473.9,677.8 L474.9,676.9 L475.9,675.4 L476.9,674.6 L477.9,672.6 L478.9,671.2 L479.9,669.2 L480.9,668.4 L481.9,666.8 L482.9,665.6 L483.8,665.1 L484.8,663.4 L485.8,662.8 L486.8,660.3 L487.8,659.1 L488.8,658.1 L489.8,656.8 L490.8,655.3 L491.8,654.0 L492.8,652.4 L493.8,652.0 L494.8,650.7 L495.7,649.2 L496.7,647.3 L497.7,647.2 L498.7,644.9 L499.7,644.8 L500.6,643.2 L501.5,640.5 L502.4,641.1 L503.3,638.3 L504.2,636.7 L505.1,635.9 L506.0,635.7 L506.9,633.8 L507.8,632.7 L508.7,631.1 L509.6,629.1 L510.5,629.1 L511.4,627.8 L512.3,626.6 L513.2,624.4 L514.1,624.2 L515.0,622.3 L515.9,620.9 L516.9,618.5 L517.8,618.1 L518.7,616.4 L519.6,614.6 L520.5,613.6 L521.4,613.6 L522.3,612.5 L523.2,611.3 L524.1,609.7 L525.0,607.0 L525.9,606.9 L526.8,604.3 L527.8,603.2 L528.7,603.2 L529.6,601.1 L530.5,599.5 L531.4,598.9 L532.3,597.9 L533.3,595.8 L534.3,595.2 L535.3,592.7 L536.3,591.5 L537.3,591.7 L538.3,590.0 L539.2,587.3 L540.2,585.6 L541.2,586.9 L542.2,585.6 L543.2,582.5 L544.3,581.5 L545.4,579.5 L546.4,580.5 L547.5,579.7 L548.6,576.0 L549.7,577.0 L550.8,575.9 L551.8,574.3 L552.9,571.7 L554.0,570.7 L555.4,569.5 L556.7,568.7 L558.1,568.4 L559.4,568.5 L560.8,566.7 L562.2,567.2 L563.5,564.4 L564.9,564.9 L566.5,563.3 L568.1,562.0 L569.7,561.1 L571.3,560.2 L572.8,561.6 L574.4,560.2 L575.8,559.4 L577.7,558.2 L579.4,560.4 L581.1,559.6 L582.8,560.3 L584.5,558.5 L585.9,559.1 L587.3,561.3 L588.7,562.4 L590.2,560.9 L591.6,565.0 L593.2,564.7 L594.4,563.8 L595.7,567.8 L597.0,565.5 L598.3,566.8 L599.6,569.0 L601.0,570.4 L602.3,571.6 L603.7,571.8 L604.8,571.5 L605.9,575.0 L607.0,576.2 L608.1,577.9 L609.2,576.5 L610.3,580.0 L611.5,580.0 L612.6,579.5 L613.7,582.6 L614.8,582.4 L615.9,585.8 L617.0,587.0 L618.2,586.9 L619.3,587.1 L620.4,587.7 L621.6,589.1 L622.7,590.0 L623.8,591.3 L624.9,594.5 L625.9,595.3 L626.9,594.5 L627.9,597.9 L628.9,598.1 L629.8,600.9 L630.8,599.9 L631.7,600.9 L632.6,600.7 L633.5,605.4 L634.5,605.3 L635.4,605.5 L636.3,606.4 L637.1,607.1 L638.0,611.3 L638.9,610.7 L639.7,613.5 L640.6,614.5 L641.4,616.9 L642.3,617.2 L643.2,617.7 L644.0,618.1 L644.9,620.5 L645.7,621.7 L646.5,624.9 L647.3,623.6 L648.1,624.9 L648.9,627.4 L649.6,630.8 L650.4,629.2 L651.2,633.4 L652.0,634.2 L652.8,634.7 L653.6,637.0 L654.4,638.4 L655.3,638.7 L656.1,641.2 L657.0,640.8 L657.9,641.6 L658.7,644.5 L659.6,643.9 L660.4,646.2 L661.3,649.2 L662.2,648.0 L663.0,650.1 L663.9,650.5 L665.0,650.6 L666.0,653.8 L667.1,653.8 L668.2,655.5 L669.3,655.6 L670.4,655.8 L671.4,657.7 L672.4,662.5 L673.4,663.5 L674.3,661.3 L675.3,665.1 L676.2,664.8 L677.0,665.4 L677.9,669.7 L678.7,671.1 L679.6,671.6 L680.4,671.5 L681.3,672.0 L682.0,676.2 L682.6,678.4 L683.3,680.1 L684.0,681.5 L684.7,682.1 L685.4,683.3 L686.1,681.8 L686.8,686.5 L687.4,685.8 L688.0,689.6 L688.6,690.3 L689.2,692.9 L689.7,694.9 L690.2,692.9 L690.7,694.4 L691.2,695.0 L691.6,698.0 L692.1,698.4 L692.5,699.9 L692.9,703.7 L693.3,703.8 L693.7,704.7 L694.2,709.1 L694.6,707.6 L695.1,712.3 L695.6,712.4 L696.1,711.7 L696.6,716.8 L697.2,717.2 L697.7,718.0 L698.2,720.2 L698.8,722.7 L699.4,724.0 L700.0,723.2 L700.4,726.4 L700.8,727.5 L701.2,728.0 L701.7,729.5 L702.1,729.1 L702.5,734.3 L703.0,735.0 L703.5,733.4 L703.9,735.8 L704.4,740.8 L704.9,742.8 L705.4,741.0 L705.8,743.4 L706.3,744.7 L706.8,745.2 L707.2,748.6 L707.7,751.1 L708.2,749.3 L708.6,754.7 L709.1,756.9 L709.5,755.0 L710.0,755.3 L710.4,761.1 L710.9,760.6 L711.3,764.6 L711.8,764.5 L712.2,765.4 L712.7,765.0 L713.1,766.9 L713.6,769.2 L714.0,772.8 L714.5,772.4 L714.9,773.2 L715.4,775.6 L715.9,776.1 L716.3,777.9 L716.8,777.9 L717.2,781.0 L717.7,780.7 L718.1,786.8 L718.6,785.6 L719.1,789.2 L719.5,791.3 L720.0,789.3 L720.5,792.4 L720.9,792.1 L721.4,797.0 L721.8,794.8 L722.3,795.9 L722.7,801.8 L723.2,802.6 L723.7,804.4 L724.1,803.4 L724.5,804.6 L725.0,807.9 L725.4,809.0 L725.8,811.7 L726.2,810.1 L726.7,812.3 L727.1,814.4 L727.5,817.1 L728.0,817.6 L728.4,820.0 L728.9,823.0 L729.4,824.1 L729.9,825.2 L730.4,825.5 L730.9,827.4 L731.4,830.5 L731.9,828.8 L732.5,829.4 L733.0,833.8 L733.6,832.1 L734.1,837.0 L734.7,835.5 L735.3,837.4 L735.9,841.0 L736.5,843.0 L737.1,842.9 L737.7,842.6 L738.3,846.2 L738.9,846.8 L739.5,850.2 L740.0,849.7 L740.6,849.6 L741.2,851.4 L741.9,855.8 L742.6,854.3 L743.2,855.7 L743.9,856.5 L744.6,858.1 L745.3,860.7 L746.0,863.4 L746.6,865.2 L747.3,865.0 L748.0,868.7 L748.7,866.5 L749.4,868.9 L750.0,871.8 L750.7,872.7 L751.4,871.2 L752.3,875.4 L753.2,873.4 L754.1,875.2 L755.0,877.5 L756.0,880.4 L756.9,882.3 L757.8,884.5 L758.7,881.6 L759.5,882.3 L760.3,884.2 L761.1,885.7 L761.7,887.4 L762.8,890.8 L763.6,890.9 L764.3,893.0 L764.9,895.6 L765.4,893.8 L766.0,895.2 L766.5,898.1 L767.0,898.0 L767.5,900.2 L768.0,902.2 L768.4,904.1 L768.7,907.9 L769.0,908.3" fill="none" stroke="#ff0000" stroke-width="1.3" stroke-dasharray="6 3"/>
<path d="M154.0,730.6 L154.8,730.6 L155.6,730.6 L156.5,730.6 L157.4,730.6 L158.4,730.6 L159.4,730.6 L160.4,730.6 L161.5,730.6 L162.7,730.6 L163.8,730.6 L165.0,730.6 L166.3,730.6 L167.6,730.6 L168.9,730.6 L170.2,730.6 L171.6,730.6 L173.0,730.6 L174.5,730.6 L176.0,730.6 L177.4,730.6 L179.0,730.6 L180.5,730.6 L182.1,730.6 L183.7,730.6 L185.3,730.6 L186.9,730.6 L188.6,730.6 L190.2,730.6 L191.9,730.6 L193.6,730.6 L195.3,730.6 L197.0,730.6 L198.7,730.6 L200.5,730.6 L202.2,730.6 L203.9,730.6 L205.7,730.6 L207.4,730.6 L209.2,730.6 L211.0,730.6 L212.7,730.6 L214.5,730.6 L216.2,730.6 L218.0,730.5 L219.7,730.5 L221.4,730.5 L223.2,730.5 L224.9,730.5 L226.6,730.5 L228.3,730.5 L230.0,730.5 L231.6,730.5 L233.3,730.5 L234.9,730.5 L236.5,730.5 L238.1,730.5 L239.7,730.5 L241.2,730.5 L242.8,730.5 L244.3,730.5 L245.7,730.5 L247.2,730.5 L248.6,730.5 L250.0,730.5 L251.7,730.5 L253.3,730.5 L255.0,730.5 L256.7,730.5 L258.3,730.5 L260.0,730.5 L261.7,730.5 L263.4,730.5 L265.1,730.5 L266.7,730.5 L268.4,730.5 L270.1,730.4 L271.8,730.4 L273.4,730.4 L275.1,730.4 L276.8,730.4 L278.4,730.4 L280.1,730.4 L281.7,730.4 L283.4,730.4 L285.0,730.4 L286.6,730.4 L288.2,730.4 L289.8,730.4 L291.4,730.4 L293.0,730.4 L294.6,730.4 L296.2,730.4 L297.7,730.4 L299.3,730.3 L300.8,730.3 L302.3,730.3 L303.8,730.3 L305.3,730.3 L306.8,730.3 L308.2,730.3 L309.7,730.3 L311.1,730.3 L312.5,730.3 L313.9,730.3 L315.3,730.3 L316.6,730.3 L317.9,730.3 L319.2,730.3 L320.5,730.3 L321.8,730.2 L323.0,730.2 L324.3,730.2 L325.5,730.2 L326.6,730.2 L327.8,730.2 L328.9,730.2 L330.0,730.2 L332.4,730.2 L334.7,730.2 L336.9,730.2 L339.0,730.1 L341.0,730.1 L342.8,730.1 L344.6,730.1 L346.3,730.1 L347.9,730.1 L349.4,730.0 L350.9,730.0 L352.2,730.0 L353.6,730.0 L354.9,730.0 L356.1,730.0 L357.3,729.9 L358.4,729.9 L359.6,729.9 L360.7,729.9 L361.8,729.9 L362.8,729.8 L363.9,729.8 L365.0,729.8 L367.3,729.8 L369.2,729.7 L370.9,729.7 L372.3,729.7 L373.5,729.7 L374.7,729.7 L375.9,729.6 L377.1,729.5 L378.4,729.4 L380.0,729.3 L381.4,729.2 L382.9,729.0 L384.5,728.9 L386.1,728.8 L387.7,728.6 L389.3,728.3 L390.9,728.2 L392.5,727.9 L394.1,727.6 L395.6,727.5 L397.1,727.3 L398.5,727.1 L400.3,726.7 L402.0,726.4 L403.6,726.2 L405.2,725.7 L406.8,725.6 L408.3,725.0 L409.8,724.6 L411.2,724.3 L412.6,724.1 L414.3,723.7 L415.9,723.1 L417.5,722.1 L419.0,722.1 L420.5,721.3 L422.0,720.3 L423.5,719.7 L424.9,719.0 L426.2,718.5 L427.6,717.9 L428.9,717.6 L430.3,716.6 L431.7,715.8 L433.0,715.1 L434.4,714.7 L435.8,714.0 L437.1,713.4 L438.5,712.5 L439.8,712.1 L441.2,710.7 L442.6,710.0 L443.9,709.7 L445.3,708.2 L446.5,707.1 L447.7,706.8 L448.9,705.6 L450.1,704.3 L451.4,703.9 L452.6,703.3 L453.8,701.8 L455.0,700.9 L456.2,699.4 L457.3,699.1 L458.4,698.1 L459.4,696.6 L460.5,696.5 L461.6,694.4 L462.7,693.1 L463.8,692.0 L464.8,691.6 L465.9,690.3 L467.0,688.6 L468.0,688.8 L469.0,686.8 L470.0,686.1 L471.0,685.2 L471.9,683.1 L472.9,683.1 L473.9,680.5 L474.9,679.4 L475.9,679.1 L476.9,677.0 L477.9,676.1 L478.9,675.6 L479.9,673.6 L480.9,672.8 L481.9,671.4 L482.9,670.0 L483.8,669.0 L484.8,668.2 L485.8,667.0 L486.8,665.3 L487.8,663.5 L488.8,661.9 L489.8,661.6 L490.8,660.3 L491.8,658.5 L492.8,658.3 L493.8,656.4 L494.8,654.0 L495.7,653.6 L496.7,652.0 L497.7,650.2 L498.7,649.1 L499.7,649.3 L500.6,646.6 L501.5,646.4 L502.4,645.0 L503.3,643.9 L504.2,643.3 L505.1,640.7 L506.0,640.4 L506.9,639.3 L507.8,638.1 L508.7,635.5 L509.6,634.5 L510.5,632.8 L511.4,632.2 L512.3,630.0 L513.2,629.8 L514.1,628.7 L515.0,627.0 L515.9,625.4 L516.9,625.7 L517.8,622.6 L518.7,622.5 L519.6,620.0 L520.5,620.1 L521.4,617.3 L522.3,616.1 L523.2,616.4 L524.1,614.9 L525.0,612.3 L525.9,613.3 L526.8,610.6 L527.8,610.5 L528.7,607.4 L529.6,607.7 L530.5,606.1 L531.4,603.7 L532.3,603.0 L533.3,601.7 L534.3,600.4 L535.3,599.7 L536.3,597.5 L537.3,597.8 L538.3,594.5 L539.2,593.1 L540.2,591.9 L541.2,591.3 L542.2,590.0 L543.2,589.9 L544.3,589.1 L545.4,586.8 L546.4,587.2 L547.5,585.2 L548.6,584.0 L549.7,582.7 L550.8,583.1 L551.8,582.0 L552.9,581.1 L554.0,578.3 L555.4,578.7 L556.7,577.4 L558.1,575.5 L559.4,573.9 L560.8,573.7 L562.2,572.3 L563.5,571.1 L564.9,572.4 L566.5,571.6 L568.1,570.6 L569.7,569.3 L571.3,567.2 L572.8,567.2 L574.4,567.7 L575.8,566.0 L577.7,566.1 L579.4,568.2 L581.1,567.4 L582.8,566.3 L584.5,566.2 L585.9,569.4 L587.3,566.9 L588.7,570.0 L590.2,571.3 L591.6,569.7 L593.2,572.4 L594.4,574.7 L595.7,575.2 L597.0,573.8 L598.3,575.1 L599.6,576.2 L601.0,578.3 L602.3,580.7 L603.7,581.9 L604.8,580.9 L605.9,583.3 L607.0,585.2 L608.1,586.3 L609.2,586.3 L610.3,586.1 L611.5,586.7 L612.6,588.1 L613.7,589.0 L614.8,591.6 L615.9,591.1 L617.0,592.6 L618.2,595.4 L619.3,597.5 L620.4,596.2 L621.6,598.6 L622.7,601.2 L623.8,601.6 L624.9,602.2 L625.9,601.9 L626.9,606.1 L627.9,606.2 L628.9,605.4 L629.8,609.3 L630.8,608.8 L631.7,609.2 L632.6,610.3 L633.5,613.9 L634.5,616.5 L635.4,617.8 L636.3,618.5 L637.1,617.9 L638.0,618.2 L638.9,622.0 L639.7,622.1 L640.6,625.2 L641.4,624.8 L642.3,627.7 L643.2,627.9 L644.0,628.7 L644.9,629.9 L645.7,631.7 L646.5,632.4 L647.3,632.7 L648.1,634.5 L648.9,635.3 L649.6,637.0 L650.4,640.5 L651.2,642.4 L652.0,640.5 L652.8,645.7 L653.6,644.8 L654.4,644.6 L655.3,648.3 L656.1,649.7 L657.0,652.3 L657.9,651.8 L658.7,650.8 L659.6,652.0 L660.4,654.5 L661.3,656.7 L662.2,658.9 L663.0,659.9 L663.9,658.2 L665.0,660.0 L666.0,661.0 L667.1,664.7 L668.2,663.7 L669.3,669.2 L670.4,668.4 L671.4,670.1 L672.4,670.6 L673.4,670.7 L674.3,674.4 L675.3,673.6 L676.2,674.1 L677.0,679.2 L677.9,678.0 L678.7,679.1 L679.6,681.1 L680.4,681.1 L681.3,682.3 L682.0,685.0 L682.6,687.4 L683.3,686.9 L684.0,689.1 L684.7,692.1 L685.4,694.5 L686.1,692.1 L686.8,694.1 L687.4,696.2 L688.0,696.4 L688.6,699.5 L689.2,699.8 L689.7,705.9 L690.2,706.1 L690.7,707.5 L691.2,707.9 L691.6,708.5 L692.1,709.2 L692.5,711.2 L692.9,716.4 L693.3,716.3 L693.7,715.5 L694.2,717.6 L694.6,719.8 L695.1,723.6 L695.6,721.0 L696.1,727.0 L696.6,725.2 L697.2,725.8 L697.7,728.2 L698.2,729.4 L698.8,732.4 L699.4,733.3 L700.0,736.9 L700.4,735.1 L700.8,736.6 L701.2,740.1 L701.7,740.0 L702.1,740.4 L702.5,744.6 L703.0,747.8 L703.5,747.8 L703.9,746.6 L704.4,748.6 L704.9,753.1 L705.4,754.3 L705.8,754.9 L706.3,754.4 L706.8,758.0 L707.2,759.2 L707.7,763.4 L708.2,764.5 L708.6,765.4 L709.1,767.0 L709.5,766.0 L710.0,767.9 L710.4,769.7 L710.9,770.4 L711.3,771.8 L711.8,774.3 L712.2,776.6 L712.7,776.4 L713.1,780.8 L713.6,781.3 L714.0,785.0 L714.5,783.4 L714.9,788.3 L715.4,788.4 L715.9,789.8 L716.3,790.7 L716.8,793.0 L717.2,794.8 L717.7,795.1 L718.1,795.3 L718.6,799.6 L719.1,800.7 L719.5,801.7 L720.0,800.5 L720.5,804.7 L720.9,807.0 L721.4,809.3 L721.8,809.5 L722.3,809.7 L722.7,810.0 L723.2,814.7 L723.7,812.7 L724.1,818.6 L724.5,817.8 L725.0,819.0 L725.4,823.2 L725.8,823.4 L726.2,824.1 L726.7,825.4 L727.1,826.9 L727.5,830.4 L728.0,828.7 L728.4,829.1 L728.9,831.9 L729.4,836.8 L729.9,835.1 L730.4,835.5 L730.9,838.5 L731.4,843.0 L731.9,842.3 L732.5,841.0 L733.0,844.1 L733.6,845.2 L734.1,850.2 L734.7,849.8 L735.3,850.0 L735.9,851.2 L736.5,852.2 L737.1,853.8 L737.7,857.6 L738.3,857.3 L738.9,858.4 L739.5,859.9 L740.0,864.4 L740.6,862.1 L741.2,866.6 L741.9,866.3 L742.6,868.0 L743.2,871.9 L743.9,869.9 L744.6,870.3 L745.3,873.0 L746.0,877.5 L746.6,874.5 L747.3,876.8 L748.0,877.7 L748.7,879.2 L749.4,880.8 L750.0,883.3 L750.7,883.4 L751.4,884.0 L752.3,885.9 L753.2,889.7 L754.1,890.8 L755.0,890.8 L756.0,892.7 L756.9,895.1 L757.8,895.7 L758.7,897.0 L759.5,900.6 L760.3,898.2 L761.1,902.8 L761.7,900.9 L762.8,904.4 L763.6,902.5 L764.3,904.5 L764.9,905.1 L765.4,908.8 L766.0,908.8 L766.5,911.9 L767.0,912.9 L767.5,912.7 L768.0,917.7 L768.4,917.9 L768.7,921.2 L769.0,920.9" fill="none" stroke="#ff0000" stroke-width="1.3" stroke-dasharray="6 3"/>
<path d="M154.0,730.6 L154.8,730.6 L155.6,730.6 L156.5,730.6 L157.4,730.6 L158.4,730.6 L159.4,730.6 L160.4,730.6 L161.5,730.6 L162.7,730.6 L163.8,730.6 L165.0,730.6 L166.3,730.6 L167.6,730.6 L168.9,730.6 L170.2,730.6 L171.6,730.6 L173.0,730.6 L174.5,730.6 L176.0,730.6 L177.4,730.6 L179.0,730.6 L180.5,730.6 L182.1,730.6 L183.7,730.6 L185.3,730.6 L186.9,730.6 L188.6,730.6 L190.2,730.6 L191.9,730.6 L193.6,730.6 L195.3,730.6 L197.0,730.6 L198.7,730.6 L200.5,730.6 L202.2,730.6 L203.9,730.6 L205.7,730.6 L207.4,730.6 L209.2,730.6 L211.0,730.6 L212.7,730.6 L214.5,730.6 L216.2,730.6 L218.0,730.5 L219.7,730.5 L221.4,730.5 L223.2,730.5 L224.9,730.5 L226.6,730.5 L228.3,730.5 L230.0,730.5 L231.6,730.5 L233.3,730.5 L234.9,730.5 L236.5,730.5 L238.1,730.5 L239.7,730.5 L241.2,730.5 L242.8,730.5 L244.3,730.5 L245.7,730.5 L247.2,730.5 L248.6,730.5 L250.0,730.5 L251.7,730.5 L253.3,730.5 L255.0,730.5 L256.7,730.5 L258.3,730.5 L260.0,730.5 L261.7,730.5 L263.4,730.5 L265.1,730.5 L266.7,730.5 L268.4,730.5 L270.1,730.4 L271.8,730.4 L273.4,730.4 L275.1,730.4 L276.8,730.4 L278.4,730.4 L280.1,730.4 L281.7,730.4 L283.4,730.4 L285.0,730.4 L286.6,730.4 L288.2,730.4 L289.8,730.4 L291.4,730.4 L293.0,730.4 L294.6,730.4 L296.2,730.4 L297.7,730.4 L299.3,730.3 L300.8,730.3 L302.3,730.3 L303.8,730.3 L305.3,730.3 L306.8,730.3 L308.2,730.3 L309.7,730.3 L311.1,730.3 L312.5,730.3 L313.9,730.3 L315.3,730.3 L316.6,730.3 L317.9,730.3 L319.2,730.3 L320.5,730.3 L321.8,730.2 L323.0,730.2 L324.3,730.2 L325.5,730.2 L326.6,730.2 L327.8,730.2 L328.9,730.2 L330.0,730.2 L332.4,730.2 L334.7,730.2 L336.9,730.2 L339.0,730.1 L341.0,730.1 L342.8,730.1 L344.6,730.1 L346.3,730.1 L347.9,730.1 L349.4,730.0 L350.9,730.0 L352.2,730.0 L353.6,730.0 L354.9,730.0 L356.1,730.0 L357.3,729.9 L358.4,729.9 L359.6,729.9 L360.7,729.9 L361.8,729.9 L362.8,729.8 L363.9,729.8 L365.0,729.8 L367.3,729.8 L369.2,729.7 L370.9,729.7 L372.3,729.7 L373.5,729.7 L374.7,729.7 L375.9,729.6 L377.1,729.5 L378.4,729.4 L380.0,729.3 L381.4,729.2 L382.9,729.0 L384.5,728.8 L386.1,728.6 L387.7,728.4 L389.3,728.1 L390.9,727.9 L392.5,727.6 L394.1,727.4 L395.6,727.2 L397.1,727.0 L398.5,726.8 L400.3,726.5 L402.0,726.2 L403.6,725.6 L405.2,725.5 L406.8,725.0 L408.3,724.6 L409.8,724.2 L411.2,723.7 L412.6,723.3 L414.3,723.0 L415.9,722.2 L417.5,721.9 L419.0,720.8 L420.5,720.2 L422.0,720.0 L423.5,719.3 L424.9,718.4 L426.2,717.7 L427.6,716.9 L428.9,716.3 L430.3,715.9 L431.7,715.2 L433.0,714.0 L434.4,713.4 L435.8,713.0 L437.1,711.8 L438.5,711.2 L439.8,710.2 L441.2,709.6 L442.6,709.3 L443.9,708.2 L445.3,707.0 L446.5,706.3 L447.7,705.8 L448.9,704.6 L450.1,703.5 L451.4,703.0 L452.6,701.7 L453.8,701.1 L455.0,699.3 L456.2,697.9 L457.3,697.2 L458.4,696.4 L459.4,696.0 L460.5,694.7 L461.6,693.4 L462.7,692.6 L463.8,691.4 L464.8,689.2 L465.9,688.7 L467.0,687.1 L468.0,685.8 L469.0,685.2 L470.0,683.9 L471.0,682.6 L471.9,681.9 L472.9,681.3 L473.9,679.7 L474.9,678.8 L475.9,676.3 L476.9,675.2 L477.9,674.6 L478.9,673.5 L479.9,672.4 L480.9,670.8 L481.9,668.6 L482.9,667.6 L483.8,667.0 L484.8,665.5 L485.8,664.8 L486.8,663.2 L487.8,661.2 L488.8,659.5 L489.8,658.5 L490.8,658.0 L491.8,656.3 L492.8,654.8 L493.8,654.1 L494.8,652.7 L495.7,650.6 L496.7,649.2 L497.7,649.7 L498.7,647.3 L499.7,645.8 L500.6,644.5 L501.5,644.0 L502.4,642.7 L503.3,642.0 L504.2,639.4 L505.1,637.7 L506.0,636.8 L506.9,635.9 L507.8,633.9 L508.7,633.8 L509.6,631.6 L510.5,630.5 L511.4,628.9 L512.3,627.6 L513.2,626.9 L514.1,625.3 L515.0,624.2 L515.9,623.5 L516.9,622.9 L517.8,620.6 L518.7,619.5 L519.6,618.7 L520.5,617.9 L521.4,616.2 L522.3,614.7 L523.2,612.0 L524.1,612.4 L525.0,609.9 L525.9,609.7 L526.8,607.4 L527.8,607.8 L528.7,605.8 L529.6,605.0 L530.5,601.9 L531.4,601.2 L532.3,599.9 L533.3,600.4 L534.3,597.6 L535.3,597.7 L536.3,596.1 L537.3,593.9 L538.3,593.5 L539.2,592.3 L540.2,590.0 L541.2,587.9 L542.2,588.5 L543.2,585.3 L544.3,585.7 L545.4,582.8 L546.4,583.2 L547.5,582.8 L548.6,580.4 L549.7,580.6 L550.8,578.8 L551.8,578.0 L552.9,577.8 L554.0,574.9 L555.4,573.3 L556.7,572.9 L558.1,571.4 L559.4,570.8 L560.8,571.3 L562.2,569.0 L563.5,568.4 L564.9,566.5 L566.5,566.5 L568.1,564.9 L569.7,564.8 L571.3,564.2 L572.8,565.9 L574.4,562.7 L575.8,564.9 L577.7,564.3 L579.4,562.0 L581.1,562.5 L582.8,563.0 L584.5,564.3 L585.9,562.9 L587.3,563.8 L588.7,566.8 L590.2,568.1 L591.6,566.1 L593.2,567.8 L594.4,570.4 L595.7,568.5 L597.0,569.4 L598.3,570.6 L599.6,573.2 L601.0,575.9 L602.3,576.4 L603.7,577.6 L604.8,577.8 L605.9,579.1 L607.0,580.5 L608.1,579.7 L609.2,582.9 L610.3,584.3 L611.5,582.3 L612.6,585.3 L613.7,587.8 L614.8,587.6 L615.9,589.6 L617.0,587.8 L618.2,592.0 L619.3,592.4 L620.4,594.7 L621.6,593.7 L622.7,596.8 L623.8,595.3 L624.9,598.1 L625.9,597.7 L626.9,597.7 L627.9,598.9 L628.9,602.8 L629.8,603.3 L630.8,604.3 L631.7,605.4 L632.6,609.0 L633.5,609.0 L634.5,608.4 L635.4,612.8 L636.3,614.5 L637.1,612.4 L638.0,617.0 L638.9,617.7 L639.7,617.6 L640.6,619.4 L641.4,620.0 L642.3,619.6 L643.2,622.4 L644.0,623.0 L644.9,623.7 L645.7,626.5 L646.5,629.2 L647.3,630.1 L648.1,630.6 L648.9,632.7 L649.6,633.7 L650.4,635.7 L651.2,638.0 L652.0,636.4 L652.8,640.2 L653.6,639.5 L654.4,639.4 L655.3,643.3 L656.1,644.7 L657.0,643.3 L657.9,648.1 L658.7,649.2 L659.6,648.3 L660.4,651.3 L661.3,652.3 L662.2,651.7 L663.0,652.8 L663.9,653.2 L665.0,657.2 L666.0,657.8 L667.1,660.7 L668.2,660.8 L669.3,659.6 L670.4,663.5 L671.4,664.2 L672.4,667.4 L673.4,668.5 L674.3,667.9 L675.3,671.2 L676.2,671.9 L677.0,671.5 L677.9,670.8 L678.7,672.2 L679.6,674.2 L680.4,677.3 L681.3,681.1 L682.0,680.3 L682.6,684.0 L683.3,685.1 L684.0,683.4 L684.7,688.3 L685.4,688.4 L686.1,689.7 L686.8,688.7 L687.4,689.6 L688.0,695.2 L688.6,694.5 L689.2,698.9 L689.7,697.1 L690.2,697.9 L690.7,700.8 L691.2,703.7 L691.6,704.6 L692.1,707.9 L692.5,707.3 L692.9,708.5 L693.3,709.3 L693.7,711.8 L694.2,714.5 L694.6,713.4 L695.1,718.5 L695.6,719.3 L696.1,717.5 L696.6,720.3 L697.2,720.3 L697.7,725.2 L698.2,724.0 L698.8,725.3 L699.4,726.1 L700.0,728.6 L700.4,729.7 L700.8,732.0 L701.2,731.6 L701.7,733.1 L702.1,737.8 L702.5,736.0 L703.0,741.2 L703.5,740.4 L703.9,741.5 L704.4,745.5 L704.9,745.4 L705.4,750.4 L705.8,747.0 L706.3,749.8 L706.8,754.5 L707.2,752.8 L707.7,757.5 L708.2,757.7 L708.6,757.5 L709.1,759.0 L709.5,761.8 L710.0,761.2 L710.4,763.5 L710.9,768.8 L711.3,765.7 L711.8,769.8 L712.2,769.2 L712.7,772.2 L713.1,773.5 L713.6,775.8 L714.0,778.0 L714.5,778.5 L714.9,780.0 L715.4,782.1 L715.9,784.3 L716.3,785.8 L716.8,786.9 L717.2,786.9 L717.7,787.6 L718.1,789.3 L718.6,793.7 L719.1,795.0 L719.5,797.2 L720.0,798.6 L720.5,799.7 L720.9,797.2 L721.4,799.5 L721.8,803.9 L722.3,806.3 L722.7,803.6 L723.2,808.9 L723.7,811.0 L724.1,811.6 L724.5,810.9 L725.0,812.8 L725.4,814.4 L725.8,816.0 L726.2,816.9 L726.7,819.1 L727.1,820.4 L727.5,824.4 L728.0,825.0 L728.4,826.3 L728.9,824.9 L729.4,825.9 L729.9,830.7 L730.4,830.7 L730.9,831.9 L731.4,835.1 L731.9,838.1 L732.5,836.6 L733.0,838.1 L733.6,839.9 L734.1,843.6 L734.7,843.3 L735.3,843.3 L735.9,847.2 L736.5,849.3 L737.1,846.9 L737.7,853.0 L738.3,849.8 L738.9,852.1 L739.5,855.6 L740.0,855.5 L740.6,855.4 L741.2,860.7 L741.9,862.1 L742.6,861.0 L743.2,865.0 L743.9,866.4 L744.6,866.9 L745.3,866.8 L746.0,869.4 L746.6,871.1 L747.3,872.4 L748.0,870.5 L748.7,872.4 L749.4,876.0 L750.0,876.7 L750.7,880.3 L751.4,879.3 L752.3,878.7 L753.2,884.3 L754.1,882.6 L755.0,886.0 L756.0,884.6 L756.9,889.9 L757.8,890.7 L758.7,890.5 L759.5,890.6 L760.3,890.2 L761.1,895.5 L761.7,895.3 L762.8,896.5 L763.6,896.1 L764.3,897.1 L764.9,899.2 L765.4,900.7 L766.0,904.2 L766.5,906.2 L767.0,908.6 L767.5,908.5 L768.0,908.9 L768.4,913.7 L768.7,913.1 L769.0,912.0" fill="none" stroke="#ff0000" stroke-width="1.4"/>
<path d="M1234.0,588.5 L1234.8,588.5 L1235.6,588.5 L1236.6,588.5 L1237.5,588.5 L1238.6,588.5 L1239.7,588.5 L1240.9,588.5 L1242.1,588.5 L1243.3,588.5 L1244.6,588.4 L1246.0,588.4 L1247.4,588.4 L1248.8,588.4 L1250.3,588.4 L1251.8,588.4 L1253.4,588.4 L1255.0,588.4 L1256.6,588.4 L1258.2,588.4 L1259.9,588.4 L1261.6,588.4 L1263.2,588.4 L1265.0,588.3 L1266.7,588.3 L1268.4,588.3 L1270.2,588.3 L1271.9,588.3 L1273.7,588.3 L1275.4,588.3 L1277.2,588.3 L1278.9,588.3 L1280.6,588.3 L1282.4,588.3 L1284.1,588.3 L1285.8,588.2 L1287.5,588.2 L1289.1,588.2 L1290.8,588.2 L1292.4,588.2 L1294.0,588.2 L1295.5,588.2 L1297.1,588.2 L1298.5,588.2 L1300.0,588.2 L1301.6,588.2 L1303.2,588.2 L1304.8,588.2 L1306.4,588.2 L1308.0,588.2 L1309.6,588.2 L1311.2,588.2 L1312.8,588.2 L1314.4,588.1 L1316.0,588.1 L1317.7,588.1 L1319.3,588.1 L1320.9,588.1 L1322.5,588.1 L1324.1,588.1 L1325.7,588.1 L1327.3,588.1 L1328.9,588.1 L1330.5,588.1 L1332.0,588.1 L1333.6,588.1 L1335.1,588.1 L1336.7,588.1 L1338.2,588.0 L1339.7,588.0 L1341.2,588.0 L1342.7,588.0 L1344.1,588.1 L1345.6,588.1 L1347.0,588.1 L1348.4,588.1 L1349.8,588.1 L1351.2,588.1 L1352.5,588.1 L1353.8,588.1 L1355.1,588.1 L1356.4,588.1 L1357.6,588.2 L1358.8,588.2 L1360.0,588.2 L1362.1,588.2 L1364.1,588.3 L1366.1,588.4 L1368.0,588.4 L1369.9,588.5 L1371.7,588.6 L1373.4,588.7 L1375.1,588.8 L1376.7,588.9 L1378.3,589.0 L1379.9,589.1 L1381.3,589.2 L1382.8,589.2 L1384.1,589.3 L1385.5,589.4 L1386.8,589.5 L1388.0,589.6 L1389.2,589.7 L1390.3,589.8 L1391.4,589.8 L1392.5,589.9 L1393.5,589.9 L1396.4,590.1 L1398.3,590.3 L1399.4,590.5 L1400.4,590.6 L1401.7,590.8 L1403.8,591.2 L1405.0,591.3 L1406.2,591.5 L1407.6,591.7 L1409.0,591.9 L1410.5,592.0 L1412.0,592.4 L1413.5,592.5 L1415.1,592.7 L1416.7,592.9 L1418.4,593.2 L1420.0,593.6 L1421.5,593.8 L1423.1,594.1 L1424.6,594.5 L1426.1,594.9 L1427.6,595.2 L1429.1,595.5 L1430.5,596.1 L1432.0,596.4 L1433.5,596.8 L1435.0,597.1 L1436.5,597.6 L1438.0,598.3 L1439.5,598.5 L1440.9,599.0 L1442.4,599.7 L1443.9,600.0 L1445.4,600.5 L1446.9,601.1 L1448.4,601.6 L1449.8,602.0 L1451.3,602.5 L1452.8,603.2 L1454.3,603.8 L1455.8,604.2 L1457.2,604.7 L1458.7,605.2 L1460.2,606.1 L1461.7,606.5 L1463.1,607.4 L1464.6,608.0 L1466.1,608.8 L1467.4,609.2 L1468.7,610.2 L1470.0,610.8 L1471.3,611.2 L1472.6,612.1 L1473.9,612.7 L1475.2,613.4 L1476.5,614.3 L1477.8,615.2 L1479.1,616.1 L1480.4,616.9 L1481.7,617.5 L1483.0,618.4 L1484.3,619.1 L1485.6,620.2 L1486.9,620.9 L1488.2,621.9 L1489.5,622.8 L1490.8,623.6 L1492.1,624.1 L1493.4,624.9 L1494.7,626.0 L1496.0,627.0 L1497.3,627.8 L1498.6,628.6 L1499.9,629.5 L1501.2,630.2 L1502.5,631.6 L1503.8,632.5 L1505.1,633.4 L1506.4,634.2 L1507.7,635.4 L1508.9,636.1 L1510.1,637.4 L1511.3,638.1 L1512.5,639.1 L1513.7,640.6 L1515.0,641.7 L1516.2,642.7 L1517.5,643.6 L1518.7,644.6 L1519.9,645.6 L1521.1,646.8 L1522.3,647.8 L1523.4,649.1 L1524.5,649.9 L1525.6,651.1 L1526.6,652.4 L1527.6,652.7 L1528.5,653.5 L1530.0,655.3 L1531.4,656.4 L1532.6,657.6 L1533.7,658.6 L1534.7,659.8 L1535.7,660.5 L1536.7,661.7 L1537.7,663.1 L1538.8,663.6 L1540.0,665.2 L1541.0,666.1 L1541.9,667.6 L1542.9,668.1 L1544.0,669.6 L1545.0,670.8 L1546.0,671.8 L1547.1,672.7 L1548.1,674.0 L1549.1,675.4 L1550.2,676.1 L1551.2,677.5 L1552.3,678.3 L1553.3,680.2 L1554.4,680.9 L1555.5,682.4 L1556.6,682.7 L1557.8,684.1 L1558.9,685.7 L1560.0,686.2 L1561.1,687.2 L1562.2,688.5 L1563.4,689.4 L1564.5,690.4 L1565.6,692.2 L1566.7,692.7 L1567.7,694.4 L1568.8,694.8 L1569.8,695.8 L1570.8,697.7 L1571.8,698.9 L1572.8,699.3 L1573.9,700.3 L1574.9,701.7 L1575.9,702.5 L1576.9,704.6 L1577.9,705.0 L1579.0,706.7 L1580.0,707.5 L1581.0,708.3 L1582.1,709.3 L1583.1,711.2 L1584.1,711.6 L1585.2,713.4 L1586.2,714.0 L1587.2,715.1 L1588.2,716.3 L1589.3,718.1 L1590.3,718.2 L1591.3,720.3 L1592.4,720.7 L1593.4,722.6 L1594.4,723.5 L1595.5,724.5 L1596.5,725.3 L1597.5,726.3 L1598.5,727.2 L1599.5,728.6 L1600.6,730.5 L1601.6,730.6 L1602.6,732.1 L1603.6,733.5 L1604.6,734.8 L1605.7,735.9 L1606.7,736.5 L1607.7,737.5 L1608.8,739.3 L1609.8,739.9 L1610.8,740.8 L1611.9,742.8 L1612.9,743.7 L1613.9,743.8 L1614.9,745.1 L1616.0,747.1 L1617.0,747.7 L1618.0,749.4 L1619.1,750.1 L1620.1,750.7 L1621.1,752.4 L1622.2,752.9 L1623.2,754.3 L1624.2,756.3 L1625.2,756.7 L1626.2,758.5 L1627.3,759.9 L1628.3,760.6 L1629.3,762.2 L1630.3,763.8 L1631.3,764.2 L1632.4,765.2 L1633.4,767.4 L1634.4,768.2 L1635.5,769.5 L1636.5,770.2 L1637.5,771.9 L1638.6,773.2 L1639.6,774.4 L1640.6,775.2 L1641.6,777.5 L1642.7,778.6 L1643.7,779.5 L1644.7,780.9 L1645.8,782.2 L1646.8,782.6 L1647.8,784.1 L1648.9,785.7 L1649.9,786.8 L1650.9,788.3 L1651.9,789.2 L1652.9,790.2 L1654.0,791.8 L1655.0,792.1 L1656.0,793.6 L1657.0,795.2 L1658.0,795.9 L1659.1,797.1 L1660.1,798.2 L1661.1,800.4 L1662.2,800.7 L1663.2,803.2 L1664.2,804.6 L1665.3,804.7 L1666.3,807.0 L1667.3,808.0 L1668.3,808.6 L1669.4,810.6 L1670.4,810.8 L1671.4,812.0 L1672.5,813.4 L1673.5,814.3 L1674.6,816.5 L1675.7,816.5 L1676.8,818.0 L1677.9,819.4 L1679.0,821.1 L1680.1,821.9 L1681.3,822.6 L1682.4,823.4 L1683.5,823.9 L1684.6,825.9 L1685.7,827.0 L1686.8,827.2 L1687.8,828.9 L1688.9,829.5 L1689.9,830.5 L1690.9,831.8 L1692.0,833.7 L1693.0,834.9 L1694.0,836.6 L1695.0,836.4 L1696.1,838.6 L1697.1,838.5 L1698.1,840.2 L1699.2,842.2 L1700.2,843.1 L1701.4,843.5 L1702.6,845.3 L1703.8,846.7 L1705.0,847.3 L1706.2,848.7 L1707.5,849.0 L1708.7,850.8 L1709.9,851.9 L1711.1,852.8 L1712.3,852.8 L1713.5,854.2 L1714.7,856.1 L1715.9,856.6 L1717.2,857.5 L1718.4,859.2 L1719.6,858.7 L1720.8,860.8 L1722.0,861.1 L1723.2,861.9 L1724.5,863.6 L1725.7,864.2 L1726.9,865.8 L1728.1,866.3 L1729.3,867.3 L1730.5,867.5 L1731.7,869.8 L1732.9,869.3 L1734.2,871.3 L1735.4,871.3 L1736.6,873.5 L1737.8,873.3 L1739.0,875.6 L1740.2,875.3 L1741.4,877.4 L1742.6,878.2 L1743.9,878.4 L1745.1,879.8 L1746.3,880.8 L1747.5,882.1 L1748.7,883.3 L1749.9,883.5 L1751.2,885.6 L1752.4,886.0 L1753.6,885.9 L1755.1,886.5 L1756.7,888.6 L1758.2,888.2 L1759.8,888.6 L1761.4,888.5 L1762.9,888.6 L1764.3,888.5 L1765.7,889.6 L1766.9,889.4 L1768.8,888.6 L1770.5,888.5 L1772.0,886.6 L1773.4,886.2 L1774.9,886.5 L1776.0,887.8 L1777.1,888.3 L1778.3,890.4 L1779.4,891.7 L1780.5,892.9 L1781.5,894.6 L1782.3,896.7 L1782.9,896.7" fill="none" stroke="#0000ff" stroke-width="1.3" stroke-dasharray="6 3"/>
<path d="M1234.0,588.5 L1234.8,588.5 L1235.6,588.5 L1236.6,588.5 L1237.5,588.5 L1238.6,588.5 L1239.7,588.5 L1240.9,588.5 L1242.1,588.5 L1243.3,588.5 L1244.6,588.4 L1246.0,588.4 L1247.4,588.4 L1248.8,588.4 L1250.3,588.4 L1251.8,588.4 L1253.4,588.4 L1255.0,588.4 L1256.6,588.4 L1258.2,588.4 L1259.9,588.4 L1261.6,588.4 L1263.2,588.4 L1265.0,588.3 L1266.7,588.3 L1268.4,588.3 L1270.2,588.3 L1271.9,588.3 L1273.7,588.3 L1275.4,588.3 L1277.2,588.3 L1278.9,588.3 L1280.6,588.3 L1282.4,588.3 L1284.1,588.3 L1285.8,588.2 L1287.5,588.2 L1289.1,588.2 L1290.8,588.2 L1292.4,588.2 L1294.0,588.2 L1295.5,588.2 L1297.1,588.2 L1298.5,588.2 L1300.0,588.2 L1301.6,588.2 L1303.2,588.2 L1304.8,588.2 L1306.4,588.2 L1308.0,588.2 L1309.6,588.2 L1311.2,588.2 L1312.8,588.2 L1314.4,588.1 L1316.0,588.1 L1317.7,588.1 L1319.3,588.1 L1320.9,588.1 L1322.5,588.1 L1324.1,588.1 L1325.7,588.1 L1327.3,588.1 L1328.9,588.1 L1330.5,588.1 L1332.0,588.1 L1333.6,588.1 L1335.1,588.1 L1336.7,588.1 L1338.2,588.0 L1339.7,588.0 L1341.2,588.0 L1342.7,588.0 L1344.1,588.1 L1345.6,588.1 L1347.0,588.1 L1348.4,588.1 L1349.8,588.1 L1351.2,588.1 L1352.5,588.1 L1353.8,588.1 L1355.1,588.1 L1356.4,588.1 L1357.6,588.2 L1358.8,588.2 L1360.0,588.2 L1362.1,588.2 L1364.1,588.3 L1366.1,588.4 L1368.0,588.4 L1369.9,588.5 L1371.7,588.6 L1373.4,588.7 L1375.1,588.8 L1376.7,588.9 L1378.3,589.0 L1379.9,589.1 L1381.3,589.2 L1382.8,589.3 L1384.1,589.4 L1385.5,589.5 L1386.8,589.6 L1388.0,589.8 L1389.2,589.8 L1390.3,590.0 L1391.4,590.1 L1392.5,590.1 L1393.5,590.2 L1396.4,590.5 L1398.3,590.6 L1399.4,590.9 L1400.4,591.0 L1401.7,591.2 L1403.8,591.7 L1405.0,591.9 L1406.2,592.0 L1407.6,592.2 L1409.0,592.4 L1410.5,592.7 L1412.0,592.9 L1413.5,593.2 L1415.1,593.4 L1416.7,593.6 L1418.4,594.0 L1420.0,594.3 L1421.5,594.6 L1423.1,594.9 L1424.6,595.2 L1426.1,595.6 L1427.6,596.1 L1429.1,596.5 L1430.5,596.9 L1432.0,597.4 L1433.5,597.7 L1435.0,598.3 L1436.5,598.6 L1438.0,599.3 L1439.5,599.7 L1440.9,600.2 L1442.4,600.9 L1443.9,601.4 L1445.4,601.6 L1446.9,602.3 L1448.4,602.7 L1449.8,603.4 L1451.3,603.9 L1452.8,604.5 L1454.3,605.2 L1455.8,605.6 L1457.2,606.4 L1458.7,607.0 L1460.2,607.6 L1461.7,608.2 L1463.1,609.0 L1464.6,609.7 L1466.1,610.2 L1467.4,610.9 L1468.7,611.7 L1470.0,612.5 L1471.3,613.3 L1472.6,613.9 L1473.9,614.7 L1475.2,615.3 L1476.5,616.3 L1477.8,617.0 L1479.1,618.0 L1480.4,618.5 L1481.7,619.6 L1483.0,620.1 L1484.3,621.3 L1485.6,621.9 L1486.9,622.9 L1488.2,623.6 L1489.5,624.4 L1490.8,625.7 L1492.1,626.2 L1493.4,627.3 L1494.7,628.4 L1496.0,629.0 L1497.3,629.7 L1498.6,630.5 L1499.9,631.7 L1501.2,632.6 L1502.5,633.4 L1503.8,634.4 L1505.1,635.9 L1506.4,636.6 L1507.7,637.6 L1508.9,638.4 L1510.1,639.5 L1511.3,640.5 L1512.5,641.7 L1513.7,643.1 L1515.0,644.3 L1516.2,644.8 L1517.5,646.4 L1518.7,647.0 L1519.9,648.4 L1521.1,649.8 L1522.3,650.8 L1523.4,651.7 L1524.5,652.6 L1525.6,653.6 L1526.6,654.8 L1527.6,655.4 L1528.5,656.4 L1530.0,658.3 L1531.4,659.3 L1532.6,660.4 L1533.7,662.0 L1534.7,662.8 L1535.7,663.5 L1536.7,664.7 L1537.7,666.1 L1538.8,667.1 L1540.0,668.3 L1541.0,669.6 L1541.9,670.7 L1542.9,671.1 L1544.0,672.9 L1545.0,673.9 L1546.0,674.5 L1547.1,676.4 L1548.1,677.0 L1549.1,678.6 L1550.2,679.7 L1551.2,680.6 L1552.3,681.8 L1553.3,683.1 L1554.4,684.0 L1555.5,685.5 L1556.6,686.4 L1557.8,687.3 L1558.9,688.4 L1560.0,689.7 L1561.1,691.1 L1562.2,691.7 L1563.4,693.3 L1564.5,694.4 L1565.6,695.3 L1566.7,696.4 L1567.7,697.2 L1568.8,699.1 L1569.8,699.4 L1570.8,701.3 L1571.8,702.5 L1572.8,703.6 L1573.9,704.5 L1574.9,705.3 L1575.9,706.5 L1576.9,707.5 L1577.9,708.8 L1579.0,710.1 L1580.0,711.1 L1581.0,712.3 L1582.1,713.5 L1583.1,714.2 L1584.1,716.3 L1585.2,717.4 L1586.2,718.6 L1587.2,719.5 L1588.2,719.9 L1589.3,721.7 L1590.3,722.4 L1591.3,724.3 L1592.4,724.9 L1593.4,725.8 L1594.4,727.6 L1595.5,728.2 L1596.5,729.8 L1597.5,730.9 L1598.5,731.3 L1599.5,733.5 L1600.6,733.8 L1601.6,735.2 L1602.6,736.1 L1603.6,737.7 L1604.6,738.8 L1605.7,739.6 L1606.7,741.2 L1607.7,741.8 L1608.8,743.3 L1609.8,744.9 L1610.8,745.8 L1611.9,746.1 L1612.9,748.0 L1613.9,748.5 L1614.9,750.4 L1616.0,750.9 L1617.0,751.9 L1618.0,752.8 L1619.1,754.1 L1620.1,755.3 L1621.1,757.0 L1622.2,757.8 L1623.2,759.0 L1624.2,760.6 L1625.2,761.6 L1626.2,762.5 L1627.3,764.1 L1628.3,766.1 L1629.3,766.6 L1630.3,768.6 L1631.3,769.6 L1632.4,771.0 L1633.4,771.7 L1634.4,772.6 L1635.5,774.4 L1636.5,775.7 L1637.5,776.3 L1638.6,778.6 L1639.6,779.7 L1640.6,780.0 L1641.6,781.7 L1642.7,782.9 L1643.7,784.7 L1644.7,785.1 L1645.8,787.2 L1646.8,787.9 L1647.8,788.7 L1648.9,791.0 L1649.9,792.1 L1650.9,792.5 L1651.9,794.4 L1652.9,795.6 L1654.0,796.6 L1655.0,798.1 L1656.0,799.5 L1657.0,800.0 L1658.0,801.1 L1659.1,802.8 L1660.1,804.3 L1661.1,805.8 L1662.2,806.6 L1663.2,807.4 L1664.2,809.5 L1665.3,811.1 L1666.3,812.3 L1667.3,813.6 L1668.3,814.6 L1669.4,815.2 L1670.4,816.7 L1671.4,817.6 L1672.5,818.4 L1673.5,820.9 L1674.6,821.0 L1675.7,822.7 L1676.8,824.3 L1677.9,825.4 L1679.0,826.2 L1680.1,826.7 L1681.3,827.9 L1682.4,828.7 L1683.5,830.8 L1684.6,832.1 L1685.7,832.2 L1686.8,833.1 L1687.8,834.8 L1688.9,835.5 L1689.9,836.3 L1690.9,838.0 L1692.0,839.5 L1693.0,840.5 L1694.0,841.4 L1695.0,843.2 L1696.1,843.9 L1697.1,845.5 L1698.1,846.6 L1699.2,847.8 L1700.2,847.8 L1701.4,849.3 L1702.6,850.1 L1703.8,851.4 L1705.0,853.1 L1706.2,853.7 L1707.5,854.6 L1708.7,856.7 L1709.9,857.8 L1711.1,858.4 L1712.3,859.0 L1713.5,860.9 L1714.7,861.9 L1715.9,862.4 L1717.2,863.1 L1718.4,864.0 L1719.6,865.1 L1720.8,867.1 L1722.0,868.0 L1723.2,869.0 L1724.5,869.5 L1725.7,870.8 L1726.9,871.1 L1728.1,871.9 L1729.3,872.5 L1730.5,873.4 L1731.7,874.8 L1732.9,875.3 L1734.2,877.4 L1735.4,878.2 L1736.6,879.5 L1737.8,880.5 L1739.0,880.3 L1740.2,881.2 L1741.4,883.1 L1742.6,883.6 L1743.9,885.4 L1745.1,886.0 L1746.3,886.9 L1747.5,888.0 L1748.7,889.9 L1749.9,890.1 L1751.2,890.9 L1752.4,891.5 L1753.6,893.1 L1755.1,892.8 L1756.7,893.0 L1758.2,894.7 L1759.8,894.4 L1761.4,895.6 L1762.9,895.3 L1764.3,895.3 L1765.7,895.5 L1766.9,895.0 L1768.8,895.4 L1770.5,893.1 L1772.0,893.6 L1773.4,893.0 L1774.9,892.7 L1776.0,893.6 L1777.1,894.0 L1778.3,896.5 L1779.4,898.2 L1780.5,899.4 L1781.5,900.6 L1782.3,902.9 L1782.9,902.9" fill="none" stroke="#0000ff" stroke-width="1.3" stroke-dasharray="6 3"/>
<path d="M1234.0,588.5 L1234.8,588.5 L1235.6,588.5 L1236.6,588.5 L1237.5,588.5 L1238.6,588.5 L1239.7,588.5 L1240.9,588.5 L1242.1,588.5 L1243.3,588.5 L1244.6,588.4 L1246.0,588.4 L1247.4,588.4 L1248.8,588.4 L1250.3,588.4 L1251.8,588.4 L1253.4,588.4 L1255.0,588.4 L1256.6,588.4 L1258.2,588.4 L1259.9,588.4 L1261.6,588.4 L1263.2,588.4 L1265.0,588.3 L1266.7,588.3 L1268.4,588.3 L1270.2,588.3 L1271.9,588.3 L1273.7,588.3 L1275.4,588.3 L1277.2,588.3 L1278.9,588.3 L1280.6,588.3 L1282.4,588.3 L1284.1,588.3 L1285.8,588.2 L1287.5,588.2 L1289.1,588.2 L1290.8,588.2 L1292.4,588.2 L1294.0,588.2 L1295.5,588.2 L1297.1,588.2 L1298.5,588.2 L1300.0,588.2 L1301.6,588.2 L1303.2,588.2 L1304.8,588.2 L1306.4,588.2 L1308.0,588.2 L1309.6,588.2 L1311.2,588.2 L1312.8,588.2 L1314.4,588.1 L1316.0,588.1 L1317.7,588.1 L1319.3,588.1 L1320.9,588.1 L1322.5,588.1 L1324.1,588.1 L1325.7,588.1 L1327.3,588.1 L1328.9,588.1 L1330.5,588.1 L1332.0,588.1 L1333.6,588.1 L1335.1,588.1 L1336.7,588.1 L1338.2,588.0 L1339.7,588.0 L1341.2,588.0 L1342.7,588.0 L1344.1,588.1 L1345.6,588.1 L1347.0,588.1 L1348.4,588.1 L1349.8,588.1 L1351.2,588.1 L1352.5,588.1 L1353.8,588.1 L1355.1,588.1 L1356.4,588.1 L1357.6,588.2 L1358.8,588.2 L1360.0,588.2 L1362.1,588.2 L1364.1,588.3 L1366.1,588.4 L1368.0,588.4 L1369.9,588.5 L1371.7,588.6 L1373.4,588.7 L1375.1,588.8 L1376.7,588.9 L1378.3,589.0 L1379.9,589.1 L1381.3,589.2 L1382.8,589.3 L1384.1,589.4 L1385.5,589.5 L1386.8,589.6 L1388.0,589.7 L1389.2,589.8 L1390.3,589.9 L1391.4,589.9 L1392.5,590.0 L1393.5,590.1 L1396.4,590.3 L1398.3,590.5 L1399.4,590.7 L1400.4,590.8 L1401.7,591.1 L1403.8,591.4 L1405.0,591.5 L1406.2,591.8 L1407.6,591.9 L1409.0,592.1 L1410.5,592.4 L1412.0,592.5 L1413.5,592.8 L1415.1,593.0 L1416.7,593.3 L1418.4,593.5 L1420.0,593.9 L1421.5,594.2 L1423.1,594.5 L1424.6,595.0 L1426.1,595.3 L1427.6,595.7 L1429.1,596.1 L1430.5,596.5 L1432.0,596.9 L1433.5,597.3 L1435.0,597.6 L1436.5,598.1 L1438.0,598.8 L1439.5,599.1 L1440.9,599.7 L1442.4,600.1 L1443.9,600.7 L1445.4,601.1 L1446.9,601.7 L1448.4,602.1 L1449.8,602.7 L1451.3,603.1 L1452.8,603.8 L1454.3,604.5 L1455.8,605.1 L1457.2,605.7 L1458.7,606.2 L1460.2,606.9 L1461.7,607.5 L1463.1,608.1 L1464.6,608.9 L1466.1,609.6 L1467.4,610.0 L1468.7,610.7 L1470.0,611.6 L1471.3,612.3 L1472.6,613.1 L1473.9,613.8 L1475.2,614.4 L1476.5,615.4 L1477.8,616.3 L1479.1,616.9 L1480.4,617.8 L1481.7,618.4 L1483.0,619.3 L1484.3,620.0 L1485.6,621.2 L1486.9,621.9 L1488.2,622.5 L1489.5,623.9 L1490.8,624.4 L1492.1,625.3 L1493.4,626.4 L1494.7,626.8 L1496.0,627.7 L1497.3,629.0 L1498.6,629.9 L1499.9,630.3 L1501.2,631.4 L1502.5,632.4 L1503.8,633.6 L1505.1,634.7 L1506.4,635.3 L1507.7,636.8 L1508.9,637.4 L1510.1,638.2 L1511.3,639.7 L1512.5,640.5 L1513.7,641.9 L1515.0,642.8 L1516.2,643.8 L1517.5,645.1 L1518.7,646.1 L1519.9,647.5 L1521.1,648.2 L1522.3,649.7 L1523.4,650.3 L1524.5,651.2 L1525.6,652.7 L1526.6,653.7 L1527.6,654.1 L1528.5,655.1 L1530.0,656.4 L1531.4,658.1 L1532.6,659.1 L1533.7,659.8 L1534.7,660.9 L1535.7,662.5 L1536.7,663.0 L1537.7,664.7 L1538.8,665.1 L1540.0,667.0 L1541.0,667.3 L1541.9,669.1 L1542.9,669.7 L1544.0,671.1 L1545.0,672.4 L1546.0,673.3 L1547.1,674.8 L1548.1,675.8 L1549.1,676.7 L1550.2,677.7 L1551.2,679.3 L1552.3,680.4 L1553.3,681.4 L1554.4,682.9 L1555.5,683.5 L1556.6,684.6 L1557.8,686.0 L1558.9,687.1 L1560.0,687.6 L1561.1,689.3 L1562.2,690.4 L1563.4,691.7 L1564.5,692.2 L1565.6,693.4 L1566.7,694.4 L1567.7,695.9 L1568.8,696.8 L1569.8,697.7 L1570.8,699.0 L1571.8,700.5 L1572.8,701.2 L1573.9,702.8 L1574.9,703.6 L1575.9,704.5 L1576.9,705.8 L1577.9,707.6 L1579.0,708.6 L1580.0,708.9 L1581.0,711.0 L1582.1,712.1 L1583.1,713.1 L1584.1,713.4 L1585.2,714.8 L1586.2,716.0 L1587.2,717.4 L1588.2,718.3 L1589.3,719.8 L1590.3,721.2 L1591.3,721.8 L1592.4,722.8 L1593.4,724.1 L1594.4,725.6 L1595.5,726.7 L1596.5,727.3 L1597.5,728.2 L1598.5,729.5 L1599.5,730.9 L1600.6,732.4 L1601.6,732.7 L1602.6,734.5 L1603.6,735.3 L1604.6,736.8 L1605.7,737.2 L1606.7,738.9 L1607.7,739.6 L1608.8,740.6 L1609.8,741.9 L1610.8,743.3 L1611.9,744.5 L1612.9,745.4 L1613.9,747.1 L1614.9,747.2 L1616.0,748.9 L1617.0,750.4 L1618.0,751.4 L1619.1,752.3 L1620.1,753.2 L1621.1,754.3 L1622.2,755.4 L1623.2,757.2 L1624.2,757.9 L1625.2,758.9 L1626.2,760.7 L1627.3,761.5 L1628.3,762.9 L1629.3,764.2 L1630.3,765.6 L1631.3,766.7 L1632.4,767.8 L1633.4,769.3 L1634.4,771.1 L1635.5,771.3 L1636.5,773.6 L1637.5,774.2 L1638.6,775.3 L1639.6,776.3 L1640.6,778.7 L1641.6,779.9 L1642.7,780.0 L1643.7,782.3 L1644.7,782.6 L1645.8,784.1 L1646.8,785.1 L1647.8,786.8 L1648.9,787.6 L1649.9,788.6 L1650.9,789.8 L1651.9,791.8 L1652.9,792.6 L1654.0,794.0 L1655.0,795.3 L1656.0,796.6 L1657.0,798.2 L1658.0,799.0 L1659.1,800.2 L1660.1,801.5 L1661.1,802.2 L1662.2,804.0 L1663.2,805.1 L1664.2,807.0 L1665.3,808.2 L1666.3,809.0 L1667.3,809.8 L1668.3,810.9 L1669.4,812.3 L1670.4,814.5 L1671.4,815.8 L1672.5,816.4 L1673.5,817.0 L1674.6,819.0 L1675.7,820.3 L1676.8,821.2 L1677.9,822.2 L1679.0,822.6 L1680.1,824.1 L1681.3,826.0 L1682.4,826.8 L1683.5,827.8 L1684.6,828.2 L1685.7,829.8 L1686.8,830.0 L1687.8,832.1 L1688.9,833.6 L1689.9,834.4 L1690.9,835.1 L1692.0,836.0 L1693.0,837.2 L1694.0,838.2 L1695.0,839.4 L1696.1,841.7 L1697.1,841.9 L1698.1,843.5 L1699.2,844.4 L1700.2,845.1 L1701.4,846.7 L1702.6,847.2 L1703.8,849.1 L1705.0,849.6 L1706.2,851.4 L1707.5,852.0 L1708.7,854.0 L1709.9,853.6 L1711.1,855.4 L1712.3,856.0 L1713.5,856.8 L1714.7,858.8 L1715.9,859.2 L1717.2,861.0 L1718.4,861.7 L1719.6,863.1 L1720.8,863.0 L1722.0,864.8 L1723.2,865.0 L1724.5,866.5 L1725.7,868.0 L1726.9,868.5 L1728.1,869.5 L1729.3,869.7 L1730.5,871.8 L1731.7,871.5 L1732.9,872.5 L1734.2,874.3 L1735.4,875.4 L1736.6,875.8 L1737.8,877.6 L1739.0,878.6 L1740.2,878.4 L1741.4,880.5 L1742.6,881.5 L1743.9,881.4 L1745.1,882.7 L1746.3,883.5 L1747.5,885.6 L1748.7,887.0 L1749.9,887.5 L1751.2,888.0 L1752.4,889.3 L1753.6,890.2 L1755.1,889.7 L1756.7,891.2 L1758.2,891.2 L1759.8,891.1 L1761.4,892.4 L1762.9,891.7 L1764.3,892.1 L1765.7,891.5 L1766.9,892.7 L1768.8,891.6 L1770.5,890.2 L1772.0,889.5 L1773.4,889.4 L1774.9,889.2 L1776.0,890.8 L1777.1,891.3 L1778.3,893.7 L1779.4,894.3 L1780.5,896.6 L1781.5,898.7 L1782.3,899.1 L1782.9,899.7" fill="none" stroke="#0000ff" stroke-width="1.4"/>
<path d="M1089.0,587.7 L1089.8,587.7 L1090.6,587.7 L1091.4,587.7 L1092.3,587.7 L1093.1,587.7 L1094.1,587.7 L1095.0,587.7 L1096.0,587.7 L1097.0,587.7 L1098.0,587.7 L1099.0,587.7 L1100.1,587.7 L1101.2,587.7 L1102.3,587.7 L1103.5,587.7 L1104.6,587.7 L1105.8,587.7 L1107.1,587.7 L1108.3,587.7 L1109.6,587.7 L1110.9,587.7 L1112.2,587.7 L1113.5,587.7 L1114.8,587.7 L1116.2,587.7 L1117.6,587.7 L1119.0,587.7 L1120.4,587.7 L1121.9,587.7 L1123.3,587.7 L1124.8,587.7 L1126.3,587.7 L1127.8,587.7 L1129.4,587.7 L1130.9,587.7 L1132.5,587.7 L1134.1,587.7 L1135.7,587.7 L1137.3,587.7 L1138.9,587.7 L1140.5,587.7 L1142.2,587.7 L1143.8,587.7 L1145.5,587.7 L1147.2,587.7 L1148.9,587.7 L1150.6,587.7 L1152.3,587.7 L1154.1,587.7 L1155.8,587.7 L1157.5,587.7 L1159.3,587.7 L1161.1,587.7 L1162.8,587.7 L1164.6,587.7 L1166.4,587.7 L1168.2,587.7 L1170.0,587.7 L1171.8,587.7 L1173.6,587.7 L1175.5,587.7 L1177.3,587.7 L1179.1,587.7 L1180.9,587.7 L1182.8,587.7 L1184.6,587.7 L1186.5,587.7 L1188.3,587.7 L1190.2,587.7 L1192.0,587.7 L1193.8,587.7 L1195.7,587.7 L1197.5,587.7 L1199.4,587.7 L1201.2,587.7 L1203.1,587.7 L1204.9,587.7 L1206.8,587.7 L1208.6,587.7 L1210.5,587.7 L1212.3,587.7 L1214.1,587.7 L1216.0,587.7 L1217.8,587.7 L1219.6,587.7 L1221.4,587.7 L1223.2,587.7 L1225.0,587.7 L1226.8,587.7 L1228.6,587.7 L1230.4,587.7 L1232.2,587.7 L1233.9,587.7 L1235.7,587.7 L1237.4,587.7 L1239.2,587.7 L1240.9,587.7 L1242.6,587.7 L1244.3,587.7 L1246.0,587.7 L1247.7,587.7 L1249.4,587.7 L1251.0,587.7 L1252.7,587.7 L1254.3,587.7 L1255.9,587.7 L1257.6,587.7 L1259.1,587.7 L1260.7,587.7 L1262.3,587.7 L1263.8,587.7 L1265.4,587.7 L1266.9,587.7 L1268.4,587.7 L1269.9,587.7 L1271.3,587.7 L1272.8,587.7 L1274.2,587.7 L1275.6,587.7 L1277.0,587.7 L1278.4,587.7 L1279.7,587.7 L1281.0,587.7 L1282.3,587.7 L1283.6,587.7 L1284.9,587.7 L1286.1,587.7 L1287.3,587.7 L1288.5,587.7 L1289.7,587.7 L1290.8,587.7 L1292.0,587.7 L1293.1,587.7 L1294.1,587.7 L1295.2,587.7 L1296.2,587.7 L1297.2,587.7 L1298.2,587.7 L1299.1,587.7 L1300.0,587.7 L1304.6,587.7 L1308.7,587.7 L1312.4,587.7 L1315.7,587.7 L1318.7,587.7 L1321.3,587.7 L1323.5,587.6 L1325.5,587.6 L1327.2,587.6 L1328.6,587.6 L1329.9,587.6 L1330.9,587.6 L1331.8,587.6 L1332.5,587.6 L1333.2,587.6 L1333.7,587.6 L1334.2,587.5 L1334.6,587.5 L1335.0,587.5 L1335.5,587.5 L1336.0,587.5 L1336.5,587.5 L1337.2,587.5 L1338.0,587.5 L1338.9,587.5 L1340.0,587.5 L1342.1,587.5 L1344.1,587.5 L1346.0,587.5 L1347.7,587.5 L1349.3,587.5 L1350.9,587.5 L1352.4,587.5 L1353.8,587.5 L1355.2,587.5 L1356.6,587.5 L1357.9,587.6 L1359.3,587.6 L1360.8,587.6 L1362.3,587.7 L1363.9,587.8 L1365.6,587.9 L1367.2,587.9 L1368.8,588.0 L1370.4,588.1 L1372.0,588.2 L1373.6,588.4 L1375.2,588.5 L1376.8,588.6 L1378.3,588.8 L1379.9,588.9 L1381.5,589.1 L1383.1,589.3 L1384.7,589.4 L1386.3,589.6 L1387.9,589.8 L1389.5,590.0 L1391.1,590.3 L1392.7,590.5 L1394.2,590.7 L1395.8,591.0 L1397.4,591.2 L1399.0,591.6 L1400.6,591.9 L1402.2,592.2 L1403.8,592.5 L1405.3,592.9 L1406.8,593.2 L1408.3,593.7 L1409.7,594.0 L1411.2,594.4 L1412.7,594.8 L1414.2,595.2 L1415.7,595.7 L1417.2,596.1 L1418.7,596.5 L1420.1,597.1 L1421.6,597.5 L1423.1,598.0 L1424.6,598.7 L1426.0,599.1 L1427.4,599.7 L1428.8,600.1 L1430.1,600.7 L1431.5,601.2 L1432.9,602.0 L1434.3,602.6 L1435.7,603.3 L1437.1,603.8 L1438.5,604.3 L1439.9,605.1 L1441.2,605.6 L1442.6,606.2 L1444.0,607.1 L1445.4,607.8 L1446.8,608.5 L1448.2,608.9 L1449.5,609.8 L1450.9,610.5 L1452.3,611.2 L1453.7,611.7 L1455.1,612.5 L1456.4,613.5 L1457.8,614.2 L1459.2,615.0 L1460.6,615.7 L1462.0,616.4 L1463.3,617.2 L1464.7,618.0 L1466.1,619.0 L1467.4,619.6 L1468.7,620.4 L1470.0,621.2 L1471.3,622.2 L1472.6,622.9 L1473.9,623.5 L1475.2,624.3 L1476.5,625.1 L1477.8,626.1 L1479.1,627.1 L1480.4,627.6 L1481.7,628.5 L1483.0,629.4 L1484.3,630.6 L1485.6,631.0 L1486.9,632.3 L1488.1,632.8 L1489.3,633.9 L1490.6,634.4 L1491.8,635.7 L1493.0,636.6 L1494.2,637.4 L1495.5,637.9 L1496.7,639.0 L1497.9,640.0 L1499.1,640.8 L1500.4,641.5 L1501.6,642.6 L1502.8,643.8 L1504.0,644.3 L1505.3,645.6 L1506.5,646.8 L1507.7,647.6 L1508.9,648.7 L1510.1,649.1 L1511.3,650.8 L1512.5,651.8 L1513.7,652.3 L1515.0,653.9 L1516.2,654.6 L1517.5,655.6 L1518.7,656.9 L1519.9,658.0 L1521.1,658.8 L1522.3,660.1 L1523.4,661.4 L1524.5,662.3 L1525.6,662.9 L1526.6,664.0 L1527.6,664.8 L1528.5,666.0 L1529.9,667.6 L1531.1,668.5 L1532.3,669.5 L1533.3,670.8 L1534.3,671.7 L1535.2,673.4 L1536.1,673.8 L1537.0,674.9 L1537.9,676.1 L1538.9,677.4 L1540.0,678.1 L1541.1,679.0 L1542.3,680.7 L1543.5,681.3 L1544.7,682.1 L1545.9,683.7 L1547.1,684.3 L1548.4,685.6 L1549.6,686.6 L1550.9,687.8 L1552.1,688.6 L1553.3,690.2 L1554.4,690.9 L1555.5,692.2 L1556.6,693.3 L1557.8,694.4 L1558.9,695.2 L1560.0,696.9 L1561.1,697.6 L1562.2,698.5 L1563.4,700.2 L1564.5,701.2 L1565.6,702.2 L1566.7,703.3 L1567.8,704.2 L1568.9,705.1 L1570.0,706.7 L1571.1,707.9 L1572.2,709.0 L1573.4,709.5 L1574.5,711.1 L1575.6,712.6 L1576.7,712.9 L1577.8,714.5 L1578.9,715.3 L1580.0,716.1 L1581.1,717.6 L1582.2,718.9 L1583.3,719.7 L1584.5,721.4 L1585.6,721.8 L1586.7,723.3 L1587.8,724.5 L1588.9,725.1 L1590.1,726.1 L1591.2,727.0 L1592.3,729.0 L1593.4,729.4 L1594.5,731.4 L1595.6,731.9 L1596.7,733.0 L1597.8,733.7 L1598.9,735.1 L1600.1,736.2 L1601.2,737.8 L1602.3,738.2 L1603.4,739.9 L1604.5,740.8 L1605.6,741.3 L1606.7,742.6 L1607.8,744.4 L1608.9,745.2 L1610.0,746.1 L1611.2,747.2 L1612.3,748.0 L1613.4,749.4 L1614.5,750.9 L1615.6,751.6 L1616.8,752.8 L1617.9,754.2 L1619.0,754.9 L1620.1,756.4 L1621.2,757.4 L1622.3,757.8 L1623.4,759.7 L1624.5,761.2 L1625.6,761.5 L1626.7,763.3 L1627.9,763.8 L1629.0,765.8 L1630.1,765.8 L1631.2,767.7 L1632.3,768.2 L1633.4,769.2 L1634.7,770.5 L1636.1,771.0 L1637.4,772.2 L1638.8,772.7 L1640.1,773.2 L1641.4,774.2 L1642.8,774.9 L1644.1,776.0 L1645.5,777.2 L1646.8,776.8 L1648.3,777.4 L1649.8,778.2 L1651.2,778.5 L1652.7,779.9 L1654.2,779.6 L1655.7,780.4 L1657.1,781.8 L1658.6,782.1 L1660.1,782.9 L1661.6,783.2 L1663.1,783.9 L1664.6,784.0 L1666.1,784.9 L1667.5,784.7 L1669.0,785.2 L1670.5,786.6 L1672.0,787.6 L1673.5,787.3 L1675.0,787.7 L1676.5,788.3 L1677.9,789.1 L1679.4,789.2 L1680.9,790.5 L1682.4,791.4 L1683.8,791.2 L1685.3,792.2 L1686.8,792.6 L1688.3,792.5 L1689.9,793.4 L1691.5,793.1 L1693.1,794.1 L1694.7,793.9 L1696.2,795.4 L1697.6,795.9 L1699.0,795.0 L1700.2,796.5 L1702.6,795.8 L1704.7,796.2 L1706.3,797.3 L1707.5,796.7" fill="none" stroke="#ff0000" stroke-width="1.3" stroke-dasharray="6 3"/>
<path d="M1089.0,587.7 L1089.8,587.7 L1090.6,587.7 L1091.4,587.7 L1092.3,587.7 L1093.1,587.7 L1094.1,587.7 L1095.0,587.7 L1096.0,587.7 L1097.0,587.7 L1098.0,587.7 L1099.0,587.7 L1100.1,587.7 L1101.2,587.7 L1102.3,587.7 L1103.5,587.7 L1104.6,587.7 L1105.8,587.7 L1107.1,587.7 L1108.3,587.7 L1109.6,587.7 L1110.9,587.7 L1112.2,587.7 L1113.5,587.7 L1114.8,587.7 L1116.2,587.7 L1117.6,587.7 L1119.0,587.7 L1120.4,587.7 L1121.9,587.7 L1123.3,587.7 L1124.8,587.7 L1126.3,587.7 L1127.8,587.7 L1129.4,587.7 L1130.9,587.7 L1132.5,587.7 L1134.1,587.7 L1135.7,587.7 L1137.3,587.7 L1138.9,587.7 L1140.5,587.7 L1142.2,587.7 L1143.8,587.7 L1145.5,587.7 L1147.2,587.7 L1148.9,587.7 L1150.6,587.7 L1152.3,587.7 L1154.1,587.7 L1155.8,587.7 L1157.5,587.7 L1159.3,587.7 L1161.1,587.7 L1162.8,587.7 L1164.6,587.7 L1166.4,587.7 L1168.2,587.7 L1170.0,587.7 L1171.8,587.7 L1173.6,587.7 L1175.5,587.7 L1177.3,587.7 L1179.1,587.7 L1180.9,587.7 L1182.8,587.7 L1184.6,587.7 L1186.5,587.7 L1188.3,587.7 L1190.2,587.7 L1192.0,587.7 L1193.8,587.7 L1195.7,587.7 L1197.5,587.7 L1199.4,587.7 L1201.2,587.7 L1203.1,587.7 L1204.9,587.7 L1206.8,587.7 L1208.6,587.7 L1210.5,587.7 L1212.3,587.7 L1214.1,587.7 L1216.0,587.7 L1217.8,587.7 L1219.6,587.7 L1221.4,587.7 L1223.2,587.7 L1225.0,587.7 L1226.8,587.7 L1228.6,587.7 L1230.4,587.7 L1232.2,587.7 L1233.9,587.7 L1235.7,587.7 L1237.4,587.7 L1239.2,587.7 L1240.9,587.7 L1242.6,587.7 L1244.3,587.7 L1246.0,587.7 L1247.7,587.7 L1249.4,587.7 L1251.0,587.7 L1252.7,587.7 L1254.3,587.7 L1255.9,587.7 L1257.6,587.7 L1259.1,587.7 L1260.7,587.7 L1262.3,587.7 L1263.8,587.7 L1265.4,587.7 L1266.9,587.7 L1268.4,587.7 L1269.9,587.7 L1271.3,587.7 L1272.8,587.7 L1274.2,587.7 L1275.6,587.7 L1277.0,587.7 L1278.4,587.7 L1279.7,587.7 L1281.0,587.7 L1282.3,587.7 L1283.6,587.7 L1284.9,587.7 L1286.1,587.7 L1287.3,587.7 L1288.5,587.7 L1289.7,587.7 L1290.8,587.7 L1292.0,587.7 L1293.1,587.7 L1294.1,587.7 L1295.2,587.7 L1296.2,587.7 L1297.2,587.7 L1298.2,587.7 L1299.1,587.7 L1300.0,587.7 L1304.6,587.7 L1308.7,587.7 L1312.4,587.7 L1315.7,587.7 L1318.7,587.7 L1321.3,587.7 L1323.5,587.6 L1325.5,587.6 L1327.2,587.6 L1328.6,587.6 L1329.9,587.6 L1330.9,587.6 L1331.8,587.6 L1332.5,587.6 L1333.2,587.6 L1333.7,587.6 L1334.2,587.5 L1334.6,587.5 L1335.0,587.5 L1335.5,587.5 L1336.0,587.5 L1336.5,587.5 L1337.2,587.5 L1338.0,587.5 L1338.9,587.5 L1340.0,587.5 L1342.1,587.5 L1344.1,587.5 L1346.0,587.5 L1347.7,587.5 L1349.3,587.5 L1350.9,587.5 L1352.4,587.5 L1353.8,587.5 L1355.2,587.5 L1356.6,587.5 L1357.9,587.6 L1359.3,587.6 L1360.8,587.6 L1362.3,587.7 L1363.9,587.8 L1365.6,587.9 L1367.2,587.9 L1368.8,588.0 L1370.4,588.1 L1372.0,588.2 L1373.6,588.4 L1375.2,588.5 L1376.8,588.6 L1378.3,588.8 L1379.9,588.9 L1381.5,589.1 L1383.1,589.3 L1384.7,589.6 L1386.3,589.8 L1387.9,590.0 L1389.5,590.3 L1391.1,590.5 L1392.7,590.7 L1394.2,591.0 L1395.8,591.3 L1397.4,591.7 L1399.0,592.0 L1400.6,592.3 L1402.2,592.7 L1403.8,593.1 L1405.3,593.4 L1406.8,593.8 L1408.3,594.2 L1409.7,594.6 L1411.2,595.0 L1412.7,595.6 L1414.2,595.9 L1415.7,596.5 L1417.2,597.0 L1418.7,597.4 L1420.1,598.0 L1421.6,598.5 L1423.1,599.1 L1424.6,599.7 L1426.0,600.0 L1427.4,600.8 L1428.8,601.3 L1430.1,601.8 L1431.5,602.4 L1432.9,603.2 L1434.3,603.6 L1435.7,604.4 L1437.1,605.0 L1438.5,605.8 L1439.9,606.4 L1441.2,607.1 L1442.6,607.8 L1444.0,608.3 L1445.4,609.2 L1446.8,609.8 L1448.2,610.5 L1449.5,611.4 L1450.9,612.0 L1452.3,612.9 L1453.7,613.4 L1455.1,614.1 L1456.4,615.2 L1457.8,615.9 L1459.2,616.7 L1460.6,617.3 L1462.0,618.4 L1463.3,619.1 L1464.7,619.8 L1466.1,620.8 L1467.4,621.6 L1468.7,622.3 L1470.0,623.1 L1471.3,624.1 L1472.6,624.9 L1473.9,625.6 L1475.2,626.5 L1476.5,627.3 L1477.8,628.0 L1479.1,629.3 L1480.4,630.1 L1481.7,630.6 L1483.0,631.7 L1484.3,632.4 L1485.6,633.6 L1486.9,634.5 L1488.1,635.5 L1489.3,636.4 L1490.6,636.9 L1491.8,637.8 L1493.0,638.9 L1494.2,639.6 L1495.5,640.6 L1496.7,641.7 L1497.9,642.4 L1499.1,643.3 L1500.4,644.3 L1501.6,645.3 L1502.8,646.6 L1504.0,647.2 L1505.3,648.1 L1506.5,649.0 L1507.7,650.1 L1508.9,651.6 L1510.1,652.1 L1511.3,653.1 L1512.5,654.4 L1513.7,655.3 L1515.0,656.6 L1516.2,657.7 L1517.5,659.0 L1518.7,660.1 L1519.9,661.1 L1521.1,662.1 L1522.3,663.1 L1523.4,664.0 L1524.5,665.4 L1525.6,666.0 L1526.6,667.4 L1527.6,668.4 L1528.5,669.5 L1529.9,670.4 L1531.1,671.7 L1532.3,673.3 L1533.3,674.0 L1534.3,675.7 L1535.2,676.4 L1536.1,677.6 L1537.0,678.6 L1537.9,679.2 L1538.9,680.6 L1540.0,681.7 L1541.1,682.5 L1542.3,683.7 L1543.5,685.0 L1544.7,686.2 L1545.9,686.9 L1547.1,688.3 L1548.4,689.2 L1549.6,690.1 L1550.9,691.3 L1552.1,692.7 L1553.3,693.8 L1554.4,694.7 L1555.5,695.9 L1556.6,697.2 L1557.8,698.3 L1558.9,699.4 L1560.0,700.2 L1561.1,701.9 L1562.2,702.8 L1563.4,704.4 L1564.5,705.1 L1565.6,706.3 L1566.7,707.9 L1567.8,708.5 L1568.9,709.7 L1570.0,710.6 L1571.1,711.6 L1572.2,713.4 L1573.4,714.0 L1574.5,715.4 L1575.6,716.1 L1576.7,717.4 L1577.8,718.5 L1578.9,720.1 L1580.0,721.0 L1581.1,722.3 L1582.2,723.4 L1583.3,724.0 L1584.5,725.9 L1585.6,727.0 L1586.7,728.0 L1587.8,728.7 L1588.9,730.1 L1590.1,730.7 L1591.2,732.4 L1592.3,732.8 L1593.4,734.5 L1594.5,735.5 L1595.6,736.5 L1596.7,738.3 L1597.8,739.0 L1598.9,740.5 L1600.1,740.8 L1601.2,742.7 L1602.3,743.4 L1603.4,744.1 L1604.5,745.4 L1605.6,747.1 L1606.7,747.4 L1607.8,748.7 L1608.9,750.1 L1610.0,751.5 L1611.2,752.4 L1612.3,753.4 L1613.4,754.1 L1614.5,756.3 L1615.6,757.1 L1616.8,757.6 L1617.9,758.9 L1619.0,760.8 L1620.1,761.6 L1621.2,763.0 L1622.3,763.5 L1623.4,764.9 L1624.5,765.8 L1625.6,767.3 L1626.7,767.9 L1627.9,769.4 L1629.0,771.1 L1630.1,771.6 L1631.2,772.8 L1632.3,774.0 L1633.4,775.4 L1634.7,776.4 L1636.1,777.2 L1637.4,778.0 L1638.8,778.4 L1640.1,779.8 L1641.4,780.6 L1642.8,780.4 L1644.1,781.5 L1645.5,781.8 L1646.8,782.7 L1648.3,784.1 L1649.8,784.2 L1651.2,785.4 L1652.7,786.3 L1654.2,786.0 L1655.7,786.6 L1657.1,788.0 L1658.6,787.7 L1660.1,788.8 L1661.6,789.4 L1663.1,789.3 L1664.6,789.8 L1666.1,790.4 L1667.5,791.9 L1669.0,792.4 L1670.5,793.5 L1672.0,793.5 L1673.5,793.4 L1675.0,794.7 L1676.5,795.4 L1677.9,796.1 L1679.4,795.6 L1680.9,796.8 L1682.4,796.6 L1683.8,798.4 L1685.3,797.9 L1686.8,798.7 L1688.3,799.1 L1689.9,800.6 L1691.5,799.7 L1693.1,801.0 L1694.7,802.0 L1696.2,801.7 L1697.6,803.0 L1699.0,802.4 L1700.2,803.6 L1702.6,803.1 L1704.7,803.5 L1706.3,803.8 L1707.5,804.4" fill="none" stroke="#ff0000" stroke-width="1.3" stroke-dasharray="6 3"/>
<path d="M1089.0,587.7 L1089.8,587.7 L1090.6,587.7 L1091.4,587.7 L1092.3,587.7 L1093.1,587.7 L1094.1,587.7 L1095.0,587.7 L1096.0,587.7 L1097.0,587.7 L1098.0,587.7 L1099.0,587.7 L1100.1,587.7 L1101.2,587.7 L1102.3,587.7 L1103.5,587.7 L1104.6,587.7 L1105.8,587.7 L1107.1,587.7 L1108.3,587.7 L1109.6,587.7 L1110.9,587.7 L1112.2,587.7 L1113.5,587.7 L1114.8,587.7 L1116.2,587.7 L1117.6,587.7 L1119.0,587.7 L1120.4,587.7 L1121.9,587.7 L1123.3,587.7 L1124.8,587.7 L1126.3,587.7 L1127.8,587.7 L1129.4,587.7 L1130.9,587.7 L1132.5,587.7 L1134.1,587.7 L1135.7,587.7 L1137.3,587.7 L1138.9,587.7 L1140.5,587.7 L1142.2,587.7 L1143.8,587.7 L1145.5,587.7 L1147.2,587.7 L1148.9,587.7 L1150.6,587.7 L1152.3,587.7 L1154.1,587.7 L1155.8,587.7 L1157.5,587.7 L1159.3,587.7 L1161.1,587.7 L1162.8,587.7 L1164.6,587.7 L1166.4,587.7 L1168.2,587.7 L1170.0,587.7 L1171.8,587.7 L1173.6,587.7 L1175.5,587.7 L1177.3,587.7 L1179.1,587.7 L1180.9,587.7 L1182.8,587.7 L1184.6,587.7 L1186.5,587.7 L1188.3,587.7 L1190.2,587.7 L1192.0,587.7 L1193.8,587.7 L1195.7,587.7 L1197.5,587.7 L1199.4,587.7 L1201.2,587.7 L1203.1,587.7 L1204.9,587.7 L1206.8,587.7 L1208.6,587.7 L1210.5,587.7 L1212.3,587.7 L1214.1,587.7 L1216.0,587.7 L1217.8,587.7 L1219.6,587.7 L1221.4,587.7 L1223.2,587.7 L1225.0,587.7 L1226.8,587.7 L1228.6,587.7 L1230.4,587.7 L1232.2,587.7 L1233.9,587.7 L1235.7,587.7 L1237.4,587.7 L1239.2,587.7 L1240.9,587.7 L1242.6,587.7 L1244.3,587.7 L1246.0,587.7 L1247.7,587.7 L1249.4,587.7 L1251.0,587.7 L1252.7,587.7 L1254.3,587.7 L1255.9,587.7 L1257.6,587.7 L1259.1,587.7 L1260.7,587.7 L1262.3,587.7 L1263.8,587.7 L1265.4,587.7 L1266.9,587.7 L1268.4,587.7 L1269.9,587.7 L1271.3,587.7 L1272.8,587.7 L1274.2,587.7 L1275.6,587.7 L1277.0,587.7 L1278.4,587.7 L1279.7,587.7 L1281.0,587.7 L1282.3,587.7 L1283.6,587.7 L1284.9,587.7 L1286.1,587.7 L1287.3,587.7 L1288.5,587.7 L1289.7,587.7 L1290.8,587.7 L1292.0,587.7 L1293.1,587.7 L1294.1,587.7 L1295.2,587.7 L1296.2,587.7 L1297.2,587.7 L1298.2,587.7 L1299.1,587.7 L1300.0,587.7 L1304.6,587.7 L1308.7,587.7 L1312.4,587.7 L1315.7,587.7 L1318.7,587.7 L1321.3,587.7 L1323.5,587.6 L1325.5,587.6 L1327.2,587.6 L1328.6,587.6 L1329.9,587.6 L1330.9,587.6 L1331.8,587.6 L1332.5,587.6 L1333.2,587.6 L1333.7,587.6 L1334.2,587.5 L1334.6,587.5 L1335.0,587.5 L1335.5,587.5 L1336.0,587.5 L1336.5,587.5 L1337.2,587.5 L1338.0,587.5 L1338.9,587.5 L1340.0,587.5 L1342.1,587.5 L1344.1,587.5 L1346.0,587.5 L1347.7,587.5 L1349.3,587.5 L1350.9,587.5 L1352.4,587.5 L1353.8,587.5 L1355.2,587.5 L1356.6,587.5 L1357.9,587.6 L1359.3,587.6 L1360.8,587.6 L1362.3,587.7 L1363.9,587.8 L1365.6,587.9 L1367.2,587.9 L1368.8,588.0 L1370.4,588.1 L1372.0,588.2 L1373.6,588.4 L1375.2,588.5 L1376.8,588.6 L1378.3,588.8 L1379.9,588.9 L1381.5,589.1 L1383.1,589.3 L1384.7,589.5 L1386.3,589.7 L1387.9,589.9 L1389.5,590.1 L1391.1,590.4 L1392.7,590.6 L1394.2,590.9 L1395.8,591.1 L1397.4,591.5 L1399.0,591.7 L1400.6,592.1 L1402.2,592.4 L1403.8,592.8 L1405.3,593.2 L1406.8,593.6 L1408.3,593.9 L1409.7,594.3 L1411.2,594.7 L1412.7,595.2 L1414.2,595.7 L1415.7,596.1 L1417.2,596.5 L1418.7,597.0 L1420.1,597.5 L1421.6,597.9 L1423.1,598.5 L1424.6,599.1 L1426.0,599.7 L1427.4,600.3 L1428.8,600.7 L1430.1,601.3 L1431.5,601.9 L1432.9,602.6 L1434.3,603.1 L1435.7,603.8 L1437.1,604.5 L1438.5,604.9 L1439.9,605.7 L1441.2,606.3 L1442.6,607.1 L1444.0,607.8 L1445.4,608.3 L1446.8,609.0 L1448.2,609.9 L1449.5,610.7 L1450.9,611.4 L1452.3,612.1 L1453.7,612.8 L1455.1,613.6 L1456.4,614.2 L1457.8,615.2 L1459.2,615.8 L1460.6,616.4 L1462.0,617.3 L1463.3,618.0 L1464.7,618.8 L1466.1,619.9 L1467.4,620.7 L1468.7,621.2 L1470.0,622.3 L1471.3,623.1 L1472.6,623.9 L1473.9,624.6 L1475.2,625.3 L1476.5,626.5 L1477.8,627.0 L1479.1,628.1 L1480.4,628.8 L1481.7,629.9 L1483.0,630.7 L1484.3,631.5 L1485.6,632.3 L1486.9,633.1 L1488.1,634.2 L1489.3,634.8 L1490.6,636.0 L1491.8,636.6 L1493.0,637.9 L1494.2,638.7 L1495.5,639.4 L1496.7,640.6 L1497.9,641.1 L1499.1,642.4 L1500.4,643.0 L1501.6,644.2 L1502.8,644.8 L1504.0,645.9 L1505.3,647.1 L1506.5,647.6 L1507.7,649.0 L1508.9,649.8 L1510.1,650.6 L1511.3,651.6 L1512.5,652.9 L1513.7,653.9 L1515.0,655.0 L1516.2,656.3 L1517.5,657.6 L1518.7,658.3 L1519.9,659.4 L1521.1,660.6 L1522.3,661.6 L1523.4,662.7 L1524.5,663.5 L1525.6,665.0 L1526.6,665.9 L1527.6,666.6 L1528.5,667.5 L1529.9,668.9 L1531.1,670.0 L1532.3,671.6 L1533.3,672.4 L1534.3,673.4 L1535.2,674.4 L1536.1,676.1 L1537.0,677.0 L1537.9,678.2 L1538.9,679.0 L1540.0,680.3 L1541.1,681.0 L1542.3,682.3 L1543.5,683.6 L1544.7,684.0 L1545.9,685.7 L1547.1,686.6 L1548.4,687.8 L1549.6,688.5 L1550.9,689.9 L1552.1,690.7 L1553.3,692.1 L1554.4,693.5 L1555.5,694.2 L1556.6,695.5 L1557.8,696.5 L1558.9,697.9 L1560.0,698.7 L1561.1,699.4 L1562.2,700.6 L1563.4,701.7 L1564.5,703.4 L1565.6,703.8 L1566.7,705.2 L1567.8,706.4 L1568.9,708.0 L1570.0,709.2 L1571.1,709.7 L1572.2,711.4 L1573.4,711.7 L1574.5,713.1 L1575.6,713.8 L1576.7,715.1 L1577.8,716.1 L1578.9,717.2 L1580.0,718.7 L1581.1,719.8 L1582.2,720.6 L1583.3,722.5 L1584.5,723.4 L1585.6,724.4 L1586.7,725.0 L1587.8,726.6 L1588.9,727.9 L1590.1,728.4 L1591.2,729.7 L1592.3,731.4 L1593.4,732.1 L1594.5,732.7 L1595.6,734.0 L1596.7,735.4 L1597.8,736.3 L1598.9,737.6 L1600.1,739.1 L1601.2,740.3 L1602.3,740.9 L1603.4,742.1 L1604.5,743.7 L1605.6,744.4 L1606.7,745.4 L1607.8,746.6 L1608.9,748.2 L1610.0,749.3 L1611.2,749.7 L1612.3,751.5 L1613.4,751.6 L1614.5,753.6 L1615.6,754.6 L1616.8,755.1 L1617.9,757.1 L1619.0,757.7 L1620.1,759.0 L1621.2,759.5 L1622.3,760.9 L1623.4,761.7 L1624.5,763.0 L1625.6,764.5 L1626.7,765.9 L1627.9,766.5 L1629.0,768.4 L1630.1,769.2 L1631.2,770.2 L1632.3,771.1 L1633.4,772.0 L1634.7,773.3 L1636.1,774.4 L1637.4,775.1 L1638.8,776.2 L1640.1,776.6 L1641.4,777.0 L1642.8,778.6 L1644.1,779.0 L1645.5,779.0 L1646.8,780.6 L1648.3,780.7 L1649.8,781.1 L1651.2,782.5 L1652.7,782.4 L1654.2,782.8 L1655.7,784.1 L1657.1,785.0 L1658.6,784.5 L1660.1,785.8 L1661.6,786.1 L1663.1,786.2 L1664.6,787.8 L1666.1,787.2 L1667.5,788.4 L1669.0,789.6 L1670.5,789.9 L1672.0,790.0 L1673.5,790.4 L1675.0,791.7 L1676.5,792.3 L1677.9,792.7 L1679.4,792.9 L1680.9,793.0 L1682.4,793.5 L1683.8,794.7 L1685.3,795.2 L1686.8,795.5 L1688.3,796.3 L1689.9,796.1 L1691.5,796.3 L1693.1,797.0 L1694.7,798.3 L1696.2,797.9 L1697.6,798.9 L1699.0,799.3 L1700.2,799.8 L1702.6,800.1 L1704.7,800.1 L1706.3,800.1 L1707.5,800.6" fill="none" stroke="#ff0000" stroke-width="1.4"/>
<path d="M398.70,74.00V930.00" stroke="#000" stroke-width="2.4" stroke-dasharray="9.2 7.0" fill="none"/>
<path d="M1333.20,74.10V930.00" stroke="#000" stroke-width="2.4" stroke-dasharray="9.2 7.0" fill="none"/>
<path d="M774.00,76.50V930.00" stroke="#ff0000" stroke-width="2.4" stroke-dasharray="9.2 7.0" fill="none"/>
<path d="M1708.70,87.30V930.00" stroke="#ff0000" stroke-width="2.4" stroke-dasharray="9.2 7.0" fill="none"/>
<path d="M856.10,76.60V930.00" stroke="#163d7c" stroke-width="2.4" stroke-dasharray="9.2 7.0" fill="none"/>
<path d="M1791.80,311.40V930.00" stroke="#163d7c" stroke-width="2.4" stroke-dasharray="9.2 7.0" fill="none"/>
<path d="M153.30,63.30V453.30H862.90" fill="none" stroke="#2e2e2e" stroke-width="2.2"/>
<path d="M242.00,453.30v-9 M330.70,453.30v-9 M419.40,453.30v-9 M508.10,453.30v-9 M596.80,453.30v-9 M685.50,453.30v-9 M774.20,453.30v-9 M862.90,453.30v-9 M153.30,403.40h7.3 M153.30,355.30h7.3 M153.30,305.90h7.3 M153.30,257.40h7.3 M153.30,208.90h7.3 M153.30,159.60h7.3 M153.30,111.40h7.3 M153.30,63.30h7.3 " fill="none" stroke="#2e2e2e" stroke-width="2"/>
<text transform="translate(152.80,479.50) scale(0.9000,1)" text-anchor="middle" font-size="23.20" fill="#262626" stroke="#fff" stroke-width="0.12">0</text>
<text transform="translate(241.50,479.50) scale(0.9000,1)" text-anchor="middle" font-size="23.20" fill="#262626" stroke="#fff" stroke-width="0.12">100</text>
<text transform="translate(330.20,479.50) scale(0.9000,1)" text-anchor="middle" font-size="23.20" fill="#262626" stroke="#fff" stroke-width="0.12">200</text>
<text transform="translate(418.90,479.50) scale(0.9000,1)" text-anchor="middle" font-size="23.20" fill="#262626" stroke="#fff" stroke-width="0.12">300</text>
<text transform="translate(507.60,479.50) scale(0.9000,1)" text-anchor="middle" font-size="23.20" fill="#262626" stroke="#fff" stroke-width="0.12">400</text>
<text transform="translate(596.30,479.50) scale(0.9000,1)" text-anchor="middle" font-size="23.20" fill="#262626" stroke="#fff" stroke-width="0.12">500</text>
<text transform="translate(685.00,479.50) scale(0.9000,1)" text-anchor="middle" font-size="23.20" fill="#262626" stroke="#fff" stroke-width="0.12">600</text>
<text transform="translate(773.70,479.50) scale(0.9000,1)" text-anchor="middle" font-size="23.20" fill="#262626" stroke="#fff" stroke-width="0.12">700</text>
<text transform="translate(862.40,479.50) scale(0.9000,1)" text-anchor="middle" font-size="23.20" fill="#262626" stroke="#fff" stroke-width="0.12">800</text>
<text transform="translate(143.80,460.80) scale(0.9000,1)" text-anchor="end" font-size="23.20" fill="#262626" stroke="#fff" stroke-width="0.12">-0.02</text>
<text transform="translate(143.80,411.40) scale(0.9000,1)" text-anchor="end" font-size="23.20" fill="#262626" stroke="#fff" stroke-width="0.12">0</text>
<text transform="translate(143.80,363.30) scale(0.9000,1)" text-anchor="end" font-size="23.20" fill="#262626" stroke="#fff" stroke-width="0.12">0.02</text>
<text transform="translate(143.80,313.90) scale(0.9000,1)" text-anchor="end" font-size="23.20" fill="#262626" stroke="#fff" stroke-width="0.12">0.04</text>
<text transform="translate(143.80,265.40) scale(0.9000,1)" text-anchor="end" font-size="23.20" fill="#262626" stroke="#fff" stroke-width="0.12">0.06</text>
<text transform="translate(143.80,216.90) scale(0.9000,1)" text-anchor="end" font-size="23.20" fill="#262626" stroke="#fff" stroke-width="0.12">0.08</text>
<text transform="translate(143.80,167.60) scale(0.9000,1)" text-anchor="end" font-size="23.20" fill="#262626" stroke="#fff" stroke-width="0.12">0.1</text>
<text transform="translate(143.80,119.40) scale(0.9000,1)" text-anchor="end" font-size="23.20" fill="#262626" stroke="#fff" stroke-width="0.12">0.12</text>
<text transform="translate(143.80,71.30) scale(0.9000,1)" text-anchor="end" font-size="23.20" fill="#262626" stroke="#fff" stroke-width="0.12">0.14</text>
<path d="M1088.90,63.50V449.40H1798.90" fill="none" stroke="#2e2e2e" stroke-width="2.2"/>
<path d="M1177.65,449.40v-9 M1266.40,449.40v-9 M1355.15,449.40v-9 M1443.90,449.40v-9 M1532.65,449.40v-9 M1621.40,449.40v-9 M1710.15,449.40v-9 M1798.90,449.40v-9 M1088.90,63.50h7.3 M1088.90,118.30h7.3 M1088.90,172.90h7.3 M1088.90,227.80h7.3 M1088.90,283.90h7.3 M1088.90,338.60h7.3 M1088.90,393.50h7.3 " fill="none" stroke="#2e2e2e" stroke-width="2"/>
<text transform="translate(1088.40,475.60) scale(0.9000,1)" text-anchor="middle" font-size="23.20" fill="#262626" stroke="#fff" stroke-width="0.12">0</text>
<text transform="translate(1177.15,475.60) scale(0.9000,1)" text-anchor="middle" font-size="23.20" fill="#262626" stroke="#fff" stroke-width="0.12">100</text>
<text transform="translate(1265.90,475.60) scale(0.9000,1)" text-anchor="middle" font-size="23.20" fill="#262626" stroke="#fff" stroke-width="0.12">200</text>
<text transform="translate(1354.65,475.60) scale(0.9000,1)" text-anchor="middle" font-size="23.20" fill="#262626" stroke="#fff" stroke-width="0.12">300</text>
<text transform="translate(1443.40,475.60) scale(0.9000,1)" text-anchor="middle" font-size="23.20" fill="#262626" stroke="#fff" stroke-width="0.12">400</text>
<text transform="translate(1532.15,475.60) scale(0.9000,1)" text-anchor="middle" font-size="23.20" fill="#262626" stroke="#fff" stroke-width="0.12">500</text>
<text transform="translate(1620.90,475.60) scale(0.9000,1)" text-anchor="middle" font-size="23.20" fill="#262626" stroke="#fff" stroke-width="0.12">600</text>
<text transform="translate(1709.65,475.60) scale(0.9000,1)" text-anchor="middle" font-size="23.20" fill="#262626" stroke="#fff" stroke-width="0.12">700</text>
<text transform="translate(1798.40,475.60) scale(0.9000,1)" text-anchor="middle" font-size="23.20" fill="#262626" stroke="#fff" stroke-width="0.12">800</text>
<text transform="translate(1079.40,71.50) scale(0.9000,1)" text-anchor="end" font-size="23.20" fill="#262626" stroke="#fff" stroke-width="0.12">0.1</text>
<text transform="translate(1079.40,126.30) scale(0.9000,1)" text-anchor="end" font-size="23.20" fill="#262626" stroke="#fff" stroke-width="0.12">0.05</text>
<text transform="translate(1079.40,180.90) scale(0.9000,1)" text-anchor="end" font-size="23.20" fill="#262626" stroke="#fff" stroke-width="0.12">0</text>
<text transform="translate(1079.40,235.80) scale(0.9000,1)" text-anchor="end" font-size="23.20" fill="#262626" stroke="#fff" stroke-width="0.12">-0.05</text>
<text transform="translate(1079.40,291.90) scale(0.9000,1)" text-anchor="end" font-size="23.20" fill="#262626" stroke="#fff" stroke-width="0.12">-0.1</text>
<text transform="translate(1079.40,346.60) scale(0.9000,1)" text-anchor="end" font-size="23.20" fill="#262626" stroke="#fff" stroke-width="0.12">-0.15</text>
<text transform="translate(1079.40,401.50) scale(0.9000,1)" text-anchor="end" font-size="23.20" fill="#262626" stroke="#fff" stroke-width="0.12">-0.2</text>
<text transform="translate(1079.40,457.40) scale(0.9000,1)" text-anchor="end" font-size="23.20" fill="#262626" stroke="#fff" stroke-width="0.12">-0.25</text>
<path d="M153.50,534.80V930.80H863.02" fill="none" stroke="#2e2e2e" stroke-width="2.2"/>
<path d="M242.19,930.80v-9 M330.88,930.80v-9 M419.57,930.80v-9 M508.26,930.80v-9 M596.95,930.80v-9 M685.64,930.80v-9 M774.33,930.80v-9 M863.02,930.80v-9 M153.50,534.80h7.3 M153.50,599.60h7.3 M153.50,665.30h7.3 M153.50,730.60h7.3 M153.50,798.30h7.3 M153.50,864.60h7.3 " fill="none" stroke="#2e2e2e" stroke-width="2"/>
<text transform="translate(153.00,957.00) scale(0.9000,1)" text-anchor="middle" font-size="23.20" fill="#262626" stroke="#fff" stroke-width="0.12">0</text>
<text transform="translate(241.69,957.00) scale(0.9000,1)" text-anchor="middle" font-size="23.20" fill="#262626" stroke="#fff" stroke-width="0.12">100</text>
<text transform="translate(330.38,957.00) scale(0.9000,1)" text-anchor="middle" font-size="23.20" fill="#262626" stroke="#fff" stroke-width="0.12">200</text>
<text transform="translate(419.07,957.00) scale(0.9000,1)" text-anchor="middle" font-size="23.20" fill="#262626" stroke="#fff" stroke-width="0.12">300</text>
<text transform="translate(507.76,957.00) scale(0.9000,1)" text-anchor="middle" font-size="23.20" fill="#262626" stroke="#fff" stroke-width="0.12">400</text>
<text transform="translate(596.45,957.00) scale(0.9000,1)" text-anchor="middle" font-size="23.20" fill="#262626" stroke="#fff" stroke-width="0.12">500</text>
<text transform="translate(685.14,957.00) scale(0.9000,1)" text-anchor="middle" font-size="23.20" fill="#262626" stroke="#fff" stroke-width="0.12">600</text>
<text transform="translate(773.83,957.00) scale(0.9000,1)" text-anchor="middle" font-size="23.20" fill="#262626" stroke="#fff" stroke-width="0.12">700</text>
<text transform="translate(862.52,957.00) scale(0.9000,1)" text-anchor="middle" font-size="23.20" fill="#262626" stroke="#fff" stroke-width="0.12">800</text>
<text transform="translate(144.00,542.80) scale(0.9000,1)" text-anchor="end" font-size="23.20" fill="#262626" stroke="#fff" stroke-width="0.12">0.15</text>
<text transform="translate(144.00,607.60) scale(0.9000,1)" text-anchor="end" font-size="23.20" fill="#262626" stroke="#fff" stroke-width="0.12">0.1</text>
<text transform="translate(144.00,673.30) scale(0.9000,1)" text-anchor="end" font-size="23.20" fill="#262626" stroke="#fff" stroke-width="0.12">0.05</text>
<text transform="translate(144.00,738.60) scale(0.9000,1)" text-anchor="end" font-size="23.20" fill="#262626" stroke="#fff" stroke-width="0.12">0</text>
<text transform="translate(144.00,806.30) scale(0.9000,1)" text-anchor="end" font-size="23.20" fill="#262626" stroke="#fff" stroke-width="0.12">-0.05</text>
<text transform="translate(144.00,872.60) scale(0.9000,1)" text-anchor="end" font-size="23.20" fill="#262626" stroke="#fff" stroke-width="0.12">-0.1</text>
<text transform="translate(144.00,938.80) scale(0.9000,1)" text-anchor="end" font-size="23.20" fill="#262626" stroke="#fff" stroke-width="0.12">-0,15</text>
<path d="M1088.80,539.60V930.90H1798.80" fill="none" stroke="#2e2e2e" stroke-width="2.2"/>
<path d="M1177.55,930.90v-9 M1266.30,930.90v-9 M1355.05,930.90v-9 M1443.80,930.90v-9 M1532.55,930.90v-9 M1621.30,930.90v-9 M1710.05,930.90v-9 M1798.80,930.90v-9 M1088.80,539.60h7.3 M1088.80,588.00h7.3 M1088.80,637.40h7.3 M1088.80,686.00h7.3 M1088.80,735.30h7.3 M1088.80,783.80h7.3 M1088.80,833.00h7.3 M1088.80,881.50h7.3 " fill="none" stroke="#2e2e2e" stroke-width="2"/>
<text transform="translate(1088.30,957.10) scale(0.9000,1)" text-anchor="middle" font-size="23.20" fill="#262626" stroke="#fff" stroke-width="0.12">0</text>
<text transform="translate(1177.05,957.10) scale(0.9000,1)" text-anchor="middle" font-size="23.20" fill="#262626" stroke="#fff" stroke-width="0.12">100</text>
<text transform="translate(1265.80,957.10) scale(0.9000,1)" text-anchor="middle" font-size="23.20" fill="#262626" stroke="#fff" stroke-width="0.12">200</text>
<text transform="translate(1354.55,957.10) scale(0.9000,1)" text-anchor="middle" font-size="23.20" fill="#262626" stroke="#fff" stroke-width="0.12">300</text>
<text transform="translate(1443.30,957.10) scale(0.9000,1)" text-anchor="middle" font-size="23.20" fill="#262626" stroke="#fff" stroke-width="0.12">400</text>
<text transform="translate(1532.05,957.10) scale(0.9000,1)" text-anchor="middle" font-size="23.20" fill="#262626" stroke="#fff" stroke-width="0.12">500</text>
<text transform="translate(1620.80,957.10) scale(0.9000,1)" text-anchor="middle" font-size="23.20" fill="#262626" stroke="#fff" stroke-width="0.12">600</text>
<text transform="translate(1709.55,957.10) scale(0.9000,1)" text-anchor="middle" font-size="23.20" fill="#262626" stroke="#fff" stroke-width="0.12">700</text>
<text transform="translate(1798.30,957.10) scale(0.9000,1)" text-anchor="middle" font-size="23.20" fill="#262626" stroke="#fff" stroke-width="0.12">800</text>
<text transform="translate(1080.80,547.60) scale(0.9000,1)" text-anchor="end" font-size="23.20" fill="#262626" stroke="#fff" stroke-width="0.12">0.02</text>
<text transform="translate(1080.80,596.00) scale(0.9000,1)" text-anchor="end" font-size="23.20" fill="#262626" stroke="#fff" stroke-width="0.12">0</text>
<text transform="translate(1080.80,645.40) scale(0.9000,1)" text-anchor="end" font-size="23.20" fill="#262626" stroke="#fff" stroke-width="0.12">-0.02</text>
<text transform="translate(1080.80,694.00) scale(0.9000,1)" text-anchor="end" font-size="23.20" fill="#262626" stroke="#fff" stroke-width="0.12">-0.04</text>
<text transform="translate(1080.80,743.30) scale(0.9000,1)" text-anchor="end" font-size="23.20" fill="#262626" stroke="#fff" stroke-width="0.12">-0.06</text>
<text transform="translate(1080.80,791.80) scale(0.9000,1)" text-anchor="end" font-size="23.20" fill="#262626" stroke="#fff" stroke-width="0.12">-0.08</text>
<text transform="translate(1080.80,841.00) scale(0.9000,1)" text-anchor="end" font-size="23.20" fill="#262626" stroke="#fff" stroke-width="0.12">-0.1</text>
<text transform="translate(1080.80,889.50) scale(0.9000,1)" text-anchor="end" font-size="23.20" fill="#262626" stroke="#fff" stroke-width="0.12">-0.12</text>
<text transform="translate(1080.80,938.90) scale(0.9000,1)" text-anchor="end" font-size="23.20" fill="#262626" stroke="#fff" stroke-width="0.12">-0.14</text>
<rect x="364.30" y="510.00" width="67.20" height="51.40" fill="#fff" stroke="#000" stroke-width="2.4"/><text transform="translate(384.12,545.20) scale(0.8914,1)" font-size="26.38" fill="#000">BL</text>
<rect x="739.70" y="510.10" width="67.40" height="51.40" fill="#fff" stroke="#000" stroke-width="2.4"/><text transform="translate(756.95,545.44) scale(0.8846,1)" font-size="26.20" fill="#ff0000">FO</text>
<rect x="823.10" y="511.40" width="67.40" height="50.90" fill="#fff" stroke="#000" stroke-width="2.4"/><text transform="translate(840.37,545.44) scale(0.8725,1)" font-size="26.20" fill="#1f497d">FO</text>
<rect x="1298.90" y="519.30" width="67.60" height="51.40" fill="#fff" stroke="#000" stroke-width="2.4"/><text transform="translate(1318.72,553.30) scale(0.9115,1)" font-size="25.80" fill="#000">BL</text>
<rect x="1675.60" y="520.50" width="67.50" height="51.40" fill="#fff" stroke="#000" stroke-width="2.4"/><text transform="translate(1692.45,555.84) scale(0.8846,1)" font-size="26.20" fill="#ff0000">FO</text>
<rect x="1756.50" y="519.20" width="67.40" height="51.40" fill="#fff" stroke="#000" stroke-width="2.4"/><text transform="translate(1773.35,553.34) scale(0.9041,1)" font-size="25.63" fill="#1f497d">FO</text>
<rect x="1725.6" y="30.9" width="273.4" height="273.6" fill="#fff" stroke="#262626" stroke-width="2.2"/>
<path d="M1737.3,76.4H1805.2" stroke="#0000ff" stroke-width="2.4"/>
<path d="M1737.3,211.0H1805.2" stroke="#ff0000" stroke-width="2.4"/>
<text transform="translate(1810.11,68.55) scale(0.9896,1)" font-size="35.24" fill="#000" stroke="#fff" stroke-width="0.5">Fallers</text>
<text transform="translate(1809.32,109.70) scale(1.0181,1)" font-size="35.72" fill="#000" stroke="#fff" stroke-width="0.5">(with SEM)</text>
<text transform="translate(1810.59,203.05) scale(0.9982,1)" font-size="35.24" fill="#000" stroke="#fff" stroke-width="0.5">Non-Fallers</text>
<text transform="translate(1809.32,244.20) scale(1.0181,1)" font-size="35.72" fill="#000" stroke="#fff" stroke-width="0.5">(with SEM)</text>
<text transform="translate(299.54,39.31) scale(1.0654,1)" font-size="42.35" fill="#000" stroke="#fff" stroke-width="0.9">CoP mean trajectory</text>
<text transform="translate(1215.77,39.41) scale(1.0632,1)" font-size="42.35" fill="#000" stroke="#fff" stroke-width="0.9">XCoM mean trajectory</text>
<text transform="translate(425.37,995.41) scale(1.0667,1)" font-size="34.22" fill="#000" stroke="#fff" stroke-width="0.6">Time (ms)</text>
<text transform="translate(1361.07,995.41) scale(1.0667,1)" font-size="34.22" fill="#000" stroke="#fff" stroke-width="0.6">Time (ms)</text>
<text transform="translate(36.00,480.00) rotate(-90)" font-size="39.30" fill="#000" stroke="#fff" stroke-width="0.7">Anteroposterior distance</text>
<text transform="translate(80.30,461.38) rotate(-90)" font-size="39.60" fill="#000" stroke="#fff" stroke-width="0.7">(ratio of BoS length)</text>
<text transform="translate(36.00,926.43) rotate(-90)" font-size="39.10" fill="#000" stroke="#fff" stroke-width="0.7">Mediolateral distance</text>
<text transform="translate(80.30,915.98) rotate(-90)" font-size="39.70" fill="#000" stroke="#fff" stroke-width="0.7">(ratio of BoS width)</text>
<text transform="translate(888.53,111.99) scale(0.9154,1)" font-size="31.43" font-weight="bold" fill="#000">Backward</text>
<text transform="translate(890.78,424.79) scale(0.9456,1)" font-size="31.16" font-weight="bold" fill="#000">Forward</text>
<text transform="translate(920.53,541.20) scale(0.9520,1)" font-size="30.48" font-weight="bold" fill="#000">Swing</text>
<text transform="translate(934.59,582.09) scale(0.9230,1)" font-size="31.16" font-weight="bold" fill="#000">side</text>
<text transform="translate(910.65,877.62) scale(0.9949,1)" font-size="28.45" font-weight="bold" fill="#000">Stance</text>
<text transform="translate(928.69,917.89) scale(0.9445,1)" font-size="30.61" font-weight="bold" fill="#000">side</text>
<text transform="translate(1447.32,112.78) scale(0.9574,1)" font-size="30.59" font-weight="bold" fill="#000">Stability +</text>
<text transform="translate(1445.21,403.68) scale(0.9701,1)" font-size="30.59" font-weight="bold" fill="#000">Stability --</text>
<text transform="translate(1445.21,563.08) scale(0.9701,1)" font-size="30.59" font-weight="bold" fill="#000">Stability --</text>
<text transform="translate(1447.32,829.98) scale(0.9574,1)" font-size="30.59" font-weight="bold" fill="#000">Stability +</text>
<path d="M952.00,159.40V367.20" stroke="#000" stroke-width="9.2" fill="none"/><path d="M935.80,184.20L952.00,156.51L968.20,184.20" stroke="#000" stroke-width="9.2" stroke-linecap="round" stroke-linejoin="miter" stroke-miterlimit="10" fill="none"/><path d="M935.80,342.80L952.00,370.17L968.20,342.80" stroke="#000" stroke-width="9.2" stroke-linecap="round" stroke-linejoin="miter" stroke-miterlimit="10" fill="none"/>
<path d="M957.90,624.20V831.40" stroke="#000" stroke-width="9.2" fill="none"/><path d="M941.60,648.70L957.90,621.22L974.20,648.70" stroke="#000" stroke-width="9.2" stroke-linecap="round" stroke-linejoin="miter" stroke-miterlimit="10" fill="none"/><path d="M941.60,807.50L957.90,834.50L974.20,807.50" stroke="#000" stroke-width="9.2" stroke-linecap="round" stroke-linejoin="miter" stroke-miterlimit="10" fill="none"/>
</svg>
</body></html>
